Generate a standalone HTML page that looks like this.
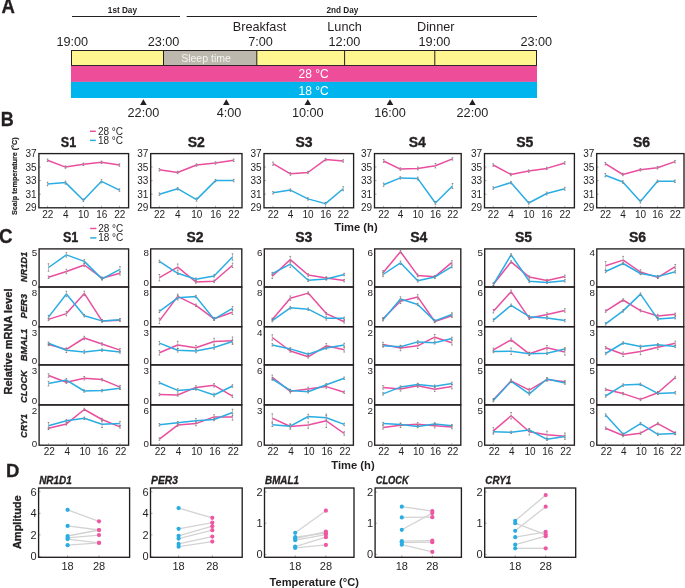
<!DOCTYPE html>
<html><head><meta charset="utf-8"><style>
html,body{margin:0;padding:0;background:#fff;}
svg{display:block;will-change:transform;}
text{font-family:"Liberation Sans", sans-serif;}
</style></head><body>
<svg width="685" height="588" viewBox="0 0 685 588" fill="#231f20" font-family='"Liberation Sans", sans-serif'>
<rect width="685" height="588" fill="#fff"/>
<text x="1.4" y="12.9" font-size="19.5" text-anchor="start" textLength="13.4" lengthAdjust="spacingAndGlyphs" font-weight="bold" stroke="#231f20" stroke-width="0.3">A</text>
<text x="122.4" y="13.1" font-size="8.2" text-anchor="middle" font-weight="bold">1st Day</text>
<text x="342.4" y="13.1" font-size="8.2" text-anchor="middle" font-weight="bold">2nd Day</text>
<line x1="72" y1="16.5" x2="180" y2="16.5" stroke="#231f20" stroke-width="1.1"/>
<line x1="186.7" y1="16.5" x2="537" y2="16.5" stroke="#231f20" stroke-width="1.1"/>
<text x="259.5" y="31" font-size="12.7" text-anchor="middle">Breakfast</text>
<text x="344.6" y="31" font-size="12.7" text-anchor="middle">Lunch</text>
<text x="435.8" y="31" font-size="12.7" text-anchor="middle">Dinner</text>
<text x="72.3" y="46" font-size="12.7" text-anchor="middle">19:00</text>
<text x="163.5" y="46" font-size="12.7" text-anchor="middle">23:00</text>
<text x="260.5" y="46" font-size="12.7" text-anchor="middle">7:00</text>
<text x="344.4" y="46" font-size="12.7" text-anchor="middle">12:00</text>
<text x="434.4" y="46" font-size="12.7" text-anchor="middle">19:00</text>
<text x="536.3" y="46" font-size="12.7" text-anchor="middle">23:00</text>
<rect x="71.5" y="50.5" width="465" height="15" fill="#fff68f" stroke="#231f20" stroke-width="1"/>
<rect x="163.5" y="50.5" width="93.3" height="15" fill="#bcb8ad" stroke="#231f20" stroke-width="1"/>
<line x1="344.6" y1="50.5" x2="344.6" y2="65.5" stroke="#231f20" stroke-width="1"/>
<line x1="434.8" y1="50.5" x2="434.8" y2="65.5" stroke="#231f20" stroke-width="1"/>
<text x="206" y="61.8" font-size="10.5" text-anchor="middle" fill="#f4f3ef">Sleep time</text>
<rect x="71" y="65.9" width="466" height="16.0" fill="#ed4d99" stroke="none" stroke-width="1"/>
<rect x="71" y="81.9" width="466" height="16.1" fill="#00b4ed" stroke="none" stroke-width="1"/>
<text x="298.5" y="78.3" font-size="12" text-anchor="start" fill="#ffffff">28 °C</text>
<text x="298.5" y="94.7" font-size="12" text-anchor="start" fill="#ffffff">18 °C</text>
<polygon points="140.1,105 146.70000000000002,105 143.4,99.3" fill="#231f20"/>
<text x="143.4" y="116.6" font-size="12.7" text-anchor="middle">22:00</text>
<polygon points="223.0,105 229.60000000000002,105 226.3,99.3" fill="#231f20"/>
<text x="229.10000000000002" y="116.6" font-size="12.7" text-anchor="middle">4:00</text>
<polygon points="304.5,105 311.1,105 307.8,99.3" fill="#231f20"/>
<text x="307.8" y="116.6" font-size="12.7" text-anchor="middle">10:00</text>
<polygon points="386.7,105 393.3,105 390,99.3" fill="#231f20"/>
<text x="390" y="116.6" font-size="12.7" text-anchor="middle">16:00</text>
<polygon points="469.09999999999997,105 475.7,105 472.4,99.3" fill="#231f20"/>
<text x="472.4" y="116.6" font-size="12.7" text-anchor="middle">22:00</text>
<text x="0.7" y="125.7" font-size="19.8" text-anchor="start" textLength="13.0" lengthAdjust="spacingAndGlyphs" font-weight="bold" stroke="#231f20" stroke-width="0.3">B</text>
<line x1="90" y1="131.3" x2="95.8" y2="131.3" stroke="#ea4e9f" stroke-width="1.5"/>
<text x="97.9" y="134.5" font-size="10" text-anchor="start">28 °C</text>
<line x1="90" y1="140.4" x2="95.8" y2="140.4" stroke="#29ade3" stroke-width="1.5"/>
<text x="97.9" y="143.8" font-size="10" text-anchor="start">18 °C</text>
<text x="17.4" y="176.2" font-size="7.2" text-anchor="middle" font-weight="bold" transform="rotate(-90 17.4 176.2)" stroke="#231f20" stroke-width="0.2">Scalp temperature (°C)</text>
<text x="68.5" y="146.5" font-size="14" text-anchor="middle" textLength="15.4" lengthAdjust="spacingAndGlyphs" font-weight="bold" stroke="#231f20" stroke-width="0.35">S1</text>
<line x1="47.5" y1="207.8" x2="47.5" y2="205.8" stroke="#777" stroke-width="0.6"/>
<line x1="65.5" y1="207.8" x2="65.5" y2="205.8" stroke="#777" stroke-width="0.6"/>
<line x1="83.4" y1="207.8" x2="83.4" y2="205.8" stroke="#777" stroke-width="0.6"/>
<line x1="101.5" y1="207.8" x2="101.5" y2="205.8" stroke="#777" stroke-width="0.6"/>
<line x1="119.5" y1="207.8" x2="119.5" y2="205.8" stroke="#777" stroke-width="0.6"/>
<line x1="38.9" y1="167.05" x2="40.9" y2="167.05" stroke="#777" stroke-width="0.6"/>
<line x1="38.9" y1="180.6" x2="40.9" y2="180.6" stroke="#777" stroke-width="0.6"/>
<line x1="38.9" y1="194.15" x2="40.9" y2="194.15" stroke="#777" stroke-width="0.6"/>
<polyline points="47.5,160.3 65.5,167.1 83.4,164.3 101.5,162.3 119.5,165.0" fill="none" stroke="#ea4e9f" stroke-width="1.5" stroke-linejoin="round"/>
<polyline points="47.5,184.0 65.5,182.6 83.4,200.2 101.5,181.3 119.5,190.1" fill="none" stroke="#29ade3" stroke-width="1.5" stroke-linejoin="round"/>
<line x1="47.5" y1="159.07500000000002" x2="47.5" y2="161.475" stroke="#a0a0a0" stroke-width="0.7"/>
<line x1="46.7" y1="159.07500000000002" x2="48.3" y2="159.07500000000002" stroke="#707070" stroke-width="0.8"/>
<line x1="46.7" y1="161.475" x2="48.3" y2="161.475" stroke="#707070" stroke-width="0.8"/>
<line x1="47.5" y1="182.1875" x2="47.5" y2="185.78750000000002" stroke="#a0a0a0" stroke-width="0.7"/>
<line x1="46.7" y1="182.1875" x2="48.3" y2="182.1875" stroke="#707070" stroke-width="0.8"/>
<line x1="46.7" y1="185.78750000000002" x2="48.3" y2="185.78750000000002" stroke="#707070" stroke-width="0.8"/>
<line x1="65.5" y1="165.85000000000002" x2="65.5" y2="168.25" stroke="#a0a0a0" stroke-width="0.7"/>
<line x1="64.7" y1="165.85000000000002" x2="66.3" y2="165.85000000000002" stroke="#707070" stroke-width="0.8"/>
<line x1="64.7" y1="168.25" x2="66.3" y2="168.25" stroke="#707070" stroke-width="0.8"/>
<line x1="65.5" y1="181.1325" x2="65.5" y2="184.1325" stroke="#a0a0a0" stroke-width="0.7"/>
<line x1="64.7" y1="181.1325" x2="66.3" y2="181.1325" stroke="#707070" stroke-width="0.8"/>
<line x1="64.7" y1="184.1325" x2="66.3" y2="184.1325" stroke="#707070" stroke-width="0.8"/>
<line x1="83.4" y1="163.14000000000001" x2="83.4" y2="165.54" stroke="#a0a0a0" stroke-width="0.7"/>
<line x1="82.60000000000001" y1="163.14000000000001" x2="84.2" y2="163.14000000000001" stroke="#707070" stroke-width="0.8"/>
<line x1="82.60000000000001" y1="165.54" x2="84.2" y2="165.54" stroke="#707070" stroke-width="0.8"/>
<line x1="83.4" y1="199.0475" x2="83.4" y2="201.4475" stroke="#a0a0a0" stroke-width="0.7"/>
<line x1="82.60000000000001" y1="199.0475" x2="84.2" y2="199.0475" stroke="#707070" stroke-width="0.8"/>
<line x1="82.60000000000001" y1="201.4475" x2="84.2" y2="201.4475" stroke="#707070" stroke-width="0.8"/>
<line x1="101.5" y1="161.1075" x2="101.5" y2="163.50749999999996" stroke="#a0a0a0" stroke-width="0.7"/>
<line x1="100.7" y1="161.1075" x2="102.3" y2="161.1075" stroke="#707070" stroke-width="0.8"/>
<line x1="100.7" y1="163.50749999999996" x2="102.3" y2="163.50749999999996" stroke="#707070" stroke-width="0.8"/>
<line x1="101.5" y1="179.6775" x2="101.5" y2="182.8775" stroke="#a0a0a0" stroke-width="0.7"/>
<line x1="100.7" y1="179.6775" x2="102.3" y2="179.6775" stroke="#707070" stroke-width="0.8"/>
<line x1="100.7" y1="182.8775" x2="102.3" y2="182.8775" stroke="#707070" stroke-width="0.8"/>
<line x1="119.5" y1="163.81750000000002" x2="119.5" y2="166.2175" stroke="#a0a0a0" stroke-width="0.7"/>
<line x1="118.7" y1="163.81750000000002" x2="120.3" y2="163.81750000000002" stroke="#707070" stroke-width="0.8"/>
<line x1="118.7" y1="166.2175" x2="120.3" y2="166.2175" stroke="#707070" stroke-width="0.8"/>
<line x1="119.5" y1="188.885" x2="119.5" y2="191.28499999999997" stroke="#a0a0a0" stroke-width="0.7"/>
<line x1="118.7" y1="188.885" x2="120.3" y2="188.885" stroke="#707070" stroke-width="0.8"/>
<line x1="118.7" y1="191.28499999999997" x2="120.3" y2="191.28499999999997" stroke="#707070" stroke-width="0.8"/>
<rect x="38.9" y="153.6" width="89.69999999999999" height="54.20000000000002" fill="none" stroke="#231f20" stroke-width="1.35"/>
<text x="36.6" y="157.1" font-size="10" text-anchor="end">37</text>
<text x="36.6" y="170.65" font-size="10" text-anchor="end">35</text>
<text x="36.6" y="184.2" font-size="10" text-anchor="end">33</text>
<text x="36.6" y="197.75" font-size="10" text-anchor="end">31</text>
<text x="36.6" y="211.29999999999998" font-size="10" text-anchor="end">29</text>
<text x="47.7" y="218" font-size="10" text-anchor="middle">22</text>
<text x="65.7" y="218" font-size="10" text-anchor="middle">4</text>
<text x="83.60000000000001" y="218" font-size="10" text-anchor="middle">10</text>
<text x="101.7" y="218" font-size="10" text-anchor="middle">16</text>
<text x="119.7" y="218" font-size="10" text-anchor="middle">22</text>
<text x="196.2" y="146.5" font-size="14" text-anchor="middle" font-weight="bold" stroke="#231f20" stroke-width="0.35">S2</text>
<line x1="159.4" y1="207.8" x2="159.4" y2="205.8" stroke="#777" stroke-width="0.6"/>
<line x1="177.6" y1="207.8" x2="177.6" y2="205.8" stroke="#777" stroke-width="0.6"/>
<line x1="196.5" y1="207.8" x2="196.5" y2="205.8" stroke="#777" stroke-width="0.6"/>
<line x1="215.5" y1="207.8" x2="215.5" y2="205.8" stroke="#777" stroke-width="0.6"/>
<line x1="233.7" y1="207.8" x2="233.7" y2="205.8" stroke="#777" stroke-width="0.6"/>
<line x1="150.7" y1="167.05" x2="152.7" y2="167.05" stroke="#777" stroke-width="0.6"/>
<line x1="150.7" y1="180.6" x2="152.7" y2="180.6" stroke="#777" stroke-width="0.6"/>
<line x1="150.7" y1="194.15" x2="152.7" y2="194.15" stroke="#777" stroke-width="0.6"/>
<polyline points="159.4,169.8 177.6,172.5 196.5,165.0 215.5,163.0 233.7,160.3" fill="none" stroke="#ea4e9f" stroke-width="1.5" stroke-linejoin="round"/>
<polyline points="159.4,194.2 177.6,188.7 196.5,199.6 215.5,180.6 233.7,180.6" fill="none" stroke="#29ade3" stroke-width="1.5" stroke-linejoin="round"/>
<line x1="159.4" y1="168.56" x2="159.4" y2="170.95999999999998" stroke="#a0a0a0" stroke-width="0.7"/>
<line x1="158.6" y1="168.56" x2="160.20000000000002" y2="168.56" stroke="#707070" stroke-width="0.8"/>
<line x1="158.6" y1="170.95999999999998" x2="160.20000000000002" y2="170.95999999999998" stroke="#707070" stroke-width="0.8"/>
<line x1="159.4" y1="192.95000000000002" x2="159.4" y2="195.35" stroke="#a0a0a0" stroke-width="0.7"/>
<line x1="158.6" y1="192.95000000000002" x2="160.20000000000002" y2="192.95000000000002" stroke="#707070" stroke-width="0.8"/>
<line x1="158.6" y1="195.35" x2="160.20000000000002" y2="195.35" stroke="#707070" stroke-width="0.8"/>
<line x1="177.6" y1="171.26999999999998" x2="177.6" y2="173.66999999999996" stroke="#a0a0a0" stroke-width="0.7"/>
<line x1="176.79999999999998" y1="171.26999999999998" x2="178.4" y2="171.26999999999998" stroke="#707070" stroke-width="0.8"/>
<line x1="176.79999999999998" y1="173.66999999999996" x2="178.4" y2="173.66999999999996" stroke="#707070" stroke-width="0.8"/>
<line x1="177.6" y1="187.53" x2="177.6" y2="189.92999999999998" stroke="#a0a0a0" stroke-width="0.7"/>
<line x1="176.79999999999998" y1="187.53" x2="178.4" y2="187.53" stroke="#707070" stroke-width="0.8"/>
<line x1="176.79999999999998" y1="189.92999999999998" x2="178.4" y2="189.92999999999998" stroke="#707070" stroke-width="0.8"/>
<line x1="196.5" y1="163.81750000000002" x2="196.5" y2="166.2175" stroke="#a0a0a0" stroke-width="0.7"/>
<line x1="195.7" y1="163.81750000000002" x2="197.3" y2="163.81750000000002" stroke="#707070" stroke-width="0.8"/>
<line x1="195.7" y1="166.2175" x2="197.3" y2="166.2175" stroke="#707070" stroke-width="0.8"/>
<line x1="196.5" y1="197.97" x2="196.5" y2="201.17" stroke="#a0a0a0" stroke-width="0.7"/>
<line x1="195.7" y1="197.97" x2="197.3" y2="197.97" stroke="#707070" stroke-width="0.8"/>
<line x1="195.7" y1="201.17" x2="197.3" y2="201.17" stroke="#707070" stroke-width="0.8"/>
<line x1="215.5" y1="161.785" x2="215.5" y2="164.18499999999997" stroke="#a0a0a0" stroke-width="0.7"/>
<line x1="214.7" y1="161.785" x2="216.3" y2="161.785" stroke="#707070" stroke-width="0.8"/>
<line x1="214.7" y1="164.18499999999997" x2="216.3" y2="164.18499999999997" stroke="#707070" stroke-width="0.8"/>
<line x1="215.5" y1="179.4" x2="215.5" y2="181.79999999999998" stroke="#a0a0a0" stroke-width="0.7"/>
<line x1="214.7" y1="179.4" x2="216.3" y2="179.4" stroke="#707070" stroke-width="0.8"/>
<line x1="214.7" y1="181.79999999999998" x2="216.3" y2="181.79999999999998" stroke="#707070" stroke-width="0.8"/>
<line x1="233.7" y1="159.07500000000002" x2="233.7" y2="161.475" stroke="#a0a0a0" stroke-width="0.7"/>
<line x1="232.89999999999998" y1="159.07500000000002" x2="234.5" y2="159.07500000000002" stroke="#707070" stroke-width="0.8"/>
<line x1="232.89999999999998" y1="161.475" x2="234.5" y2="161.475" stroke="#707070" stroke-width="0.8"/>
<line x1="233.7" y1="179.4" x2="233.7" y2="181.79999999999998" stroke="#a0a0a0" stroke-width="0.7"/>
<line x1="232.89999999999998" y1="179.4" x2="234.5" y2="179.4" stroke="#707070" stroke-width="0.8"/>
<line x1="232.89999999999998" y1="181.79999999999998" x2="234.5" y2="181.79999999999998" stroke="#707070" stroke-width="0.8"/>
<rect x="150.7" y="153.6" width="91.30000000000001" height="54.20000000000002" fill="none" stroke="#231f20" stroke-width="1.35"/>
<text x="148.39999999999998" y="157.1" font-size="10" text-anchor="end">37</text>
<text x="148.39999999999998" y="170.65" font-size="10" text-anchor="end">35</text>
<text x="148.39999999999998" y="184.2" font-size="10" text-anchor="end">33</text>
<text x="148.39999999999998" y="197.75" font-size="10" text-anchor="end">31</text>
<text x="148.39999999999998" y="211.29999999999998" font-size="10" text-anchor="end">29</text>
<text x="159.6" y="218" font-size="10" text-anchor="middle">22</text>
<text x="177.79999999999998" y="218" font-size="10" text-anchor="middle">4</text>
<text x="196.7" y="218" font-size="10" text-anchor="middle">10</text>
<text x="215.7" y="218" font-size="10" text-anchor="middle">16</text>
<text x="233.89999999999998" y="218" font-size="10" text-anchor="middle">22</text>
<text x="304.0" y="146.5" font-size="14" text-anchor="middle" font-weight="bold" stroke="#231f20" stroke-width="0.35">S3</text>
<line x1="273.0" y1="207.8" x2="273.0" y2="205.8" stroke="#777" stroke-width="0.6"/>
<line x1="290.4" y1="207.8" x2="290.4" y2="205.8" stroke="#777" stroke-width="0.6"/>
<line x1="307.9" y1="207.8" x2="307.9" y2="205.8" stroke="#777" stroke-width="0.6"/>
<line x1="325.5" y1="207.8" x2="325.5" y2="205.8" stroke="#777" stroke-width="0.6"/>
<line x1="343.2" y1="207.8" x2="343.2" y2="205.8" stroke="#777" stroke-width="0.6"/>
<line x1="264.0" y1="167.05" x2="266.0" y2="167.05" stroke="#777" stroke-width="0.6"/>
<line x1="264.0" y1="180.6" x2="266.0" y2="180.6" stroke="#777" stroke-width="0.6"/>
<line x1="264.0" y1="194.15" x2="266.0" y2="194.15" stroke="#777" stroke-width="0.6"/>
<polyline points="273.0,163.7 290.4,173.8 307.9,172.5 325.5,159.6 343.2,161.0" fill="none" stroke="#ea4e9f" stroke-width="1.5" stroke-linejoin="round"/>
<polyline points="273.0,192.8 290.4,190.1 307.9,198.9 325.5,203.6 343.2,188.7" fill="none" stroke="#29ade3" stroke-width="1.5" stroke-linejoin="round"/>
<line x1="273.0" y1="162.0625" x2="273.0" y2="165.2625" stroke="#a0a0a0" stroke-width="0.7"/>
<line x1="272.2" y1="162.0625" x2="273.8" y2="162.0625" stroke="#707070" stroke-width="0.8"/>
<line x1="272.2" y1="165.2625" x2="273.8" y2="165.2625" stroke="#707070" stroke-width="0.8"/>
<line x1="273.0" y1="191.59500000000003" x2="273.0" y2="193.995" stroke="#a0a0a0" stroke-width="0.7"/>
<line x1="272.2" y1="191.59500000000003" x2="273.8" y2="191.59500000000003" stroke="#707070" stroke-width="0.8"/>
<line x1="272.2" y1="193.995" x2="273.8" y2="193.995" stroke="#707070" stroke-width="0.8"/>
<line x1="290.4" y1="172.42499999999998" x2="290.4" y2="175.225" stroke="#a0a0a0" stroke-width="0.7"/>
<line x1="289.59999999999997" y1="172.42499999999998" x2="291.2" y2="172.42499999999998" stroke="#707070" stroke-width="0.8"/>
<line x1="289.59999999999997" y1="175.225" x2="291.2" y2="175.225" stroke="#707070" stroke-width="0.8"/>
<line x1="290.4" y1="188.885" x2="290.4" y2="191.28499999999997" stroke="#a0a0a0" stroke-width="0.7"/>
<line x1="289.59999999999997" y1="188.885" x2="291.2" y2="188.885" stroke="#707070" stroke-width="0.8"/>
<line x1="289.59999999999997" y1="191.28499999999997" x2="291.2" y2="191.28499999999997" stroke="#707070" stroke-width="0.8"/>
<line x1="307.9" y1="171.26999999999998" x2="307.9" y2="173.66999999999996" stroke="#a0a0a0" stroke-width="0.7"/>
<line x1="307.09999999999997" y1="171.26999999999998" x2="308.7" y2="171.26999999999998" stroke="#707070" stroke-width="0.8"/>
<line x1="307.09999999999997" y1="173.66999999999996" x2="308.7" y2="173.66999999999996" stroke="#707070" stroke-width="0.8"/>
<line x1="307.9" y1="197.6925" x2="307.9" y2="200.09249999999997" stroke="#a0a0a0" stroke-width="0.7"/>
<line x1="307.09999999999997" y1="197.6925" x2="308.7" y2="197.6925" stroke="#707070" stroke-width="0.8"/>
<line x1="307.09999999999997" y1="200.09249999999997" x2="308.7" y2="200.09249999999997" stroke="#707070" stroke-width="0.8"/>
<line x1="325.5" y1="158.3975" x2="325.5" y2="160.79749999999999" stroke="#a0a0a0" stroke-width="0.7"/>
<line x1="324.7" y1="158.3975" x2="326.3" y2="158.3975" stroke="#707070" stroke-width="0.8"/>
<line x1="324.7" y1="160.79749999999999" x2="326.3" y2="160.79749999999999" stroke="#707070" stroke-width="0.8"/>
<line x1="325.5" y1="202.435" x2="325.5" y2="204.83499999999998" stroke="#a0a0a0" stroke-width="0.7"/>
<line x1="324.7" y1="202.435" x2="326.3" y2="202.435" stroke="#707070" stroke-width="0.8"/>
<line x1="324.7" y1="204.83499999999998" x2="326.3" y2="204.83499999999998" stroke="#707070" stroke-width="0.8"/>
<line x1="343.2" y1="159.75250000000003" x2="343.2" y2="162.1525" stroke="#a0a0a0" stroke-width="0.7"/>
<line x1="342.4" y1="159.75250000000003" x2="344.0" y2="159.75250000000003" stroke="#707070" stroke-width="0.8"/>
<line x1="342.4" y1="162.1525" x2="344.0" y2="162.1525" stroke="#707070" stroke-width="0.8"/>
<line x1="343.2" y1="186.73" x2="343.2" y2="190.73" stroke="#a0a0a0" stroke-width="0.7"/>
<line x1="342.4" y1="186.73" x2="344.0" y2="186.73" stroke="#707070" stroke-width="0.8"/>
<line x1="342.4" y1="190.73" x2="344.0" y2="190.73" stroke="#707070" stroke-width="0.8"/>
<rect x="264.0" y="153.6" width="89.60000000000002" height="54.20000000000002" fill="none" stroke="#231f20" stroke-width="1.35"/>
<text x="261.7" y="157.1" font-size="10" text-anchor="end">37</text>
<text x="261.7" y="170.65" font-size="10" text-anchor="end">35</text>
<text x="261.7" y="184.2" font-size="10" text-anchor="end">33</text>
<text x="261.7" y="197.75" font-size="10" text-anchor="end">31</text>
<text x="261.7" y="211.29999999999998" font-size="10" text-anchor="end">29</text>
<text x="273.2" y="218" font-size="10" text-anchor="middle">22</text>
<text x="290.59999999999997" y="218" font-size="10" text-anchor="middle">4</text>
<text x="308.09999999999997" y="218" font-size="10" text-anchor="middle">10</text>
<text x="325.7" y="218" font-size="10" text-anchor="middle">16</text>
<text x="343.4" y="218" font-size="10" text-anchor="middle">22</text>
<text x="417.3" y="146.5" font-size="14" text-anchor="middle" font-weight="bold" stroke="#231f20" stroke-width="0.35">S4</text>
<line x1="383.6" y1="207.8" x2="383.6" y2="205.8" stroke="#777" stroke-width="0.6"/>
<line x1="400.3" y1="207.8" x2="400.3" y2="205.8" stroke="#777" stroke-width="0.6"/>
<line x1="417.8" y1="207.8" x2="417.8" y2="205.8" stroke="#777" stroke-width="0.6"/>
<line x1="435.4" y1="207.8" x2="435.4" y2="205.8" stroke="#777" stroke-width="0.6"/>
<line x1="452.5" y1="207.8" x2="452.5" y2="205.8" stroke="#777" stroke-width="0.6"/>
<line x1="374.5" y1="167.05" x2="376.5" y2="167.05" stroke="#777" stroke-width="0.6"/>
<line x1="374.5" y1="180.6" x2="376.5" y2="180.6" stroke="#777" stroke-width="0.6"/>
<line x1="374.5" y1="194.15" x2="376.5" y2="194.15" stroke="#777" stroke-width="0.6"/>
<polyline points="383.6,161.0 400.3,169.1 417.8,168.4 435.4,165.7 452.5,158.9" fill="none" stroke="#ea4e9f" stroke-width="1.5" stroke-linejoin="round"/>
<polyline points="383.6,184.7 400.3,177.9 417.8,178.6 435.4,203.0 452.5,186.0" fill="none" stroke="#29ade3" stroke-width="1.5" stroke-linejoin="round"/>
<line x1="383.6" y1="159.5525" x2="383.6" y2="162.35250000000002" stroke="#a0a0a0" stroke-width="0.7"/>
<line x1="382.8" y1="159.5525" x2="384.40000000000003" y2="159.5525" stroke="#707070" stroke-width="0.8"/>
<line x1="382.8" y1="162.35250000000002" x2="384.40000000000003" y2="162.35250000000002" stroke="#707070" stroke-width="0.8"/>
<line x1="383.6" y1="183.06500000000003" x2="383.6" y2="186.26500000000001" stroke="#a0a0a0" stroke-width="0.7"/>
<line x1="382.8" y1="183.06500000000003" x2="384.40000000000003" y2="183.06500000000003" stroke="#707070" stroke-width="0.8"/>
<line x1="382.8" y1="186.26500000000001" x2="384.40000000000003" y2="186.26500000000001" stroke="#707070" stroke-width="0.8"/>
<line x1="400.3" y1="167.8825" x2="400.3" y2="170.28249999999997" stroke="#a0a0a0" stroke-width="0.7"/>
<line x1="399.5" y1="167.8825" x2="401.1" y2="167.8825" stroke="#707070" stroke-width="0.8"/>
<line x1="399.5" y1="170.28249999999997" x2="401.1" y2="170.28249999999997" stroke="#707070" stroke-width="0.8"/>
<line x1="400.3" y1="176.69000000000003" x2="400.3" y2="179.09" stroke="#a0a0a0" stroke-width="0.7"/>
<line x1="399.5" y1="176.69000000000003" x2="401.1" y2="176.69000000000003" stroke="#707070" stroke-width="0.8"/>
<line x1="399.5" y1="179.09" x2="401.1" y2="179.09" stroke="#707070" stroke-width="0.8"/>
<line x1="417.8" y1="167.00500000000002" x2="417.8" y2="169.80500000000004" stroke="#a0a0a0" stroke-width="0.7"/>
<line x1="417.0" y1="167.00500000000002" x2="418.6" y2="167.00500000000002" stroke="#707070" stroke-width="0.8"/>
<line x1="417.0" y1="169.80500000000004" x2="418.6" y2="169.80500000000004" stroke="#707070" stroke-width="0.8"/>
<line x1="417.8" y1="177.16750000000002" x2="417.8" y2="179.96750000000003" stroke="#a0a0a0" stroke-width="0.7"/>
<line x1="417.0" y1="177.16750000000002" x2="418.6" y2="177.16750000000002" stroke="#707070" stroke-width="0.8"/>
<line x1="417.0" y1="179.96750000000003" x2="418.6" y2="179.96750000000003" stroke="#707070" stroke-width="0.8"/>
<line x1="435.4" y1="163.495" x2="435.4" y2="167.89499999999998" stroke="#a0a0a0" stroke-width="0.7"/>
<line x1="434.59999999999997" y1="163.495" x2="436.2" y2="163.495" stroke="#707070" stroke-width="0.8"/>
<line x1="434.59999999999997" y1="167.89499999999998" x2="436.2" y2="167.89499999999998" stroke="#707070" stroke-width="0.8"/>
<line x1="435.4" y1="201.5575" x2="435.4" y2="204.35750000000002" stroke="#a0a0a0" stroke-width="0.7"/>
<line x1="434.59999999999997" y1="201.5575" x2="436.2" y2="201.5575" stroke="#707070" stroke-width="0.8"/>
<line x1="434.59999999999997" y1="204.35750000000002" x2="436.2" y2="204.35750000000002" stroke="#707070" stroke-width="0.8"/>
<line x1="452.5" y1="157.72" x2="452.5" y2="160.11999999999998" stroke="#a0a0a0" stroke-width="0.7"/>
<line x1="451.7" y1="157.72" x2="453.3" y2="157.72" stroke="#707070" stroke-width="0.8"/>
<line x1="451.7" y1="160.11999999999998" x2="453.3" y2="160.11999999999998" stroke="#707070" stroke-width="0.8"/>
<line x1="452.5" y1="183.51999999999998" x2="452.5" y2="188.51999999999998" stroke="#a0a0a0" stroke-width="0.7"/>
<line x1="451.7" y1="183.51999999999998" x2="453.3" y2="183.51999999999998" stroke="#707070" stroke-width="0.8"/>
<line x1="451.7" y1="188.51999999999998" x2="453.3" y2="188.51999999999998" stroke="#707070" stroke-width="0.8"/>
<rect x="374.5" y="153.6" width="86.69999999999999" height="54.20000000000002" fill="none" stroke="#231f20" stroke-width="1.35"/>
<text x="372.2" y="157.1" font-size="10" text-anchor="end">37</text>
<text x="372.2" y="170.65" font-size="10" text-anchor="end">35</text>
<text x="372.2" y="184.2" font-size="10" text-anchor="end">33</text>
<text x="372.2" y="197.75" font-size="10" text-anchor="end">31</text>
<text x="372.2" y="211.29999999999998" font-size="10" text-anchor="end">29</text>
<text x="383.8" y="218" font-size="10" text-anchor="middle">22</text>
<text x="400.5" y="218" font-size="10" text-anchor="middle">4</text>
<text x="418.0" y="218" font-size="10" text-anchor="middle">10</text>
<text x="435.59999999999997" y="218" font-size="10" text-anchor="middle">16</text>
<text x="452.7" y="218" font-size="10" text-anchor="middle">22</text>
<text x="524.7" y="146.5" font-size="14" text-anchor="middle" font-weight="bold" stroke="#231f20" stroke-width="0.35">S5</text>
<line x1="493.2" y1="207.8" x2="493.2" y2="205.8" stroke="#777" stroke-width="0.6"/>
<line x1="510.9" y1="207.8" x2="510.9" y2="205.8" stroke="#777" stroke-width="0.6"/>
<line x1="528.7" y1="207.8" x2="528.7" y2="205.8" stroke="#777" stroke-width="0.6"/>
<line x1="546.7" y1="207.8" x2="546.7" y2="205.8" stroke="#777" stroke-width="0.6"/>
<line x1="564.8" y1="207.8" x2="564.8" y2="205.8" stroke="#777" stroke-width="0.6"/>
<line x1="484.5" y1="167.05" x2="486.5" y2="167.05" stroke="#777" stroke-width="0.6"/>
<line x1="484.5" y1="180.6" x2="486.5" y2="180.6" stroke="#777" stroke-width="0.6"/>
<line x1="484.5" y1="194.15" x2="486.5" y2="194.15" stroke="#777" stroke-width="0.6"/>
<polyline points="493.2,165.0 510.9,174.5 528.7,171.1 546.7,168.4 564.8,163.0" fill="none" stroke="#ea4e9f" stroke-width="1.5" stroke-linejoin="round"/>
<polyline points="493.2,188.1 510.9,182.6 528.7,203.0 546.7,193.5 564.8,188.7" fill="none" stroke="#29ade3" stroke-width="1.5" stroke-linejoin="round"/>
<line x1="493.2" y1="163.81750000000002" x2="493.2" y2="166.2175" stroke="#a0a0a0" stroke-width="0.7"/>
<line x1="492.4" y1="163.81750000000002" x2="494.0" y2="163.81750000000002" stroke="#707070" stroke-width="0.8"/>
<line x1="492.4" y1="166.2175" x2="494.0" y2="166.2175" stroke="#707070" stroke-width="0.8"/>
<line x1="493.2" y1="186.85250000000002" x2="493.2" y2="189.2525" stroke="#a0a0a0" stroke-width="0.7"/>
<line x1="492.4" y1="186.85250000000002" x2="494.0" y2="186.85250000000002" stroke="#707070" stroke-width="0.8"/>
<line x1="492.4" y1="189.2525" x2="494.0" y2="189.2525" stroke="#707070" stroke-width="0.8"/>
<line x1="510.9" y1="173.3025" x2="510.9" y2="175.7025" stroke="#a0a0a0" stroke-width="0.7"/>
<line x1="510.09999999999997" y1="173.3025" x2="511.7" y2="173.3025" stroke="#707070" stroke-width="0.8"/>
<line x1="510.09999999999997" y1="175.7025" x2="511.7" y2="175.7025" stroke="#707070" stroke-width="0.8"/>
<line x1="510.9" y1="181.4325" x2="510.9" y2="183.83249999999998" stroke="#a0a0a0" stroke-width="0.7"/>
<line x1="510.09999999999997" y1="181.4325" x2="511.7" y2="181.4325" stroke="#707070" stroke-width="0.8"/>
<line x1="510.09999999999997" y1="183.83249999999998" x2="511.7" y2="183.83249999999998" stroke="#707070" stroke-width="0.8"/>
<line x1="528.7" y1="169.91500000000002" x2="528.7" y2="172.315" stroke="#a0a0a0" stroke-width="0.7"/>
<line x1="527.9000000000001" y1="169.91500000000002" x2="529.5" y2="169.91500000000002" stroke="#707070" stroke-width="0.8"/>
<line x1="527.9000000000001" y1="172.315" x2="529.5" y2="172.315" stroke="#707070" stroke-width="0.8"/>
<line x1="528.7" y1="201.75750000000002" x2="528.7" y2="204.1575" stroke="#a0a0a0" stroke-width="0.7"/>
<line x1="527.9000000000001" y1="201.75750000000002" x2="529.5" y2="201.75750000000002" stroke="#707070" stroke-width="0.8"/>
<line x1="527.9000000000001" y1="204.1575" x2="529.5" y2="204.1575" stroke="#707070" stroke-width="0.8"/>
<line x1="546.7" y1="167.20500000000004" x2="546.7" y2="169.60500000000002" stroke="#a0a0a0" stroke-width="0.7"/>
<line x1="545.9000000000001" y1="167.20500000000004" x2="547.5" y2="167.20500000000004" stroke="#707070" stroke-width="0.8"/>
<line x1="545.9000000000001" y1="169.60500000000002" x2="547.5" y2="169.60500000000002" stroke="#707070" stroke-width="0.8"/>
<line x1="546.7" y1="192.0725" x2="546.7" y2="194.8725" stroke="#a0a0a0" stroke-width="0.7"/>
<line x1="545.9000000000001" y1="192.0725" x2="547.5" y2="192.0725" stroke="#707070" stroke-width="0.8"/>
<line x1="545.9000000000001" y1="194.8725" x2="547.5" y2="194.8725" stroke="#707070" stroke-width="0.8"/>
<line x1="564.8" y1="161.785" x2="564.8" y2="164.18499999999997" stroke="#a0a0a0" stroke-width="0.7"/>
<line x1="564.0" y1="161.785" x2="565.5999999999999" y2="161.785" stroke="#707070" stroke-width="0.8"/>
<line x1="564.0" y1="164.18499999999997" x2="565.5999999999999" y2="164.18499999999997" stroke="#707070" stroke-width="0.8"/>
<line x1="564.8" y1="187.32999999999998" x2="564.8" y2="190.13" stroke="#a0a0a0" stroke-width="0.7"/>
<line x1="564.0" y1="187.32999999999998" x2="565.5999999999999" y2="187.32999999999998" stroke="#707070" stroke-width="0.8"/>
<line x1="564.0" y1="190.13" x2="565.5999999999999" y2="190.13" stroke="#707070" stroke-width="0.8"/>
<rect x="484.5" y="153.6" width="89.89999999999998" height="54.20000000000002" fill="none" stroke="#231f20" stroke-width="1.35"/>
<text x="482.2" y="157.1" font-size="10" text-anchor="end">37</text>
<text x="482.2" y="170.65" font-size="10" text-anchor="end">35</text>
<text x="482.2" y="184.2" font-size="10" text-anchor="end">33</text>
<text x="482.2" y="197.75" font-size="10" text-anchor="end">31</text>
<text x="482.2" y="211.29999999999998" font-size="10" text-anchor="end">29</text>
<text x="493.4" y="218" font-size="10" text-anchor="middle">22</text>
<text x="511.09999999999997" y="218" font-size="10" text-anchor="middle">4</text>
<text x="528.9000000000001" y="218" font-size="10" text-anchor="middle">10</text>
<text x="546.9000000000001" y="218" font-size="10" text-anchor="middle">16</text>
<text x="565.0" y="218" font-size="10" text-anchor="middle">22</text>
<text x="641.5" y="146.5" font-size="14" text-anchor="middle" font-weight="bold" stroke="#231f20" stroke-width="0.35">S6</text>
<line x1="605.3" y1="207.8" x2="605.3" y2="205.8" stroke="#777" stroke-width="0.6"/>
<line x1="622.8" y1="207.8" x2="622.8" y2="205.8" stroke="#777" stroke-width="0.6"/>
<line x1="640.4" y1="207.8" x2="640.4" y2="205.8" stroke="#777" stroke-width="0.6"/>
<line x1="657.5" y1="207.8" x2="657.5" y2="205.8" stroke="#777" stroke-width="0.6"/>
<line x1="675.0" y1="207.8" x2="675.0" y2="205.8" stroke="#777" stroke-width="0.6"/>
<line x1="596.7" y1="167.05" x2="598.7" y2="167.05" stroke="#777" stroke-width="0.6"/>
<line x1="596.7" y1="180.6" x2="598.7" y2="180.6" stroke="#777" stroke-width="0.6"/>
<line x1="596.7" y1="194.15" x2="598.7" y2="194.15" stroke="#777" stroke-width="0.6"/>
<polyline points="605.3,163.7 622.8,174.5 640.4,169.8 657.5,167.7 675.0,161.6" fill="none" stroke="#ea4e9f" stroke-width="1.5" stroke-linejoin="round"/>
<polyline points="605.3,175.2 622.8,182.0 640.4,201.6 657.5,181.3 675.0,181.3" fill="none" stroke="#29ade3" stroke-width="1.5" stroke-linejoin="round"/>
<line x1="605.3" y1="162.4625" x2="605.3" y2="164.86249999999998" stroke="#a0a0a0" stroke-width="0.7"/>
<line x1="604.5" y1="162.4625" x2="606.0999999999999" y2="162.4625" stroke="#707070" stroke-width="0.8"/>
<line x1="604.5" y1="164.86249999999998" x2="606.0999999999999" y2="164.86249999999998" stroke="#707070" stroke-width="0.8"/>
<line x1="605.3" y1="173.58" x2="605.3" y2="176.78" stroke="#a0a0a0" stroke-width="0.7"/>
<line x1="604.5" y1="173.58" x2="606.0999999999999" y2="173.58" stroke="#707070" stroke-width="0.8"/>
<line x1="604.5" y1="176.78" x2="606.0999999999999" y2="176.78" stroke="#707070" stroke-width="0.8"/>
<line x1="622.8" y1="173.3025" x2="622.8" y2="175.7025" stroke="#a0a0a0" stroke-width="0.7"/>
<line x1="622.0" y1="173.3025" x2="623.5999999999999" y2="173.3025" stroke="#707070" stroke-width="0.8"/>
<line x1="622.0" y1="175.7025" x2="623.5999999999999" y2="175.7025" stroke="#707070" stroke-width="0.8"/>
<line x1="622.8" y1="180.75500000000002" x2="622.8" y2="183.155" stroke="#a0a0a0" stroke-width="0.7"/>
<line x1="622.0" y1="180.75500000000002" x2="623.5999999999999" y2="180.75500000000002" stroke="#707070" stroke-width="0.8"/>
<line x1="622.0" y1="183.155" x2="623.5999999999999" y2="183.155" stroke="#707070" stroke-width="0.8"/>
<line x1="640.4" y1="168.56" x2="640.4" y2="170.95999999999998" stroke="#a0a0a0" stroke-width="0.7"/>
<line x1="639.6" y1="168.56" x2="641.1999999999999" y2="168.56" stroke="#707070" stroke-width="0.8"/>
<line x1="639.6" y1="170.95999999999998" x2="641.1999999999999" y2="170.95999999999998" stroke="#707070" stroke-width="0.8"/>
<line x1="640.4" y1="200.10250000000002" x2="640.4" y2="203.10250000000002" stroke="#a0a0a0" stroke-width="0.7"/>
<line x1="639.6" y1="200.10250000000002" x2="641.1999999999999" y2="200.10250000000002" stroke="#707070" stroke-width="0.8"/>
<line x1="639.6" y1="203.10250000000002" x2="641.1999999999999" y2="203.10250000000002" stroke="#707070" stroke-width="0.8"/>
<line x1="657.5" y1="166.52750000000003" x2="657.5" y2="168.9275" stroke="#a0a0a0" stroke-width="0.7"/>
<line x1="656.7" y1="166.52750000000003" x2="658.3" y2="166.52750000000003" stroke="#707070" stroke-width="0.8"/>
<line x1="656.7" y1="168.9275" x2="658.3" y2="168.9275" stroke="#707070" stroke-width="0.8"/>
<line x1="657.5" y1="180.07750000000001" x2="657.5" y2="182.4775" stroke="#a0a0a0" stroke-width="0.7"/>
<line x1="656.7" y1="180.07750000000001" x2="658.3" y2="180.07750000000001" stroke="#707070" stroke-width="0.8"/>
<line x1="656.7" y1="182.4775" x2="658.3" y2="182.4775" stroke="#707070" stroke-width="0.8"/>
<line x1="675.0" y1="160.43000000000004" x2="675.0" y2="162.83" stroke="#a0a0a0" stroke-width="0.7"/>
<line x1="674.2" y1="160.43000000000004" x2="675.8" y2="160.43000000000004" stroke="#707070" stroke-width="0.8"/>
<line x1="674.2" y1="162.83" x2="675.8" y2="162.83" stroke="#707070" stroke-width="0.8"/>
<line x1="675.0" y1="180.07750000000001" x2="675.0" y2="182.4775" stroke="#a0a0a0" stroke-width="0.7"/>
<line x1="674.2" y1="180.07750000000001" x2="675.8" y2="180.07750000000001" stroke="#707070" stroke-width="0.8"/>
<line x1="674.2" y1="182.4775" x2="675.8" y2="182.4775" stroke="#707070" stroke-width="0.8"/>
<rect x="596.7" y="153.6" width="87.29999999999995" height="54.20000000000002" fill="none" stroke="#231f20" stroke-width="1.35"/>
<text x="594.4000000000001" y="157.1" font-size="10" text-anchor="end">37</text>
<text x="594.4000000000001" y="170.65" font-size="10" text-anchor="end">35</text>
<text x="594.4000000000001" y="184.2" font-size="10" text-anchor="end">33</text>
<text x="594.4000000000001" y="197.75" font-size="10" text-anchor="end">31</text>
<text x="594.4000000000001" y="211.29999999999998" font-size="10" text-anchor="end">29</text>
<text x="605.5" y="218" font-size="10" text-anchor="middle">22</text>
<text x="623.0" y="218" font-size="10" text-anchor="middle">4</text>
<text x="640.6" y="218" font-size="10" text-anchor="middle">10</text>
<text x="657.7" y="218" font-size="10" text-anchor="middle">16</text>
<text x="675.2" y="218" font-size="10" text-anchor="middle">22</text>
<text x="356.0" y="231.2" font-size="11.2" text-anchor="middle" font-weight="bold">Time (h)</text>
<text x="-1.0" y="243.0" font-size="19.8" text-anchor="start" textLength="13.6" lengthAdjust="spacingAndGlyphs" font-weight="bold" stroke="#231f20" stroke-width="0.3">C</text>
<line x1="90.2" y1="228.5" x2="96.4" y2="228.5" stroke="#ea4e9f" stroke-width="1.5"/>
<text x="98.2" y="231.7" font-size="10" text-anchor="start">28 °C</text>
<line x1="90.2" y1="237.9" x2="96.4" y2="237.9" stroke="#29ade3" stroke-width="1.5"/>
<text x="98.2" y="241.4" font-size="10" text-anchor="start">18 °C</text>
<text x="27.1" y="267" font-size="9.6" text-anchor="middle" textLength="30.4" lengthAdjust="spacingAndGlyphs" font-weight="bold" font-style="italic" transform="rotate(-90 27.1 267)" stroke="#231f20" stroke-width="0.3">NR1D1</text>
<text x="27.1" y="306.3" font-size="9.6" text-anchor="middle" textLength="24.6" lengthAdjust="spacingAndGlyphs" font-weight="bold" font-style="italic" transform="rotate(-90 27.1 306.3)" stroke="#231f20" stroke-width="0.3">PER3</text>
<text x="27.1" y="345.0" font-size="9.6" text-anchor="middle" textLength="32.4" lengthAdjust="spacingAndGlyphs" font-weight="bold" font-style="italic" transform="rotate(-90 27.1 345.0)" stroke="#231f20" stroke-width="0.3">BMAL1</text>
<text x="27.1" y="386.6" font-size="9.6" text-anchor="middle" textLength="32.6" lengthAdjust="spacingAndGlyphs" font-weight="bold" font-style="italic" transform="rotate(-90 27.1 386.6)" stroke="#231f20" stroke-width="0.3">CLOCK</text>
<text x="27.1" y="425.9" font-size="9.6" text-anchor="middle" textLength="24.0" lengthAdjust="spacingAndGlyphs" font-weight="bold" font-style="italic" transform="rotate(-90 27.1 425.9)" stroke="#231f20" stroke-width="0.3">CRY1</text>
<text x="11.9" y="341.5" font-size="11" text-anchor="middle" font-weight="bold" transform="rotate(-90 11.9 341.5)" stroke="#231f20" stroke-width="0.3">Relative mRNA level</text>
<text x="70.6" y="242.4" font-size="14" text-anchor="middle" textLength="15.4" lengthAdjust="spacingAndGlyphs" font-weight="bold" stroke="#231f20" stroke-width="0.35">S1</text>
<polyline points="48.5,277.3 66.4,271.5 84.3,265.0 102.0,278.2 120.0,273.3" fill="none" stroke="#ea4e9f" stroke-width="1.5" stroke-linejoin="round"/>
<polyline points="48.5,267.5 66.4,254.9 84.3,261.4 102.0,278.9 120.0,269.4" fill="none" stroke="#29ade3" stroke-width="1.5" stroke-linejoin="round"/>
<line x1="48.5" y1="276.1" x2="48.5" y2="278.5" stroke="#a0a0a0" stroke-width="0.7"/>
<line x1="47.7" y1="276.1" x2="49.3" y2="276.1" stroke="#707070" stroke-width="0.8"/>
<line x1="47.7" y1="278.5" x2="49.3" y2="278.5" stroke="#707070" stroke-width="0.8"/>
<line x1="48.5" y1="263.8" x2="48.5" y2="271.2" stroke="#a0a0a0" stroke-width="0.7"/>
<line x1="47.7" y1="263.8" x2="49.3" y2="263.8" stroke="#707070" stroke-width="0.8"/>
<line x1="47.7" y1="271.2" x2="49.3" y2="271.2" stroke="#707070" stroke-width="0.8"/>
<line x1="66.4" y1="269.3" x2="66.4" y2="273.7" stroke="#a0a0a0" stroke-width="0.7"/>
<line x1="65.60000000000001" y1="269.3" x2="67.2" y2="269.3" stroke="#707070" stroke-width="0.8"/>
<line x1="65.60000000000001" y1="273.7" x2="67.2" y2="273.7" stroke="#707070" stroke-width="0.8"/>
<line x1="66.4" y1="252.70000000000002" x2="66.4" y2="257.1" stroke="#a0a0a0" stroke-width="0.7"/>
<line x1="65.60000000000001" y1="252.70000000000002" x2="67.2" y2="252.70000000000002" stroke="#707070" stroke-width="0.8"/>
<line x1="65.60000000000001" y1="257.1" x2="67.2" y2="257.1" stroke="#707070" stroke-width="0.8"/>
<line x1="84.3" y1="263.3" x2="84.3" y2="266.7" stroke="#a0a0a0" stroke-width="0.7"/>
<line x1="83.5" y1="263.3" x2="85.1" y2="263.3" stroke="#707070" stroke-width="0.8"/>
<line x1="83.5" y1="266.7" x2="85.1" y2="266.7" stroke="#707070" stroke-width="0.8"/>
<line x1="84.3" y1="259.7" x2="84.3" y2="263.09999999999997" stroke="#a0a0a0" stroke-width="0.7"/>
<line x1="83.5" y1="259.7" x2="85.1" y2="259.7" stroke="#707070" stroke-width="0.8"/>
<line x1="83.5" y1="263.09999999999997" x2="85.1" y2="263.09999999999997" stroke="#707070" stroke-width="0.8"/>
<line x1="102.0" y1="277.0" x2="102.0" y2="279.4" stroke="#a0a0a0" stroke-width="0.7"/>
<line x1="101.2" y1="277.0" x2="102.8" y2="277.0" stroke="#707070" stroke-width="0.8"/>
<line x1="101.2" y1="279.4" x2="102.8" y2="279.4" stroke="#707070" stroke-width="0.8"/>
<line x1="102.0" y1="277.7" x2="102.0" y2="280.09999999999997" stroke="#a0a0a0" stroke-width="0.7"/>
<line x1="101.2" y1="277.7" x2="102.8" y2="277.7" stroke="#707070" stroke-width="0.8"/>
<line x1="101.2" y1="280.09999999999997" x2="102.8" y2="280.09999999999997" stroke="#707070" stroke-width="0.8"/>
<line x1="120.0" y1="271.6" x2="120.0" y2="275.0" stroke="#a0a0a0" stroke-width="0.7"/>
<line x1="119.2" y1="271.6" x2="120.8" y2="271.6" stroke="#707070" stroke-width="0.8"/>
<line x1="119.2" y1="275.0" x2="120.8" y2="275.0" stroke="#707070" stroke-width="0.8"/>
<line x1="120.0" y1="266.7" x2="120.0" y2="272.09999999999997" stroke="#a0a0a0" stroke-width="0.7"/>
<line x1="119.2" y1="266.7" x2="120.8" y2="266.7" stroke="#707070" stroke-width="0.8"/>
<line x1="119.2" y1="272.09999999999997" x2="120.8" y2="272.09999999999997" stroke="#707070" stroke-width="0.8"/>
<rect x="39.1" y="248.9" width="89.5" height="38.099999999999994" fill="none" stroke="#231f20" stroke-width="1.35"/>
<text x="37.300000000000004" y="255.6" font-size="9.8" text-anchor="end">5</text>
<text x="37.300000000000004" y="286.0" font-size="9.8" text-anchor="end">0</text>
<polyline points="48.5,319.4 66.4,313.6 84.3,293.4 102.0,320.9 120.0,320.2" fill="none" stroke="#ea4e9f" stroke-width="1.5" stroke-linejoin="round"/>
<polyline points="48.5,317.1 66.4,294.0 84.3,315.7 102.0,320.9 120.0,319.7" fill="none" stroke="#29ade3" stroke-width="1.5" stroke-linejoin="round"/>
<line x1="48.5" y1="318.2" x2="48.5" y2="320.59999999999997" stroke="#a0a0a0" stroke-width="0.7"/>
<line x1="47.7" y1="318.2" x2="49.3" y2="318.2" stroke="#707070" stroke-width="0.8"/>
<line x1="47.7" y1="320.59999999999997" x2="49.3" y2="320.59999999999997" stroke="#707070" stroke-width="0.8"/>
<line x1="48.5" y1="315.40000000000003" x2="48.5" y2="318.8" stroke="#a0a0a0" stroke-width="0.7"/>
<line x1="47.7" y1="315.40000000000003" x2="49.3" y2="315.40000000000003" stroke="#707070" stroke-width="0.8"/>
<line x1="47.7" y1="318.8" x2="49.3" y2="318.8" stroke="#707070" stroke-width="0.8"/>
<line x1="66.4" y1="311.40000000000003" x2="66.4" y2="315.8" stroke="#a0a0a0" stroke-width="0.7"/>
<line x1="65.60000000000001" y1="311.40000000000003" x2="67.2" y2="311.40000000000003" stroke="#707070" stroke-width="0.8"/>
<line x1="65.60000000000001" y1="315.8" x2="67.2" y2="315.8" stroke="#707070" stroke-width="0.8"/>
<line x1="66.4" y1="291.3" x2="66.4" y2="296.7" stroke="#a0a0a0" stroke-width="0.7"/>
<line x1="65.60000000000001" y1="291.3" x2="67.2" y2="291.3" stroke="#707070" stroke-width="0.8"/>
<line x1="65.60000000000001" y1="296.7" x2="67.2" y2="296.7" stroke="#707070" stroke-width="0.8"/>
<line x1="84.3" y1="291.2" x2="84.3" y2="295.59999999999997" stroke="#a0a0a0" stroke-width="0.7"/>
<line x1="83.5" y1="291.2" x2="85.1" y2="291.2" stroke="#707070" stroke-width="0.8"/>
<line x1="83.5" y1="295.59999999999997" x2="85.1" y2="295.59999999999997" stroke="#707070" stroke-width="0.8"/>
<line x1="84.3" y1="314.5" x2="84.3" y2="316.9" stroke="#a0a0a0" stroke-width="0.7"/>
<line x1="83.5" y1="314.5" x2="85.1" y2="314.5" stroke="#707070" stroke-width="0.8"/>
<line x1="83.5" y1="316.9" x2="85.1" y2="316.9" stroke="#707070" stroke-width="0.8"/>
<line x1="102.0" y1="319.7" x2="102.0" y2="322.09999999999997" stroke="#a0a0a0" stroke-width="0.7"/>
<line x1="101.2" y1="319.7" x2="102.8" y2="319.7" stroke="#707070" stroke-width="0.8"/>
<line x1="101.2" y1="322.09999999999997" x2="102.8" y2="322.09999999999997" stroke="#707070" stroke-width="0.8"/>
<line x1="102.0" y1="319.7" x2="102.0" y2="322.09999999999997" stroke="#a0a0a0" stroke-width="0.7"/>
<line x1="101.2" y1="319.7" x2="102.8" y2="319.7" stroke="#707070" stroke-width="0.8"/>
<line x1="101.2" y1="322.09999999999997" x2="102.8" y2="322.09999999999997" stroke="#707070" stroke-width="0.8"/>
<line x1="120.0" y1="319.0" x2="120.0" y2="321.4" stroke="#a0a0a0" stroke-width="0.7"/>
<line x1="119.2" y1="319.0" x2="120.8" y2="319.0" stroke="#707070" stroke-width="0.8"/>
<line x1="119.2" y1="321.4" x2="120.8" y2="321.4" stroke="#707070" stroke-width="0.8"/>
<line x1="120.0" y1="318.5" x2="120.0" y2="320.9" stroke="#a0a0a0" stroke-width="0.7"/>
<line x1="119.2" y1="318.5" x2="120.8" y2="318.5" stroke="#707070" stroke-width="0.8"/>
<line x1="119.2" y1="320.9" x2="120.8" y2="320.9" stroke="#707070" stroke-width="0.8"/>
<rect x="39.1" y="287.0" width="89.5" height="39.69999999999999" fill="none" stroke="#231f20" stroke-width="1.35"/>
<text x="37.300000000000004" y="295.8" font-size="9.8" text-anchor="end">8</text>
<text x="37.300000000000004" y="325.7" font-size="9.8" text-anchor="end">0</text>
<polyline points="48.5,344.5 66.4,349.4 84.3,338.0 102.0,344.0 120.0,350.1" fill="none" stroke="#ea4e9f" stroke-width="1.5" stroke-linejoin="round"/>
<polyline points="48.5,343.3 66.4,350.3 84.3,351.9 102.0,350.1 120.0,352.0" fill="none" stroke="#29ade3" stroke-width="1.5" stroke-linejoin="round"/>
<line x1="48.5" y1="343.3" x2="48.5" y2="345.7" stroke="#a0a0a0" stroke-width="0.7"/>
<line x1="47.7" y1="343.3" x2="49.3" y2="343.3" stroke="#707070" stroke-width="0.8"/>
<line x1="47.7" y1="345.7" x2="49.3" y2="345.7" stroke="#707070" stroke-width="0.8"/>
<line x1="48.5" y1="342.1" x2="48.5" y2="344.5" stroke="#a0a0a0" stroke-width="0.7"/>
<line x1="47.7" y1="342.1" x2="49.3" y2="342.1" stroke="#707070" stroke-width="0.8"/>
<line x1="47.7" y1="344.5" x2="49.3" y2="344.5" stroke="#707070" stroke-width="0.8"/>
<line x1="66.4" y1="348.2" x2="66.4" y2="350.59999999999997" stroke="#a0a0a0" stroke-width="0.7"/>
<line x1="65.60000000000001" y1="348.2" x2="67.2" y2="348.2" stroke="#707070" stroke-width="0.8"/>
<line x1="65.60000000000001" y1="350.59999999999997" x2="67.2" y2="350.59999999999997" stroke="#707070" stroke-width="0.8"/>
<line x1="66.4" y1="348.1" x2="66.4" y2="352.5" stroke="#a0a0a0" stroke-width="0.7"/>
<line x1="65.60000000000001" y1="348.1" x2="67.2" y2="348.1" stroke="#707070" stroke-width="0.8"/>
<line x1="65.60000000000001" y1="352.5" x2="67.2" y2="352.5" stroke="#707070" stroke-width="0.8"/>
<line x1="84.3" y1="336.3" x2="84.3" y2="339.7" stroke="#a0a0a0" stroke-width="0.7"/>
<line x1="83.5" y1="336.3" x2="85.1" y2="336.3" stroke="#707070" stroke-width="0.8"/>
<line x1="83.5" y1="339.7" x2="85.1" y2="339.7" stroke="#707070" stroke-width="0.8"/>
<line x1="84.3" y1="350.2" x2="84.3" y2="353.59999999999997" stroke="#a0a0a0" stroke-width="0.7"/>
<line x1="83.5" y1="350.2" x2="85.1" y2="350.2" stroke="#707070" stroke-width="0.8"/>
<line x1="83.5" y1="353.59999999999997" x2="85.1" y2="353.59999999999997" stroke="#707070" stroke-width="0.8"/>
<line x1="102.0" y1="342.8" x2="102.0" y2="345.2" stroke="#a0a0a0" stroke-width="0.7"/>
<line x1="101.2" y1="342.8" x2="102.8" y2="342.8" stroke="#707070" stroke-width="0.8"/>
<line x1="101.2" y1="345.2" x2="102.8" y2="345.2" stroke="#707070" stroke-width="0.8"/>
<line x1="102.0" y1="348.90000000000003" x2="102.0" y2="351.3" stroke="#a0a0a0" stroke-width="0.7"/>
<line x1="101.2" y1="348.90000000000003" x2="102.8" y2="348.90000000000003" stroke="#707070" stroke-width="0.8"/>
<line x1="101.2" y1="351.3" x2="102.8" y2="351.3" stroke="#707070" stroke-width="0.8"/>
<line x1="120.0" y1="348.40000000000003" x2="120.0" y2="351.8" stroke="#a0a0a0" stroke-width="0.7"/>
<line x1="119.2" y1="348.40000000000003" x2="120.8" y2="348.40000000000003" stroke="#707070" stroke-width="0.8"/>
<line x1="119.2" y1="351.8" x2="120.8" y2="351.8" stroke="#707070" stroke-width="0.8"/>
<line x1="120.0" y1="350.8" x2="120.0" y2="353.2" stroke="#a0a0a0" stroke-width="0.7"/>
<line x1="119.2" y1="350.8" x2="120.8" y2="350.8" stroke="#707070" stroke-width="0.8"/>
<line x1="119.2" y1="353.2" x2="120.8" y2="353.2" stroke="#707070" stroke-width="0.8"/>
<rect x="39.1" y="326.7" width="89.5" height="38.19999999999999" fill="none" stroke="#231f20" stroke-width="1.35"/>
<text x="37.300000000000004" y="335.5" font-size="9.8" text-anchor="end">3</text>
<text x="37.300000000000004" y="363.9" font-size="9.8" text-anchor="end">0</text>
<polyline points="48.5,375.5 66.4,382.2 84.3,378.2 102.0,379.6 120.0,387.1" fill="none" stroke="#ea4e9f" stroke-width="1.5" stroke-linejoin="round"/>
<polyline points="48.5,383.6 66.4,380.1 84.3,391.0 102.0,390.6 120.0,388.3" fill="none" stroke="#29ade3" stroke-width="1.5" stroke-linejoin="round"/>
<line x1="48.5" y1="373.8" x2="48.5" y2="377.2" stroke="#a0a0a0" stroke-width="0.7"/>
<line x1="47.7" y1="373.8" x2="49.3" y2="373.8" stroke="#707070" stroke-width="0.8"/>
<line x1="47.7" y1="377.2" x2="49.3" y2="377.2" stroke="#707070" stroke-width="0.8"/>
<line x1="48.5" y1="381.40000000000003" x2="48.5" y2="385.8" stroke="#a0a0a0" stroke-width="0.7"/>
<line x1="47.7" y1="381.40000000000003" x2="49.3" y2="381.40000000000003" stroke="#707070" stroke-width="0.8"/>
<line x1="47.7" y1="385.8" x2="49.3" y2="385.8" stroke="#707070" stroke-width="0.8"/>
<line x1="66.4" y1="381.0" x2="66.4" y2="383.4" stroke="#a0a0a0" stroke-width="0.7"/>
<line x1="65.60000000000001" y1="381.0" x2="67.2" y2="381.0" stroke="#707070" stroke-width="0.8"/>
<line x1="65.60000000000001" y1="383.4" x2="67.2" y2="383.4" stroke="#707070" stroke-width="0.8"/>
<line x1="66.4" y1="378.40000000000003" x2="66.4" y2="381.8" stroke="#a0a0a0" stroke-width="0.7"/>
<line x1="65.60000000000001" y1="378.40000000000003" x2="67.2" y2="378.40000000000003" stroke="#707070" stroke-width="0.8"/>
<line x1="65.60000000000001" y1="381.8" x2="67.2" y2="381.8" stroke="#707070" stroke-width="0.8"/>
<line x1="84.3" y1="376.5" x2="84.3" y2="379.9" stroke="#a0a0a0" stroke-width="0.7"/>
<line x1="83.5" y1="376.5" x2="85.1" y2="376.5" stroke="#707070" stroke-width="0.8"/>
<line x1="83.5" y1="379.9" x2="85.1" y2="379.9" stroke="#707070" stroke-width="0.8"/>
<line x1="84.3" y1="389.8" x2="84.3" y2="392.2" stroke="#a0a0a0" stroke-width="0.7"/>
<line x1="83.5" y1="389.8" x2="85.1" y2="389.8" stroke="#707070" stroke-width="0.8"/>
<line x1="83.5" y1="392.2" x2="85.1" y2="392.2" stroke="#707070" stroke-width="0.8"/>
<line x1="102.0" y1="378.40000000000003" x2="102.0" y2="380.8" stroke="#a0a0a0" stroke-width="0.7"/>
<line x1="101.2" y1="378.40000000000003" x2="102.8" y2="378.40000000000003" stroke="#707070" stroke-width="0.8"/>
<line x1="101.2" y1="380.8" x2="102.8" y2="380.8" stroke="#707070" stroke-width="0.8"/>
<line x1="102.0" y1="389.40000000000003" x2="102.0" y2="391.8" stroke="#a0a0a0" stroke-width="0.7"/>
<line x1="101.2" y1="389.40000000000003" x2="102.8" y2="389.40000000000003" stroke="#707070" stroke-width="0.8"/>
<line x1="101.2" y1="391.8" x2="102.8" y2="391.8" stroke="#707070" stroke-width="0.8"/>
<line x1="120.0" y1="385.40000000000003" x2="120.0" y2="388.8" stroke="#a0a0a0" stroke-width="0.7"/>
<line x1="119.2" y1="385.40000000000003" x2="120.8" y2="385.40000000000003" stroke="#707070" stroke-width="0.8"/>
<line x1="119.2" y1="388.8" x2="120.8" y2="388.8" stroke="#707070" stroke-width="0.8"/>
<line x1="120.0" y1="387.1" x2="120.0" y2="389.5" stroke="#a0a0a0" stroke-width="0.7"/>
<line x1="119.2" y1="387.1" x2="120.8" y2="387.1" stroke="#707070" stroke-width="0.8"/>
<line x1="119.2" y1="389.5" x2="120.8" y2="389.5" stroke="#707070" stroke-width="0.8"/>
<rect x="39.1" y="364.9" width="89.5" height="40.0" fill="none" stroke="#231f20" stroke-width="1.35"/>
<text x="37.300000000000004" y="373.7" font-size="9.8" text-anchor="end">3</text>
<text x="37.300000000000004" y="403.9" font-size="9.8" text-anchor="end">0</text>
<polyline points="48.5,428.3 66.4,423.9 84.3,409.5 102.0,419.5 120.0,426.9" fill="none" stroke="#ea4e9f" stroke-width="1.5" stroke-linejoin="round"/>
<polyline points="48.5,425.7 66.4,420.8 84.3,418.3 102.0,424.3 120.0,423.6" fill="none" stroke="#29ade3" stroke-width="1.5" stroke-linejoin="round"/>
<line x1="48.5" y1="427.1" x2="48.5" y2="429.5" stroke="#a0a0a0" stroke-width="0.7"/>
<line x1="47.7" y1="427.1" x2="49.3" y2="427.1" stroke="#707070" stroke-width="0.8"/>
<line x1="47.7" y1="429.5" x2="49.3" y2="429.5" stroke="#707070" stroke-width="0.8"/>
<line x1="48.5" y1="422.5" x2="48.5" y2="428.9" stroke="#a0a0a0" stroke-width="0.7"/>
<line x1="47.7" y1="422.5" x2="49.3" y2="422.5" stroke="#707070" stroke-width="0.8"/>
<line x1="47.7" y1="428.9" x2="49.3" y2="428.9" stroke="#707070" stroke-width="0.8"/>
<line x1="66.4" y1="422.7" x2="66.4" y2="425.09999999999997" stroke="#a0a0a0" stroke-width="0.7"/>
<line x1="65.60000000000001" y1="422.7" x2="67.2" y2="422.7" stroke="#707070" stroke-width="0.8"/>
<line x1="65.60000000000001" y1="425.09999999999997" x2="67.2" y2="425.09999999999997" stroke="#707070" stroke-width="0.8"/>
<line x1="66.4" y1="419.6" x2="66.4" y2="422.0" stroke="#a0a0a0" stroke-width="0.7"/>
<line x1="65.60000000000001" y1="419.6" x2="67.2" y2="419.6" stroke="#707070" stroke-width="0.8"/>
<line x1="65.60000000000001" y1="422.0" x2="67.2" y2="422.0" stroke="#707070" stroke-width="0.8"/>
<line x1="84.3" y1="408.3" x2="84.3" y2="410.7" stroke="#a0a0a0" stroke-width="0.7"/>
<line x1="83.5" y1="408.3" x2="85.1" y2="408.3" stroke="#707070" stroke-width="0.8"/>
<line x1="83.5" y1="410.7" x2="85.1" y2="410.7" stroke="#707070" stroke-width="0.8"/>
<line x1="84.3" y1="417.1" x2="84.3" y2="419.5" stroke="#a0a0a0" stroke-width="0.7"/>
<line x1="83.5" y1="417.1" x2="85.1" y2="417.1" stroke="#707070" stroke-width="0.8"/>
<line x1="83.5" y1="419.5" x2="85.1" y2="419.5" stroke="#707070" stroke-width="0.8"/>
<line x1="102.0" y1="418.3" x2="102.0" y2="420.7" stroke="#a0a0a0" stroke-width="0.7"/>
<line x1="101.2" y1="418.3" x2="102.8" y2="418.3" stroke="#707070" stroke-width="0.8"/>
<line x1="101.2" y1="420.7" x2="102.8" y2="420.7" stroke="#707070" stroke-width="0.8"/>
<line x1="102.0" y1="421.1" x2="102.0" y2="427.5" stroke="#a0a0a0" stroke-width="0.7"/>
<line x1="101.2" y1="421.1" x2="102.8" y2="421.1" stroke="#707070" stroke-width="0.8"/>
<line x1="101.2" y1="427.5" x2="102.8" y2="427.5" stroke="#707070" stroke-width="0.8"/>
<line x1="120.0" y1="425.7" x2="120.0" y2="428.09999999999997" stroke="#a0a0a0" stroke-width="0.7"/>
<line x1="119.2" y1="425.7" x2="120.8" y2="425.7" stroke="#707070" stroke-width="0.8"/>
<line x1="119.2" y1="428.09999999999997" x2="120.8" y2="428.09999999999997" stroke="#707070" stroke-width="0.8"/>
<line x1="120.0" y1="421.40000000000003" x2="120.0" y2="425.8" stroke="#a0a0a0" stroke-width="0.7"/>
<line x1="119.2" y1="421.40000000000003" x2="120.8" y2="421.40000000000003" stroke="#707070" stroke-width="0.8"/>
<line x1="119.2" y1="425.8" x2="120.8" y2="425.8" stroke="#707070" stroke-width="0.8"/>
<rect x="39.1" y="404.9" width="89.5" height="40.30000000000001" fill="none" stroke="#231f20" stroke-width="1.35"/>
<text x="37.300000000000004" y="413.7" font-size="9.8" text-anchor="end">2</text>
<text x="37.300000000000004" y="446.59999999999997" font-size="9.8" text-anchor="end">0</text>
<line x1="48.5" y1="445.2" x2="48.5" y2="443.2" stroke="#777" stroke-width="0.6"/>
<line x1="66.4" y1="445.2" x2="66.4" y2="443.2" stroke="#777" stroke-width="0.6"/>
<line x1="84.3" y1="445.2" x2="84.3" y2="443.2" stroke="#777" stroke-width="0.6"/>
<line x1="102.0" y1="445.2" x2="102.0" y2="443.2" stroke="#777" stroke-width="0.6"/>
<line x1="120.0" y1="445.2" x2="120.0" y2="443.2" stroke="#777" stroke-width="0.6"/>
<text x="49.3" y="455.1" font-size="10" text-anchor="middle">22</text>
<text x="67.2" y="455.1" font-size="10" text-anchor="middle">4</text>
<text x="85.1" y="455.1" font-size="10" text-anchor="middle">10</text>
<text x="102.8" y="455.1" font-size="10" text-anchor="middle">16</text>
<text x="120.8" y="455.1" font-size="10" text-anchor="middle">22</text>
<text x="195.1" y="242.4" font-size="14" text-anchor="middle" font-weight="bold" stroke="#231f20" stroke-width="0.35">S2</text>
<polyline points="159.4,277.7 177.7,267.2 195.9,282.0 214.1,281.3 232.5,265.3" fill="none" stroke="#ea4e9f" stroke-width="1.5" stroke-linejoin="round"/>
<polyline points="159.4,261.4 177.7,273.3 195.9,279.2 214.1,275.9 232.5,257.0" fill="none" stroke="#29ade3" stroke-width="1.5" stroke-linejoin="round"/>
<line x1="159.4" y1="274.5" x2="159.4" y2="280.9" stroke="#a0a0a0" stroke-width="0.7"/>
<line x1="158.6" y1="274.5" x2="160.20000000000002" y2="274.5" stroke="#707070" stroke-width="0.8"/>
<line x1="158.6" y1="280.9" x2="160.20000000000002" y2="280.9" stroke="#707070" stroke-width="0.8"/>
<line x1="159.4" y1="260.2" x2="159.4" y2="262.59999999999997" stroke="#a0a0a0" stroke-width="0.7"/>
<line x1="158.6" y1="260.2" x2="160.20000000000002" y2="260.2" stroke="#707070" stroke-width="0.8"/>
<line x1="158.6" y1="262.59999999999997" x2="160.20000000000002" y2="262.59999999999997" stroke="#707070" stroke-width="0.8"/>
<line x1="177.7" y1="264.0" x2="177.7" y2="270.4" stroke="#a0a0a0" stroke-width="0.7"/>
<line x1="176.89999999999998" y1="264.0" x2="178.5" y2="264.0" stroke="#707070" stroke-width="0.8"/>
<line x1="176.89999999999998" y1="270.4" x2="178.5" y2="270.4" stroke="#707070" stroke-width="0.8"/>
<line x1="177.7" y1="272.1" x2="177.7" y2="274.5" stroke="#a0a0a0" stroke-width="0.7"/>
<line x1="176.89999999999998" y1="272.1" x2="178.5" y2="272.1" stroke="#707070" stroke-width="0.8"/>
<line x1="176.89999999999998" y1="274.5" x2="178.5" y2="274.5" stroke="#707070" stroke-width="0.8"/>
<line x1="195.9" y1="280.8" x2="195.9" y2="283.2" stroke="#a0a0a0" stroke-width="0.7"/>
<line x1="195.1" y1="280.8" x2="196.70000000000002" y2="280.8" stroke="#707070" stroke-width="0.8"/>
<line x1="195.1" y1="283.2" x2="196.70000000000002" y2="283.2" stroke="#707070" stroke-width="0.8"/>
<line x1="195.9" y1="278.0" x2="195.9" y2="280.4" stroke="#a0a0a0" stroke-width="0.7"/>
<line x1="195.1" y1="278.0" x2="196.70000000000002" y2="278.0" stroke="#707070" stroke-width="0.8"/>
<line x1="195.1" y1="280.4" x2="196.70000000000002" y2="280.4" stroke="#707070" stroke-width="0.8"/>
<line x1="214.1" y1="280.1" x2="214.1" y2="282.5" stroke="#a0a0a0" stroke-width="0.7"/>
<line x1="213.29999999999998" y1="280.1" x2="214.9" y2="280.1" stroke="#707070" stroke-width="0.8"/>
<line x1="213.29999999999998" y1="282.5" x2="214.9" y2="282.5" stroke="#707070" stroke-width="0.8"/>
<line x1="214.1" y1="274.7" x2="214.1" y2="277.09999999999997" stroke="#a0a0a0" stroke-width="0.7"/>
<line x1="213.29999999999998" y1="274.7" x2="214.9" y2="274.7" stroke="#707070" stroke-width="0.8"/>
<line x1="213.29999999999998" y1="277.09999999999997" x2="214.9" y2="277.09999999999997" stroke="#707070" stroke-width="0.8"/>
<line x1="232.5" y1="263.1" x2="232.5" y2="267.5" stroke="#a0a0a0" stroke-width="0.7"/>
<line x1="231.7" y1="263.1" x2="233.3" y2="263.1" stroke="#707070" stroke-width="0.8"/>
<line x1="231.7" y1="267.5" x2="233.3" y2="267.5" stroke="#707070" stroke-width="0.8"/>
<line x1="232.5" y1="253.8" x2="232.5" y2="260.2" stroke="#a0a0a0" stroke-width="0.7"/>
<line x1="231.7" y1="253.8" x2="233.3" y2="253.8" stroke="#707070" stroke-width="0.8"/>
<line x1="231.7" y1="260.2" x2="233.3" y2="260.2" stroke="#707070" stroke-width="0.8"/>
<rect x="150.7" y="248.9" width="91.10000000000002" height="38.099999999999994" fill="none" stroke="#231f20" stroke-width="1.35"/>
<text x="148.89999999999998" y="255.6" font-size="9.8" text-anchor="end">8</text>
<text x="148.89999999999998" y="286.0" font-size="9.8" text-anchor="end">0</text>
<polyline points="159.4,320.9 177.7,296.4 195.9,305.3 214.1,318.8 232.5,312.2" fill="none" stroke="#ea4e9f" stroke-width="1.5" stroke-linejoin="round"/>
<polyline points="159.4,311.3 177.7,297.8 195.9,296.6 214.1,319.2 232.5,308.3" fill="none" stroke="#29ade3" stroke-width="1.5" stroke-linejoin="round"/>
<line x1="159.4" y1="318.2" x2="159.4" y2="323.59999999999997" stroke="#a0a0a0" stroke-width="0.7"/>
<line x1="158.6" y1="318.2" x2="160.20000000000002" y2="318.2" stroke="#707070" stroke-width="0.8"/>
<line x1="158.6" y1="323.59999999999997" x2="160.20000000000002" y2="323.59999999999997" stroke="#707070" stroke-width="0.8"/>
<line x1="159.4" y1="310.1" x2="159.4" y2="312.5" stroke="#a0a0a0" stroke-width="0.7"/>
<line x1="158.6" y1="310.1" x2="160.20000000000002" y2="310.1" stroke="#707070" stroke-width="0.8"/>
<line x1="158.6" y1="312.5" x2="160.20000000000002" y2="312.5" stroke="#707070" stroke-width="0.8"/>
<line x1="177.7" y1="294.2" x2="177.7" y2="298.59999999999997" stroke="#a0a0a0" stroke-width="0.7"/>
<line x1="176.89999999999998" y1="294.2" x2="178.5" y2="294.2" stroke="#707070" stroke-width="0.8"/>
<line x1="176.89999999999998" y1="298.59999999999997" x2="178.5" y2="298.59999999999997" stroke="#707070" stroke-width="0.8"/>
<line x1="177.7" y1="295.6" x2="177.7" y2="300.0" stroke="#a0a0a0" stroke-width="0.7"/>
<line x1="176.89999999999998" y1="295.6" x2="178.5" y2="295.6" stroke="#707070" stroke-width="0.8"/>
<line x1="176.89999999999998" y1="300.0" x2="178.5" y2="300.0" stroke="#707070" stroke-width="0.8"/>
<line x1="195.9" y1="304.1" x2="195.9" y2="306.5" stroke="#a0a0a0" stroke-width="0.7"/>
<line x1="195.1" y1="304.1" x2="196.70000000000002" y2="304.1" stroke="#707070" stroke-width="0.8"/>
<line x1="195.1" y1="306.5" x2="196.70000000000002" y2="306.5" stroke="#707070" stroke-width="0.8"/>
<line x1="195.9" y1="295.40000000000003" x2="195.9" y2="297.8" stroke="#a0a0a0" stroke-width="0.7"/>
<line x1="195.1" y1="295.40000000000003" x2="196.70000000000002" y2="295.40000000000003" stroke="#707070" stroke-width="0.8"/>
<line x1="195.1" y1="297.8" x2="196.70000000000002" y2="297.8" stroke="#707070" stroke-width="0.8"/>
<line x1="214.1" y1="317.6" x2="214.1" y2="320.0" stroke="#a0a0a0" stroke-width="0.7"/>
<line x1="213.29999999999998" y1="317.6" x2="214.9" y2="317.6" stroke="#707070" stroke-width="0.8"/>
<line x1="213.29999999999998" y1="320.0" x2="214.9" y2="320.0" stroke="#707070" stroke-width="0.8"/>
<line x1="214.1" y1="318.0" x2="214.1" y2="320.4" stroke="#a0a0a0" stroke-width="0.7"/>
<line x1="213.29999999999998" y1="318.0" x2="214.9" y2="318.0" stroke="#707070" stroke-width="0.8"/>
<line x1="213.29999999999998" y1="320.4" x2="214.9" y2="320.4" stroke="#707070" stroke-width="0.8"/>
<line x1="232.5" y1="310.0" x2="232.5" y2="314.4" stroke="#a0a0a0" stroke-width="0.7"/>
<line x1="231.7" y1="310.0" x2="233.3" y2="310.0" stroke="#707070" stroke-width="0.8"/>
<line x1="231.7" y1="314.4" x2="233.3" y2="314.4" stroke="#707070" stroke-width="0.8"/>
<line x1="232.5" y1="306.6" x2="232.5" y2="310.0" stroke="#a0a0a0" stroke-width="0.7"/>
<line x1="231.7" y1="306.6" x2="233.3" y2="306.6" stroke="#707070" stroke-width="0.8"/>
<line x1="231.7" y1="310.0" x2="233.3" y2="310.0" stroke="#707070" stroke-width="0.8"/>
<rect x="150.7" y="287.0" width="91.10000000000002" height="39.69999999999999" fill="none" stroke="#231f20" stroke-width="1.35"/>
<text x="148.89999999999998" y="295.8" font-size="9.8" text-anchor="end">8</text>
<text x="148.89999999999998" y="325.7" font-size="9.8" text-anchor="end">0</text>
<polyline points="159.4,352.8 177.7,345.0 195.9,347.7 214.1,341.5 232.5,340.7" fill="none" stroke="#ea4e9f" stroke-width="1.5" stroke-linejoin="round"/>
<polyline points="159.4,343.1 177.7,350.3 195.9,351.0 214.1,347.5 232.5,341.5" fill="none" stroke="#29ade3" stroke-width="1.5" stroke-linejoin="round"/>
<line x1="159.4" y1="350.6" x2="159.4" y2="355.0" stroke="#a0a0a0" stroke-width="0.7"/>
<line x1="158.6" y1="350.6" x2="160.20000000000002" y2="350.6" stroke="#707070" stroke-width="0.8"/>
<line x1="158.6" y1="355.0" x2="160.20000000000002" y2="355.0" stroke="#707070" stroke-width="0.8"/>
<line x1="159.4" y1="341.40000000000003" x2="159.4" y2="344.8" stroke="#a0a0a0" stroke-width="0.7"/>
<line x1="158.6" y1="341.40000000000003" x2="160.20000000000002" y2="341.40000000000003" stroke="#707070" stroke-width="0.8"/>
<line x1="158.6" y1="344.8" x2="160.20000000000002" y2="344.8" stroke="#707070" stroke-width="0.8"/>
<line x1="177.7" y1="341.3" x2="177.7" y2="348.7" stroke="#a0a0a0" stroke-width="0.7"/>
<line x1="176.89999999999998" y1="341.3" x2="178.5" y2="341.3" stroke="#707070" stroke-width="0.8"/>
<line x1="176.89999999999998" y1="348.7" x2="178.5" y2="348.7" stroke="#707070" stroke-width="0.8"/>
<line x1="177.7" y1="348.6" x2="177.7" y2="352.0" stroke="#a0a0a0" stroke-width="0.7"/>
<line x1="176.89999999999998" y1="348.6" x2="178.5" y2="348.6" stroke="#707070" stroke-width="0.8"/>
<line x1="176.89999999999998" y1="352.0" x2="178.5" y2="352.0" stroke="#707070" stroke-width="0.8"/>
<line x1="195.9" y1="345.5" x2="195.9" y2="349.9" stroke="#a0a0a0" stroke-width="0.7"/>
<line x1="195.1" y1="345.5" x2="196.70000000000002" y2="345.5" stroke="#707070" stroke-width="0.8"/>
<line x1="195.1" y1="349.9" x2="196.70000000000002" y2="349.9" stroke="#707070" stroke-width="0.8"/>
<line x1="195.9" y1="349.3" x2="195.9" y2="352.7" stroke="#a0a0a0" stroke-width="0.7"/>
<line x1="195.1" y1="349.3" x2="196.70000000000002" y2="349.3" stroke="#707070" stroke-width="0.8"/>
<line x1="195.1" y1="352.7" x2="196.70000000000002" y2="352.7" stroke="#707070" stroke-width="0.8"/>
<line x1="214.1" y1="338.3" x2="214.1" y2="344.7" stroke="#a0a0a0" stroke-width="0.7"/>
<line x1="213.29999999999998" y1="338.3" x2="214.9" y2="338.3" stroke="#707070" stroke-width="0.8"/>
<line x1="213.29999999999998" y1="344.7" x2="214.9" y2="344.7" stroke="#707070" stroke-width="0.8"/>
<line x1="214.1" y1="345.8" x2="214.1" y2="349.2" stroke="#a0a0a0" stroke-width="0.7"/>
<line x1="213.29999999999998" y1="345.8" x2="214.9" y2="345.8" stroke="#707070" stroke-width="0.8"/>
<line x1="213.29999999999998" y1="349.2" x2="214.9" y2="349.2" stroke="#707070" stroke-width="0.8"/>
<line x1="232.5" y1="337.0" x2="232.5" y2="344.4" stroke="#a0a0a0" stroke-width="0.7"/>
<line x1="231.7" y1="337.0" x2="233.3" y2="337.0" stroke="#707070" stroke-width="0.8"/>
<line x1="231.7" y1="344.4" x2="233.3" y2="344.4" stroke="#707070" stroke-width="0.8"/>
<line x1="232.5" y1="339.8" x2="232.5" y2="343.2" stroke="#a0a0a0" stroke-width="0.7"/>
<line x1="231.7" y1="339.8" x2="233.3" y2="339.8" stroke="#707070" stroke-width="0.8"/>
<line x1="231.7" y1="343.2" x2="233.3" y2="343.2" stroke="#707070" stroke-width="0.8"/>
<rect x="150.7" y="326.7" width="91.10000000000002" height="38.19999999999999" fill="none" stroke="#231f20" stroke-width="1.35"/>
<text x="148.89999999999998" y="335.5" font-size="9.8" text-anchor="end">3</text>
<text x="148.89999999999998" y="363.9" font-size="9.8" text-anchor="end">0</text>
<polyline points="159.4,394.5 177.7,395.0 195.9,387.4 214.1,385.3 232.5,396.2" fill="none" stroke="#ea4e9f" stroke-width="1.5" stroke-linejoin="round"/>
<polyline points="159.4,382.7 177.7,390.4 195.9,388.9 214.1,395.0 232.5,386.0" fill="none" stroke="#29ade3" stroke-width="1.5" stroke-linejoin="round"/>
<line x1="159.4" y1="393.3" x2="159.4" y2="395.7" stroke="#a0a0a0" stroke-width="0.7"/>
<line x1="158.6" y1="393.3" x2="160.20000000000002" y2="393.3" stroke="#707070" stroke-width="0.8"/>
<line x1="158.6" y1="395.7" x2="160.20000000000002" y2="395.7" stroke="#707070" stroke-width="0.8"/>
<line x1="159.4" y1="381.5" x2="159.4" y2="383.9" stroke="#a0a0a0" stroke-width="0.7"/>
<line x1="158.6" y1="381.5" x2="160.20000000000002" y2="381.5" stroke="#707070" stroke-width="0.8"/>
<line x1="158.6" y1="383.9" x2="160.20000000000002" y2="383.9" stroke="#707070" stroke-width="0.8"/>
<line x1="177.7" y1="393.8" x2="177.7" y2="396.2" stroke="#a0a0a0" stroke-width="0.7"/>
<line x1="176.89999999999998" y1="393.8" x2="178.5" y2="393.8" stroke="#707070" stroke-width="0.8"/>
<line x1="176.89999999999998" y1="396.2" x2="178.5" y2="396.2" stroke="#707070" stroke-width="0.8"/>
<line x1="177.7" y1="388.7" x2="177.7" y2="392.09999999999997" stroke="#a0a0a0" stroke-width="0.7"/>
<line x1="176.89999999999998" y1="388.7" x2="178.5" y2="388.7" stroke="#707070" stroke-width="0.8"/>
<line x1="176.89999999999998" y1="392.09999999999997" x2="178.5" y2="392.09999999999997" stroke="#707070" stroke-width="0.8"/>
<line x1="195.9" y1="385.7" x2="195.9" y2="389.09999999999997" stroke="#a0a0a0" stroke-width="0.7"/>
<line x1="195.1" y1="385.7" x2="196.70000000000002" y2="385.7" stroke="#707070" stroke-width="0.8"/>
<line x1="195.1" y1="389.09999999999997" x2="196.70000000000002" y2="389.09999999999997" stroke="#707070" stroke-width="0.8"/>
<line x1="195.9" y1="387.7" x2="195.9" y2="390.09999999999997" stroke="#a0a0a0" stroke-width="0.7"/>
<line x1="195.1" y1="387.7" x2="196.70000000000002" y2="387.7" stroke="#707070" stroke-width="0.8"/>
<line x1="195.1" y1="390.09999999999997" x2="196.70000000000002" y2="390.09999999999997" stroke="#707070" stroke-width="0.8"/>
<line x1="214.1" y1="383.6" x2="214.1" y2="387.0" stroke="#a0a0a0" stroke-width="0.7"/>
<line x1="213.29999999999998" y1="383.6" x2="214.9" y2="383.6" stroke="#707070" stroke-width="0.8"/>
<line x1="213.29999999999998" y1="387.0" x2="214.9" y2="387.0" stroke="#707070" stroke-width="0.8"/>
<line x1="214.1" y1="393.3" x2="214.1" y2="396.7" stroke="#a0a0a0" stroke-width="0.7"/>
<line x1="213.29999999999998" y1="393.3" x2="214.9" y2="393.3" stroke="#707070" stroke-width="0.8"/>
<line x1="213.29999999999998" y1="396.7" x2="214.9" y2="396.7" stroke="#707070" stroke-width="0.8"/>
<line x1="232.5" y1="395.0" x2="232.5" y2="397.4" stroke="#a0a0a0" stroke-width="0.7"/>
<line x1="231.7" y1="395.0" x2="233.3" y2="395.0" stroke="#707070" stroke-width="0.8"/>
<line x1="231.7" y1="397.4" x2="233.3" y2="397.4" stroke="#707070" stroke-width="0.8"/>
<line x1="232.5" y1="384.8" x2="232.5" y2="387.2" stroke="#a0a0a0" stroke-width="0.7"/>
<line x1="231.7" y1="384.8" x2="233.3" y2="384.8" stroke="#707070" stroke-width="0.8"/>
<line x1="231.7" y1="387.2" x2="233.3" y2="387.2" stroke="#707070" stroke-width="0.8"/>
<rect x="150.7" y="364.9" width="91.10000000000002" height="40.0" fill="none" stroke="#231f20" stroke-width="1.35"/>
<text x="148.89999999999998" y="373.7" font-size="9.8" text-anchor="end">3</text>
<text x="148.89999999999998" y="403.9" font-size="9.8" text-anchor="end">0</text>
<polyline points="159.4,439.1 177.7,425.1 195.9,423.6 214.1,416.9 232.5,416.9" fill="none" stroke="#ea4e9f" stroke-width="1.5" stroke-linejoin="round"/>
<polyline points="159.4,424.8 177.7,422.7 195.9,420.8 214.1,419.5 232.5,412.5" fill="none" stroke="#29ade3" stroke-width="1.5" stroke-linejoin="round"/>
<line x1="159.4" y1="437.90000000000003" x2="159.4" y2="440.3" stroke="#a0a0a0" stroke-width="0.7"/>
<line x1="158.6" y1="437.90000000000003" x2="160.20000000000002" y2="437.90000000000003" stroke="#707070" stroke-width="0.8"/>
<line x1="158.6" y1="440.3" x2="160.20000000000002" y2="440.3" stroke="#707070" stroke-width="0.8"/>
<line x1="159.4" y1="423.6" x2="159.4" y2="426.0" stroke="#a0a0a0" stroke-width="0.7"/>
<line x1="158.6" y1="423.6" x2="160.20000000000002" y2="423.6" stroke="#707070" stroke-width="0.8"/>
<line x1="158.6" y1="426.0" x2="160.20000000000002" y2="426.0" stroke="#707070" stroke-width="0.8"/>
<line x1="177.7" y1="423.90000000000003" x2="177.7" y2="426.3" stroke="#a0a0a0" stroke-width="0.7"/>
<line x1="176.89999999999998" y1="423.90000000000003" x2="178.5" y2="423.90000000000003" stroke="#707070" stroke-width="0.8"/>
<line x1="176.89999999999998" y1="426.3" x2="178.5" y2="426.3" stroke="#707070" stroke-width="0.8"/>
<line x1="177.7" y1="421.5" x2="177.7" y2="423.9" stroke="#a0a0a0" stroke-width="0.7"/>
<line x1="176.89999999999998" y1="421.5" x2="178.5" y2="421.5" stroke="#707070" stroke-width="0.8"/>
<line x1="176.89999999999998" y1="423.9" x2="178.5" y2="423.9" stroke="#707070" stroke-width="0.8"/>
<line x1="195.9" y1="421.40000000000003" x2="195.9" y2="425.8" stroke="#a0a0a0" stroke-width="0.7"/>
<line x1="195.1" y1="421.40000000000003" x2="196.70000000000002" y2="421.40000000000003" stroke="#707070" stroke-width="0.8"/>
<line x1="195.1" y1="425.8" x2="196.70000000000002" y2="425.8" stroke="#707070" stroke-width="0.8"/>
<line x1="195.9" y1="418.6" x2="195.9" y2="423.0" stroke="#a0a0a0" stroke-width="0.7"/>
<line x1="195.1" y1="418.6" x2="196.70000000000002" y2="418.6" stroke="#707070" stroke-width="0.8"/>
<line x1="195.1" y1="423.0" x2="196.70000000000002" y2="423.0" stroke="#707070" stroke-width="0.8"/>
<line x1="214.1" y1="414.7" x2="214.1" y2="419.09999999999997" stroke="#a0a0a0" stroke-width="0.7"/>
<line x1="213.29999999999998" y1="414.7" x2="214.9" y2="414.7" stroke="#707070" stroke-width="0.8"/>
<line x1="213.29999999999998" y1="419.09999999999997" x2="214.9" y2="419.09999999999997" stroke="#707070" stroke-width="0.8"/>
<line x1="214.1" y1="418.3" x2="214.1" y2="420.7" stroke="#a0a0a0" stroke-width="0.7"/>
<line x1="213.29999999999998" y1="418.3" x2="214.9" y2="418.3" stroke="#707070" stroke-width="0.8"/>
<line x1="213.29999999999998" y1="420.7" x2="214.9" y2="420.7" stroke="#707070" stroke-width="0.8"/>
<line x1="232.5" y1="413.7" x2="232.5" y2="420.09999999999997" stroke="#a0a0a0" stroke-width="0.7"/>
<line x1="231.7" y1="413.7" x2="233.3" y2="413.7" stroke="#707070" stroke-width="0.8"/>
<line x1="231.7" y1="420.09999999999997" x2="233.3" y2="420.09999999999997" stroke="#707070" stroke-width="0.8"/>
<line x1="232.5" y1="409.3" x2="232.5" y2="415.7" stroke="#a0a0a0" stroke-width="0.7"/>
<line x1="231.7" y1="409.3" x2="233.3" y2="409.3" stroke="#707070" stroke-width="0.8"/>
<line x1="231.7" y1="415.7" x2="233.3" y2="415.7" stroke="#707070" stroke-width="0.8"/>
<rect x="150.7" y="404.9" width="91.10000000000002" height="40.30000000000001" fill="none" stroke="#231f20" stroke-width="1.35"/>
<text x="148.89999999999998" y="413.7" font-size="9.8" text-anchor="end">6</text>
<text x="148.89999999999998" y="446.59999999999997" font-size="9.8" text-anchor="end">0</text>
<line x1="159.4" y1="445.2" x2="159.4" y2="443.2" stroke="#777" stroke-width="0.6"/>
<line x1="177.7" y1="445.2" x2="177.7" y2="443.2" stroke="#777" stroke-width="0.6"/>
<line x1="195.9" y1="445.2" x2="195.9" y2="443.2" stroke="#777" stroke-width="0.6"/>
<line x1="214.1" y1="445.2" x2="214.1" y2="443.2" stroke="#777" stroke-width="0.6"/>
<line x1="232.5" y1="445.2" x2="232.5" y2="443.2" stroke="#777" stroke-width="0.6"/>
<text x="160.20000000000002" y="455.1" font-size="10" text-anchor="middle">22</text>
<text x="178.5" y="455.1" font-size="10" text-anchor="middle">4</text>
<text x="196.70000000000002" y="455.1" font-size="10" text-anchor="middle">10</text>
<text x="214.9" y="455.1" font-size="10" text-anchor="middle">16</text>
<text x="233.3" y="455.1" font-size="10" text-anchor="middle">22</text>
<text x="303.8" y="242.4" font-size="14" text-anchor="middle" font-weight="bold" stroke="#231f20" stroke-width="0.35">S3</text>
<polyline points="272.3,276.3 290.3,259.6 308.2,275.0 326.3,278.0 344.2,280.6" fill="none" stroke="#ea4e9f" stroke-width="1.5" stroke-linejoin="round"/>
<polyline points="272.3,273.6 290.3,264.2 308.2,280.3 326.3,278.9 344.2,274.5" fill="none" stroke="#29ade3" stroke-width="1.5" stroke-linejoin="round"/>
<line x1="272.3" y1="274.1" x2="272.3" y2="278.5" stroke="#a0a0a0" stroke-width="0.7"/>
<line x1="271.5" y1="274.1" x2="273.1" y2="274.1" stroke="#707070" stroke-width="0.8"/>
<line x1="271.5" y1="278.5" x2="273.1" y2="278.5" stroke="#707070" stroke-width="0.8"/>
<line x1="272.3" y1="272.40000000000003" x2="272.3" y2="274.8" stroke="#a0a0a0" stroke-width="0.7"/>
<line x1="271.5" y1="272.40000000000003" x2="273.1" y2="272.40000000000003" stroke="#707070" stroke-width="0.8"/>
<line x1="271.5" y1="274.8" x2="273.1" y2="274.8" stroke="#707070" stroke-width="0.8"/>
<line x1="290.3" y1="256.40000000000003" x2="290.3" y2="262.8" stroke="#a0a0a0" stroke-width="0.7"/>
<line x1="289.5" y1="256.40000000000003" x2="291.1" y2="256.40000000000003" stroke="#707070" stroke-width="0.8"/>
<line x1="289.5" y1="262.8" x2="291.1" y2="262.8" stroke="#707070" stroke-width="0.8"/>
<line x1="290.3" y1="261.0" x2="290.3" y2="267.4" stroke="#a0a0a0" stroke-width="0.7"/>
<line x1="289.5" y1="261.0" x2="291.1" y2="261.0" stroke="#707070" stroke-width="0.8"/>
<line x1="289.5" y1="267.4" x2="291.1" y2="267.4" stroke="#707070" stroke-width="0.8"/>
<line x1="308.2" y1="273.8" x2="308.2" y2="276.2" stroke="#a0a0a0" stroke-width="0.7"/>
<line x1="307.4" y1="273.8" x2="309.0" y2="273.8" stroke="#707070" stroke-width="0.8"/>
<line x1="307.4" y1="276.2" x2="309.0" y2="276.2" stroke="#707070" stroke-width="0.8"/>
<line x1="308.2" y1="279.1" x2="308.2" y2="281.5" stroke="#a0a0a0" stroke-width="0.7"/>
<line x1="307.4" y1="279.1" x2="309.0" y2="279.1" stroke="#707070" stroke-width="0.8"/>
<line x1="307.4" y1="281.5" x2="309.0" y2="281.5" stroke="#707070" stroke-width="0.8"/>
<line x1="326.3" y1="276.8" x2="326.3" y2="279.2" stroke="#a0a0a0" stroke-width="0.7"/>
<line x1="325.5" y1="276.8" x2="327.1" y2="276.8" stroke="#707070" stroke-width="0.8"/>
<line x1="325.5" y1="279.2" x2="327.1" y2="279.2" stroke="#707070" stroke-width="0.8"/>
<line x1="326.3" y1="277.7" x2="326.3" y2="280.09999999999997" stroke="#a0a0a0" stroke-width="0.7"/>
<line x1="325.5" y1="277.7" x2="327.1" y2="277.7" stroke="#707070" stroke-width="0.8"/>
<line x1="325.5" y1="280.09999999999997" x2="327.1" y2="280.09999999999997" stroke="#707070" stroke-width="0.8"/>
<line x1="344.2" y1="279.40000000000003" x2="344.2" y2="281.8" stroke="#a0a0a0" stroke-width="0.7"/>
<line x1="343.4" y1="279.40000000000003" x2="345.0" y2="279.40000000000003" stroke="#707070" stroke-width="0.8"/>
<line x1="343.4" y1="281.8" x2="345.0" y2="281.8" stroke="#707070" stroke-width="0.8"/>
<line x1="344.2" y1="273.3" x2="344.2" y2="275.7" stroke="#a0a0a0" stroke-width="0.7"/>
<line x1="343.4" y1="273.3" x2="345.0" y2="273.3" stroke="#707070" stroke-width="0.8"/>
<line x1="343.4" y1="275.7" x2="345.0" y2="275.7" stroke="#707070" stroke-width="0.8"/>
<rect x="264.3" y="248.9" width="89.09999999999997" height="38.099999999999994" fill="none" stroke="#231f20" stroke-width="1.35"/>
<text x="262.5" y="255.6" font-size="9.8" text-anchor="end">6</text>
<text x="262.5" y="286.0" font-size="9.8" text-anchor="end">0</text>
<polyline points="272.3,319.4 290.3,298.2 308.2,293.1 326.3,313.6 344.2,321.8" fill="none" stroke="#ea4e9f" stroke-width="1.5" stroke-linejoin="round"/>
<polyline points="272.3,320.6 290.3,307.8 308.2,309.2 326.3,318.3 344.2,318.3" fill="none" stroke="#29ade3" stroke-width="1.5" stroke-linejoin="round"/>
<line x1="272.3" y1="318.2" x2="272.3" y2="320.59999999999997" stroke="#a0a0a0" stroke-width="0.7"/>
<line x1="271.5" y1="318.2" x2="273.1" y2="318.2" stroke="#707070" stroke-width="0.8"/>
<line x1="271.5" y1="320.59999999999997" x2="273.1" y2="320.59999999999997" stroke="#707070" stroke-width="0.8"/>
<line x1="272.3" y1="319.40000000000003" x2="272.3" y2="321.8" stroke="#a0a0a0" stroke-width="0.7"/>
<line x1="271.5" y1="319.40000000000003" x2="273.1" y2="319.40000000000003" stroke="#707070" stroke-width="0.8"/>
<line x1="271.5" y1="321.8" x2="273.1" y2="321.8" stroke="#707070" stroke-width="0.8"/>
<line x1="290.3" y1="296.0" x2="290.3" y2="300.4" stroke="#a0a0a0" stroke-width="0.7"/>
<line x1="289.5" y1="296.0" x2="291.1" y2="296.0" stroke="#707070" stroke-width="0.8"/>
<line x1="289.5" y1="300.4" x2="291.1" y2="300.4" stroke="#707070" stroke-width="0.8"/>
<line x1="290.3" y1="306.6" x2="290.3" y2="309.0" stroke="#a0a0a0" stroke-width="0.7"/>
<line x1="289.5" y1="306.6" x2="291.1" y2="306.6" stroke="#707070" stroke-width="0.8"/>
<line x1="289.5" y1="309.0" x2="291.1" y2="309.0" stroke="#707070" stroke-width="0.8"/>
<line x1="308.2" y1="291.90000000000003" x2="308.2" y2="294.3" stroke="#a0a0a0" stroke-width="0.7"/>
<line x1="307.4" y1="291.90000000000003" x2="309.0" y2="291.90000000000003" stroke="#707070" stroke-width="0.8"/>
<line x1="307.4" y1="294.3" x2="309.0" y2="294.3" stroke="#707070" stroke-width="0.8"/>
<line x1="308.2" y1="308.0" x2="308.2" y2="310.4" stroke="#a0a0a0" stroke-width="0.7"/>
<line x1="307.4" y1="308.0" x2="309.0" y2="308.0" stroke="#707070" stroke-width="0.8"/>
<line x1="307.4" y1="310.4" x2="309.0" y2="310.4" stroke="#707070" stroke-width="0.8"/>
<line x1="326.3" y1="312.40000000000003" x2="326.3" y2="314.8" stroke="#a0a0a0" stroke-width="0.7"/>
<line x1="325.5" y1="312.40000000000003" x2="327.1" y2="312.40000000000003" stroke="#707070" stroke-width="0.8"/>
<line x1="325.5" y1="314.8" x2="327.1" y2="314.8" stroke="#707070" stroke-width="0.8"/>
<line x1="326.3" y1="316.6" x2="326.3" y2="320.0" stroke="#a0a0a0" stroke-width="0.7"/>
<line x1="325.5" y1="316.6" x2="327.1" y2="316.6" stroke="#707070" stroke-width="0.8"/>
<line x1="325.5" y1="320.0" x2="327.1" y2="320.0" stroke="#707070" stroke-width="0.8"/>
<line x1="344.2" y1="320.6" x2="344.2" y2="323.0" stroke="#a0a0a0" stroke-width="0.7"/>
<line x1="343.4" y1="320.6" x2="345.0" y2="320.6" stroke="#707070" stroke-width="0.8"/>
<line x1="343.4" y1="323.0" x2="345.0" y2="323.0" stroke="#707070" stroke-width="0.8"/>
<line x1="344.2" y1="317.1" x2="344.2" y2="319.5" stroke="#a0a0a0" stroke-width="0.7"/>
<line x1="343.4" y1="317.1" x2="345.0" y2="317.1" stroke="#707070" stroke-width="0.8"/>
<line x1="343.4" y1="319.5" x2="345.0" y2="319.5" stroke="#707070" stroke-width="0.8"/>
<rect x="264.3" y="287.0" width="89.09999999999997" height="39.69999999999999" fill="none" stroke="#231f20" stroke-width="1.35"/>
<text x="262.5" y="295.8" font-size="9.8" text-anchor="end">8</text>
<text x="262.5" y="325.7" font-size="9.8" text-anchor="end">0</text>
<polyline points="272.3,337.5 290.3,351.0 308.2,356.8 326.3,345.8 344.2,349.8" fill="none" stroke="#ea4e9f" stroke-width="1.5" stroke-linejoin="round"/>
<polyline points="272.3,344.9 290.3,348.9 308.2,354.2 326.3,348.0 344.2,345.0" fill="none" stroke="#29ade3" stroke-width="1.5" stroke-linejoin="round"/>
<line x1="272.3" y1="334.8" x2="272.3" y2="340.2" stroke="#a0a0a0" stroke-width="0.7"/>
<line x1="271.5" y1="334.8" x2="273.1" y2="334.8" stroke="#707070" stroke-width="0.8"/>
<line x1="271.5" y1="340.2" x2="273.1" y2="340.2" stroke="#707070" stroke-width="0.8"/>
<line x1="272.3" y1="343.7" x2="272.3" y2="346.09999999999997" stroke="#a0a0a0" stroke-width="0.7"/>
<line x1="271.5" y1="343.7" x2="273.1" y2="343.7" stroke="#707070" stroke-width="0.8"/>
<line x1="271.5" y1="346.09999999999997" x2="273.1" y2="346.09999999999997" stroke="#707070" stroke-width="0.8"/>
<line x1="290.3" y1="349.8" x2="290.3" y2="352.2" stroke="#a0a0a0" stroke-width="0.7"/>
<line x1="289.5" y1="349.8" x2="291.1" y2="349.8" stroke="#707070" stroke-width="0.8"/>
<line x1="289.5" y1="352.2" x2="291.1" y2="352.2" stroke="#707070" stroke-width="0.8"/>
<line x1="290.3" y1="347.7" x2="290.3" y2="350.09999999999997" stroke="#a0a0a0" stroke-width="0.7"/>
<line x1="289.5" y1="347.7" x2="291.1" y2="347.7" stroke="#707070" stroke-width="0.8"/>
<line x1="289.5" y1="350.09999999999997" x2="291.1" y2="350.09999999999997" stroke="#707070" stroke-width="0.8"/>
<line x1="308.2" y1="355.6" x2="308.2" y2="358.0" stroke="#a0a0a0" stroke-width="0.7"/>
<line x1="307.4" y1="355.6" x2="309.0" y2="355.6" stroke="#707070" stroke-width="0.8"/>
<line x1="307.4" y1="358.0" x2="309.0" y2="358.0" stroke="#707070" stroke-width="0.8"/>
<line x1="308.2" y1="353.0" x2="308.2" y2="355.4" stroke="#a0a0a0" stroke-width="0.7"/>
<line x1="307.4" y1="353.0" x2="309.0" y2="353.0" stroke="#707070" stroke-width="0.8"/>
<line x1="307.4" y1="355.4" x2="309.0" y2="355.4" stroke="#707070" stroke-width="0.8"/>
<line x1="326.3" y1="343.6" x2="326.3" y2="348.0" stroke="#a0a0a0" stroke-width="0.7"/>
<line x1="325.5" y1="343.6" x2="327.1" y2="343.6" stroke="#707070" stroke-width="0.8"/>
<line x1="325.5" y1="348.0" x2="327.1" y2="348.0" stroke="#707070" stroke-width="0.8"/>
<line x1="326.3" y1="346.8" x2="326.3" y2="349.2" stroke="#a0a0a0" stroke-width="0.7"/>
<line x1="325.5" y1="346.8" x2="327.1" y2="346.8" stroke="#707070" stroke-width="0.8"/>
<line x1="325.5" y1="349.2" x2="327.1" y2="349.2" stroke="#707070" stroke-width="0.8"/>
<line x1="344.2" y1="347.6" x2="344.2" y2="352.0" stroke="#a0a0a0" stroke-width="0.7"/>
<line x1="343.4" y1="347.6" x2="345.0" y2="347.6" stroke="#707070" stroke-width="0.8"/>
<line x1="343.4" y1="352.0" x2="345.0" y2="352.0" stroke="#707070" stroke-width="0.8"/>
<line x1="344.2" y1="343.3" x2="344.2" y2="346.7" stroke="#a0a0a0" stroke-width="0.7"/>
<line x1="343.4" y1="343.3" x2="345.0" y2="343.3" stroke="#707070" stroke-width="0.8"/>
<line x1="343.4" y1="346.7" x2="345.0" y2="346.7" stroke="#707070" stroke-width="0.8"/>
<rect x="264.3" y="326.7" width="89.09999999999997" height="38.19999999999999" fill="none" stroke="#231f20" stroke-width="1.35"/>
<text x="262.5" y="335.5" font-size="9.8" text-anchor="end">4</text>
<text x="262.5" y="363.9" font-size="9.8" text-anchor="end">0</text>
<polyline points="272.3,377.3 290.3,391.3 308.2,388.9 326.3,386.6 344.2,392.2" fill="none" stroke="#ea4e9f" stroke-width="1.5" stroke-linejoin="round"/>
<polyline points="272.3,379.0 290.3,390.4 308.2,391.8 326.3,384.8 344.2,378.3" fill="none" stroke="#29ade3" stroke-width="1.5" stroke-linejoin="round"/>
<line x1="272.3" y1="375.1" x2="272.3" y2="379.5" stroke="#a0a0a0" stroke-width="0.7"/>
<line x1="271.5" y1="375.1" x2="273.1" y2="375.1" stroke="#707070" stroke-width="0.8"/>
<line x1="271.5" y1="379.5" x2="273.1" y2="379.5" stroke="#707070" stroke-width="0.8"/>
<line x1="272.3" y1="377.8" x2="272.3" y2="380.2" stroke="#a0a0a0" stroke-width="0.7"/>
<line x1="271.5" y1="377.8" x2="273.1" y2="377.8" stroke="#707070" stroke-width="0.8"/>
<line x1="271.5" y1="380.2" x2="273.1" y2="380.2" stroke="#707070" stroke-width="0.8"/>
<line x1="290.3" y1="389.6" x2="290.3" y2="393.0" stroke="#a0a0a0" stroke-width="0.7"/>
<line x1="289.5" y1="389.6" x2="291.1" y2="389.6" stroke="#707070" stroke-width="0.8"/>
<line x1="289.5" y1="393.0" x2="291.1" y2="393.0" stroke="#707070" stroke-width="0.8"/>
<line x1="290.3" y1="389.2" x2="290.3" y2="391.59999999999997" stroke="#a0a0a0" stroke-width="0.7"/>
<line x1="289.5" y1="389.2" x2="291.1" y2="389.2" stroke="#707070" stroke-width="0.8"/>
<line x1="289.5" y1="391.59999999999997" x2="291.1" y2="391.59999999999997" stroke="#707070" stroke-width="0.8"/>
<line x1="308.2" y1="387.2" x2="308.2" y2="390.59999999999997" stroke="#a0a0a0" stroke-width="0.7"/>
<line x1="307.4" y1="387.2" x2="309.0" y2="387.2" stroke="#707070" stroke-width="0.8"/>
<line x1="307.4" y1="390.59999999999997" x2="309.0" y2="390.59999999999997" stroke="#707070" stroke-width="0.8"/>
<line x1="308.2" y1="390.6" x2="308.2" y2="393.0" stroke="#a0a0a0" stroke-width="0.7"/>
<line x1="307.4" y1="390.6" x2="309.0" y2="390.6" stroke="#707070" stroke-width="0.8"/>
<line x1="307.4" y1="393.0" x2="309.0" y2="393.0" stroke="#707070" stroke-width="0.8"/>
<line x1="326.3" y1="384.90000000000003" x2="326.3" y2="388.3" stroke="#a0a0a0" stroke-width="0.7"/>
<line x1="325.5" y1="384.90000000000003" x2="327.1" y2="384.90000000000003" stroke="#707070" stroke-width="0.8"/>
<line x1="325.5" y1="388.3" x2="327.1" y2="388.3" stroke="#707070" stroke-width="0.8"/>
<line x1="326.3" y1="383.6" x2="326.3" y2="386.0" stroke="#a0a0a0" stroke-width="0.7"/>
<line x1="325.5" y1="383.6" x2="327.1" y2="383.6" stroke="#707070" stroke-width="0.8"/>
<line x1="325.5" y1="386.0" x2="327.1" y2="386.0" stroke="#707070" stroke-width="0.8"/>
<line x1="344.2" y1="391.0" x2="344.2" y2="393.4" stroke="#a0a0a0" stroke-width="0.7"/>
<line x1="343.4" y1="391.0" x2="345.0" y2="391.0" stroke="#707070" stroke-width="0.8"/>
<line x1="343.4" y1="393.4" x2="345.0" y2="393.4" stroke="#707070" stroke-width="0.8"/>
<line x1="344.2" y1="377.1" x2="344.2" y2="379.5" stroke="#a0a0a0" stroke-width="0.7"/>
<line x1="343.4" y1="377.1" x2="345.0" y2="377.1" stroke="#707070" stroke-width="0.8"/>
<line x1="343.4" y1="379.5" x2="345.0" y2="379.5" stroke="#707070" stroke-width="0.8"/>
<rect x="264.3" y="364.9" width="89.09999999999997" height="40.0" fill="none" stroke="#231f20" stroke-width="1.35"/>
<text x="262.5" y="373.7" font-size="9.8" text-anchor="end">6</text>
<text x="262.5" y="403.9" font-size="9.8" text-anchor="end">0</text>
<polyline points="272.3,418.1 290.3,426.5 308.2,425.1 326.3,420.8 344.2,433.5" fill="none" stroke="#ea4e9f" stroke-width="1.5" stroke-linejoin="round"/>
<polyline points="272.3,424.8 290.3,426.2 308.2,416.5 326.3,417.8 344.2,424.4" fill="none" stroke="#29ade3" stroke-width="1.5" stroke-linejoin="round"/>
<line x1="272.3" y1="413.90000000000003" x2="272.3" y2="422.3" stroke="#a0a0a0" stroke-width="0.7"/>
<line x1="271.5" y1="413.90000000000003" x2="273.1" y2="413.90000000000003" stroke="#707070" stroke-width="0.8"/>
<line x1="271.5" y1="422.3" x2="273.1" y2="422.3" stroke="#707070" stroke-width="0.8"/>
<line x1="272.3" y1="423.1" x2="272.3" y2="426.5" stroke="#a0a0a0" stroke-width="0.7"/>
<line x1="271.5" y1="423.1" x2="273.1" y2="423.1" stroke="#707070" stroke-width="0.8"/>
<line x1="271.5" y1="426.5" x2="273.1" y2="426.5" stroke="#707070" stroke-width="0.8"/>
<line x1="290.3" y1="423.8" x2="290.3" y2="429.2" stroke="#a0a0a0" stroke-width="0.7"/>
<line x1="289.5" y1="423.8" x2="291.1" y2="423.8" stroke="#707070" stroke-width="0.8"/>
<line x1="289.5" y1="429.2" x2="291.1" y2="429.2" stroke="#707070" stroke-width="0.8"/>
<line x1="290.3" y1="424.5" x2="290.3" y2="427.9" stroke="#a0a0a0" stroke-width="0.7"/>
<line x1="289.5" y1="424.5" x2="291.1" y2="424.5" stroke="#707070" stroke-width="0.8"/>
<line x1="289.5" y1="427.9" x2="291.1" y2="427.9" stroke="#707070" stroke-width="0.8"/>
<line x1="308.2" y1="421.90000000000003" x2="308.2" y2="428.3" stroke="#a0a0a0" stroke-width="0.7"/>
<line x1="307.4" y1="421.90000000000003" x2="309.0" y2="421.90000000000003" stroke="#707070" stroke-width="0.8"/>
<line x1="307.4" y1="428.3" x2="309.0" y2="428.3" stroke="#707070" stroke-width="0.8"/>
<line x1="308.2" y1="414.3" x2="308.2" y2="418.7" stroke="#a0a0a0" stroke-width="0.7"/>
<line x1="307.4" y1="414.3" x2="309.0" y2="414.3" stroke="#707070" stroke-width="0.8"/>
<line x1="307.4" y1="418.7" x2="309.0" y2="418.7" stroke="#707070" stroke-width="0.8"/>
<line x1="326.3" y1="414.1" x2="326.3" y2="427.5" stroke="#a0a0a0" stroke-width="0.7"/>
<line x1="325.5" y1="414.1" x2="327.1" y2="414.1" stroke="#707070" stroke-width="0.8"/>
<line x1="325.5" y1="427.5" x2="327.1" y2="427.5" stroke="#707070" stroke-width="0.8"/>
<line x1="326.3" y1="415.6" x2="326.3" y2="420.0" stroke="#a0a0a0" stroke-width="0.7"/>
<line x1="325.5" y1="415.6" x2="327.1" y2="415.6" stroke="#707070" stroke-width="0.8"/>
<line x1="325.5" y1="420.0" x2="327.1" y2="420.0" stroke="#707070" stroke-width="0.8"/>
<line x1="344.2" y1="431.8" x2="344.2" y2="435.2" stroke="#a0a0a0" stroke-width="0.7"/>
<line x1="343.4" y1="431.8" x2="345.0" y2="431.8" stroke="#707070" stroke-width="0.8"/>
<line x1="343.4" y1="435.2" x2="345.0" y2="435.2" stroke="#707070" stroke-width="0.8"/>
<line x1="344.2" y1="423.2" x2="344.2" y2="425.59999999999997" stroke="#a0a0a0" stroke-width="0.7"/>
<line x1="343.4" y1="423.2" x2="345.0" y2="423.2" stroke="#707070" stroke-width="0.8"/>
<line x1="343.4" y1="425.59999999999997" x2="345.0" y2="425.59999999999997" stroke="#707070" stroke-width="0.8"/>
<rect x="264.3" y="404.9" width="89.09999999999997" height="40.30000000000001" fill="none" stroke="#231f20" stroke-width="1.35"/>
<text x="262.5" y="413.7" font-size="9.8" text-anchor="end">3</text>
<text x="262.5" y="446.59999999999997" font-size="9.8" text-anchor="end">0</text>
<line x1="272.3" y1="445.2" x2="272.3" y2="443.2" stroke="#777" stroke-width="0.6"/>
<line x1="290.3" y1="445.2" x2="290.3" y2="443.2" stroke="#777" stroke-width="0.6"/>
<line x1="308.2" y1="445.2" x2="308.2" y2="443.2" stroke="#777" stroke-width="0.6"/>
<line x1="326.3" y1="445.2" x2="326.3" y2="443.2" stroke="#777" stroke-width="0.6"/>
<line x1="344.2" y1="445.2" x2="344.2" y2="443.2" stroke="#777" stroke-width="0.6"/>
<text x="273.1" y="455.1" font-size="10" text-anchor="middle">22</text>
<text x="291.1" y="455.1" font-size="10" text-anchor="middle">4</text>
<text x="309.0" y="455.1" font-size="10" text-anchor="middle">10</text>
<text x="327.1" y="455.1" font-size="10" text-anchor="middle">16</text>
<text x="345.0" y="455.1" font-size="10" text-anchor="middle">22</text>
<text x="418.7" y="242.4" font-size="14" text-anchor="middle" font-weight="bold" stroke="#231f20" stroke-width="0.35">S4</text>
<polyline points="383.0,272.8 400.5,251.7 417.7,275.4 434.7,276.8 451.9,262.4" fill="none" stroke="#ea4e9f" stroke-width="1.5" stroke-linejoin="round"/>
<polyline points="383.0,274.5 400.5,262.8 417.7,280.8 434.7,277.1 451.9,266.6" fill="none" stroke="#29ade3" stroke-width="1.5" stroke-linejoin="round"/>
<line x1="383.0" y1="270.6" x2="383.0" y2="275.0" stroke="#a0a0a0" stroke-width="0.7"/>
<line x1="382.2" y1="270.6" x2="383.8" y2="270.6" stroke="#707070" stroke-width="0.8"/>
<line x1="382.2" y1="275.0" x2="383.8" y2="275.0" stroke="#707070" stroke-width="0.8"/>
<line x1="383.0" y1="272.3" x2="383.0" y2="276.7" stroke="#a0a0a0" stroke-width="0.7"/>
<line x1="382.2" y1="272.3" x2="383.8" y2="272.3" stroke="#707070" stroke-width="0.8"/>
<line x1="382.2" y1="276.7" x2="383.8" y2="276.7" stroke="#707070" stroke-width="0.8"/>
<line x1="400.5" y1="250.5" x2="400.5" y2="252.89999999999998" stroke="#a0a0a0" stroke-width="0.7"/>
<line x1="399.7" y1="250.5" x2="401.3" y2="250.5" stroke="#707070" stroke-width="0.8"/>
<line x1="399.7" y1="252.89999999999998" x2="401.3" y2="252.89999999999998" stroke="#707070" stroke-width="0.8"/>
<line x1="400.5" y1="261.1" x2="400.5" y2="264.5" stroke="#a0a0a0" stroke-width="0.7"/>
<line x1="399.7" y1="261.1" x2="401.3" y2="261.1" stroke="#707070" stroke-width="0.8"/>
<line x1="399.7" y1="264.5" x2="401.3" y2="264.5" stroke="#707070" stroke-width="0.8"/>
<line x1="417.7" y1="274.2" x2="417.7" y2="276.59999999999997" stroke="#a0a0a0" stroke-width="0.7"/>
<line x1="416.9" y1="274.2" x2="418.5" y2="274.2" stroke="#707070" stroke-width="0.8"/>
<line x1="416.9" y1="276.59999999999997" x2="418.5" y2="276.59999999999997" stroke="#707070" stroke-width="0.8"/>
<line x1="417.7" y1="279.6" x2="417.7" y2="282.0" stroke="#a0a0a0" stroke-width="0.7"/>
<line x1="416.9" y1="279.6" x2="418.5" y2="279.6" stroke="#707070" stroke-width="0.8"/>
<line x1="416.9" y1="282.0" x2="418.5" y2="282.0" stroke="#707070" stroke-width="0.8"/>
<line x1="434.7" y1="275.6" x2="434.7" y2="278.0" stroke="#a0a0a0" stroke-width="0.7"/>
<line x1="433.9" y1="275.6" x2="435.5" y2="275.6" stroke="#707070" stroke-width="0.8"/>
<line x1="433.9" y1="278.0" x2="435.5" y2="278.0" stroke="#707070" stroke-width="0.8"/>
<line x1="434.7" y1="275.90000000000003" x2="434.7" y2="278.3" stroke="#a0a0a0" stroke-width="0.7"/>
<line x1="433.9" y1="275.90000000000003" x2="435.5" y2="275.90000000000003" stroke="#707070" stroke-width="0.8"/>
<line x1="433.9" y1="278.3" x2="435.5" y2="278.3" stroke="#707070" stroke-width="0.8"/>
<line x1="451.9" y1="260.7" x2="451.9" y2="264.09999999999997" stroke="#a0a0a0" stroke-width="0.7"/>
<line x1="451.09999999999997" y1="260.7" x2="452.7" y2="260.7" stroke="#707070" stroke-width="0.8"/>
<line x1="451.09999999999997" y1="264.09999999999997" x2="452.7" y2="264.09999999999997" stroke="#707070" stroke-width="0.8"/>
<line x1="451.9" y1="265.40000000000003" x2="451.9" y2="267.8" stroke="#a0a0a0" stroke-width="0.7"/>
<line x1="451.09999999999997" y1="265.40000000000003" x2="452.7" y2="265.40000000000003" stroke="#707070" stroke-width="0.8"/>
<line x1="451.09999999999997" y1="267.8" x2="452.7" y2="267.8" stroke="#707070" stroke-width="0.8"/>
<rect x="374.7" y="248.9" width="86.10000000000002" height="38.099999999999994" fill="none" stroke="#231f20" stroke-width="1.35"/>
<text x="372.9" y="255.6" font-size="9.8" text-anchor="end">6</text>
<text x="372.9" y="286.0" font-size="9.8" text-anchor="end">0</text>
<polyline points="383.0,318.8 400.5,301.3 417.7,296.9 434.7,321.5 451.9,315.7" fill="none" stroke="#ea4e9f" stroke-width="1.5" stroke-linejoin="round"/>
<polyline points="383.0,319.7 400.5,299.0 417.7,304.5 434.7,320.9 451.9,314.5" fill="none" stroke="#29ade3" stroke-width="1.5" stroke-linejoin="round"/>
<line x1="383.0" y1="317.6" x2="383.0" y2="320.0" stroke="#a0a0a0" stroke-width="0.7"/>
<line x1="382.2" y1="317.6" x2="383.8" y2="317.6" stroke="#707070" stroke-width="0.8"/>
<line x1="382.2" y1="320.0" x2="383.8" y2="320.0" stroke="#707070" stroke-width="0.8"/>
<line x1="383.0" y1="318.5" x2="383.0" y2="320.9" stroke="#a0a0a0" stroke-width="0.7"/>
<line x1="382.2" y1="318.5" x2="383.8" y2="318.5" stroke="#707070" stroke-width="0.8"/>
<line x1="382.2" y1="320.9" x2="383.8" y2="320.9" stroke="#707070" stroke-width="0.8"/>
<line x1="400.5" y1="299.1" x2="400.5" y2="303.5" stroke="#a0a0a0" stroke-width="0.7"/>
<line x1="399.7" y1="299.1" x2="401.3" y2="299.1" stroke="#707070" stroke-width="0.8"/>
<line x1="399.7" y1="303.5" x2="401.3" y2="303.5" stroke="#707070" stroke-width="0.8"/>
<line x1="400.5" y1="296.8" x2="400.5" y2="301.2" stroke="#a0a0a0" stroke-width="0.7"/>
<line x1="399.7" y1="296.8" x2="401.3" y2="296.8" stroke="#707070" stroke-width="0.8"/>
<line x1="399.7" y1="301.2" x2="401.3" y2="301.2" stroke="#707070" stroke-width="0.8"/>
<line x1="417.7" y1="294.7" x2="417.7" y2="299.09999999999997" stroke="#a0a0a0" stroke-width="0.7"/>
<line x1="416.9" y1="294.7" x2="418.5" y2="294.7" stroke="#707070" stroke-width="0.8"/>
<line x1="416.9" y1="299.09999999999997" x2="418.5" y2="299.09999999999997" stroke="#707070" stroke-width="0.8"/>
<line x1="417.7" y1="303.3" x2="417.7" y2="305.7" stroke="#a0a0a0" stroke-width="0.7"/>
<line x1="416.9" y1="303.3" x2="418.5" y2="303.3" stroke="#707070" stroke-width="0.8"/>
<line x1="416.9" y1="305.7" x2="418.5" y2="305.7" stroke="#707070" stroke-width="0.8"/>
<line x1="434.7" y1="320.3" x2="434.7" y2="322.7" stroke="#a0a0a0" stroke-width="0.7"/>
<line x1="433.9" y1="320.3" x2="435.5" y2="320.3" stroke="#707070" stroke-width="0.8"/>
<line x1="433.9" y1="322.7" x2="435.5" y2="322.7" stroke="#707070" stroke-width="0.8"/>
<line x1="434.7" y1="319.7" x2="434.7" y2="322.09999999999997" stroke="#a0a0a0" stroke-width="0.7"/>
<line x1="433.9" y1="319.7" x2="435.5" y2="319.7" stroke="#707070" stroke-width="0.8"/>
<line x1="433.9" y1="322.09999999999997" x2="435.5" y2="322.09999999999997" stroke="#707070" stroke-width="0.8"/>
<line x1="451.9" y1="314.0" x2="451.9" y2="317.4" stroke="#a0a0a0" stroke-width="0.7"/>
<line x1="451.09999999999997" y1="314.0" x2="452.7" y2="314.0" stroke="#707070" stroke-width="0.8"/>
<line x1="451.09999999999997" y1="317.4" x2="452.7" y2="317.4" stroke="#707070" stroke-width="0.8"/>
<line x1="451.9" y1="312.8" x2="451.9" y2="316.2" stroke="#a0a0a0" stroke-width="0.7"/>
<line x1="451.09999999999997" y1="312.8" x2="452.7" y2="312.8" stroke="#707070" stroke-width="0.8"/>
<line x1="451.09999999999997" y1="316.2" x2="452.7" y2="316.2" stroke="#707070" stroke-width="0.8"/>
<rect x="374.7" y="287.0" width="86.10000000000002" height="39.69999999999999" fill="none" stroke="#231f20" stroke-width="1.35"/>
<text x="372.9" y="295.8" font-size="9.8" text-anchor="end">8</text>
<text x="372.9" y="325.7" font-size="9.8" text-anchor="end">0</text>
<polyline points="383.0,344.5 400.5,348.0 417.7,345.8 434.7,337.2 451.9,342.8" fill="none" stroke="#ea4e9f" stroke-width="1.5" stroke-linejoin="round"/>
<polyline points="383.0,345.8 400.5,346.8 417.7,341.9 434.7,342.8 451.9,338.4" fill="none" stroke="#29ade3" stroke-width="1.5" stroke-linejoin="round"/>
<line x1="383.0" y1="342.3" x2="383.0" y2="346.7" stroke="#a0a0a0" stroke-width="0.7"/>
<line x1="382.2" y1="342.3" x2="383.8" y2="342.3" stroke="#707070" stroke-width="0.8"/>
<line x1="382.2" y1="346.7" x2="383.8" y2="346.7" stroke="#707070" stroke-width="0.8"/>
<line x1="383.0" y1="344.6" x2="383.0" y2="347.0" stroke="#a0a0a0" stroke-width="0.7"/>
<line x1="382.2" y1="344.6" x2="383.8" y2="344.6" stroke="#707070" stroke-width="0.8"/>
<line x1="382.2" y1="347.0" x2="383.8" y2="347.0" stroke="#707070" stroke-width="0.8"/>
<line x1="400.5" y1="345.3" x2="400.5" y2="350.7" stroke="#a0a0a0" stroke-width="0.7"/>
<line x1="399.7" y1="345.3" x2="401.3" y2="345.3" stroke="#707070" stroke-width="0.8"/>
<line x1="399.7" y1="350.7" x2="401.3" y2="350.7" stroke="#707070" stroke-width="0.8"/>
<line x1="400.5" y1="345.6" x2="400.5" y2="348.0" stroke="#a0a0a0" stroke-width="0.7"/>
<line x1="399.7" y1="345.6" x2="401.3" y2="345.6" stroke="#707070" stroke-width="0.8"/>
<line x1="399.7" y1="348.0" x2="401.3" y2="348.0" stroke="#707070" stroke-width="0.8"/>
<line x1="417.7" y1="343.1" x2="417.7" y2="348.5" stroke="#a0a0a0" stroke-width="0.7"/>
<line x1="416.9" y1="343.1" x2="418.5" y2="343.1" stroke="#707070" stroke-width="0.8"/>
<line x1="416.9" y1="348.5" x2="418.5" y2="348.5" stroke="#707070" stroke-width="0.8"/>
<line x1="417.7" y1="340.7" x2="417.7" y2="343.09999999999997" stroke="#a0a0a0" stroke-width="0.7"/>
<line x1="416.9" y1="340.7" x2="418.5" y2="340.7" stroke="#707070" stroke-width="0.8"/>
<line x1="416.9" y1="343.09999999999997" x2="418.5" y2="343.09999999999997" stroke="#707070" stroke-width="0.8"/>
<line x1="434.7" y1="334.5" x2="434.7" y2="339.9" stroke="#a0a0a0" stroke-width="0.7"/>
<line x1="433.9" y1="334.5" x2="435.5" y2="334.5" stroke="#707070" stroke-width="0.8"/>
<line x1="433.9" y1="339.9" x2="435.5" y2="339.9" stroke="#707070" stroke-width="0.8"/>
<line x1="434.7" y1="341.6" x2="434.7" y2="344.0" stroke="#a0a0a0" stroke-width="0.7"/>
<line x1="433.9" y1="341.6" x2="435.5" y2="341.6" stroke="#707070" stroke-width="0.8"/>
<line x1="433.9" y1="344.0" x2="435.5" y2="344.0" stroke="#707070" stroke-width="0.8"/>
<line x1="451.9" y1="340.6" x2="451.9" y2="345.0" stroke="#a0a0a0" stroke-width="0.7"/>
<line x1="451.09999999999997" y1="340.6" x2="452.7" y2="340.6" stroke="#707070" stroke-width="0.8"/>
<line x1="451.09999999999997" y1="345.0" x2="452.7" y2="345.0" stroke="#707070" stroke-width="0.8"/>
<line x1="451.9" y1="337.2" x2="451.9" y2="339.59999999999997" stroke="#a0a0a0" stroke-width="0.7"/>
<line x1="451.09999999999997" y1="337.2" x2="452.7" y2="337.2" stroke="#707070" stroke-width="0.8"/>
<line x1="451.09999999999997" y1="339.59999999999997" x2="452.7" y2="339.59999999999997" stroke="#707070" stroke-width="0.8"/>
<rect x="374.7" y="326.7" width="86.10000000000002" height="38.19999999999999" fill="none" stroke="#231f20" stroke-width="1.35"/>
<text x="372.9" y="335.5" font-size="9.8" text-anchor="end">2</text>
<text x="372.9" y="363.9" font-size="9.8" text-anchor="end">0</text>
<polyline points="383.0,387.4 400.5,388.9 417.7,385.7 434.7,389.2 451.9,386.6" fill="none" stroke="#ea4e9f" stroke-width="1.5" stroke-linejoin="round"/>
<polyline points="383.0,393.9 400.5,387.1 417.7,384.5 434.7,386.2 451.9,383.4" fill="none" stroke="#29ade3" stroke-width="1.5" stroke-linejoin="round"/>
<line x1="383.0" y1="385.7" x2="383.0" y2="389.09999999999997" stroke="#a0a0a0" stroke-width="0.7"/>
<line x1="382.2" y1="385.7" x2="383.8" y2="385.7" stroke="#707070" stroke-width="0.8"/>
<line x1="382.2" y1="389.09999999999997" x2="383.8" y2="389.09999999999997" stroke="#707070" stroke-width="0.8"/>
<line x1="383.0" y1="392.7" x2="383.0" y2="395.09999999999997" stroke="#a0a0a0" stroke-width="0.7"/>
<line x1="382.2" y1="392.7" x2="383.8" y2="392.7" stroke="#707070" stroke-width="0.8"/>
<line x1="382.2" y1="395.09999999999997" x2="383.8" y2="395.09999999999997" stroke="#707070" stroke-width="0.8"/>
<line x1="400.5" y1="386.7" x2="400.5" y2="391.09999999999997" stroke="#a0a0a0" stroke-width="0.7"/>
<line x1="399.7" y1="386.7" x2="401.3" y2="386.7" stroke="#707070" stroke-width="0.8"/>
<line x1="399.7" y1="391.09999999999997" x2="401.3" y2="391.09999999999997" stroke="#707070" stroke-width="0.8"/>
<line x1="400.5" y1="385.90000000000003" x2="400.5" y2="388.3" stroke="#a0a0a0" stroke-width="0.7"/>
<line x1="399.7" y1="385.90000000000003" x2="401.3" y2="385.90000000000003" stroke="#707070" stroke-width="0.8"/>
<line x1="399.7" y1="388.3" x2="401.3" y2="388.3" stroke="#707070" stroke-width="0.8"/>
<line x1="417.7" y1="384.0" x2="417.7" y2="387.4" stroke="#a0a0a0" stroke-width="0.7"/>
<line x1="416.9" y1="384.0" x2="418.5" y2="384.0" stroke="#707070" stroke-width="0.8"/>
<line x1="416.9" y1="387.4" x2="418.5" y2="387.4" stroke="#707070" stroke-width="0.8"/>
<line x1="417.7" y1="383.3" x2="417.7" y2="385.7" stroke="#a0a0a0" stroke-width="0.7"/>
<line x1="416.9" y1="383.3" x2="418.5" y2="383.3" stroke="#707070" stroke-width="0.8"/>
<line x1="416.9" y1="385.7" x2="418.5" y2="385.7" stroke="#707070" stroke-width="0.8"/>
<line x1="434.7" y1="387.0" x2="434.7" y2="391.4" stroke="#a0a0a0" stroke-width="0.7"/>
<line x1="433.9" y1="387.0" x2="435.5" y2="387.0" stroke="#707070" stroke-width="0.8"/>
<line x1="433.9" y1="391.4" x2="435.5" y2="391.4" stroke="#707070" stroke-width="0.8"/>
<line x1="434.7" y1="385.0" x2="434.7" y2="387.4" stroke="#a0a0a0" stroke-width="0.7"/>
<line x1="433.9" y1="385.0" x2="435.5" y2="385.0" stroke="#707070" stroke-width="0.8"/>
<line x1="433.9" y1="387.4" x2="435.5" y2="387.4" stroke="#707070" stroke-width="0.8"/>
<line x1="451.9" y1="384.40000000000003" x2="451.9" y2="388.8" stroke="#a0a0a0" stroke-width="0.7"/>
<line x1="451.09999999999997" y1="384.40000000000003" x2="452.7" y2="384.40000000000003" stroke="#707070" stroke-width="0.8"/>
<line x1="451.09999999999997" y1="388.8" x2="452.7" y2="388.8" stroke="#707070" stroke-width="0.8"/>
<line x1="451.9" y1="382.2" x2="451.9" y2="384.59999999999997" stroke="#a0a0a0" stroke-width="0.7"/>
<line x1="451.09999999999997" y1="382.2" x2="452.7" y2="382.2" stroke="#707070" stroke-width="0.8"/>
<line x1="451.09999999999997" y1="384.59999999999997" x2="452.7" y2="384.59999999999997" stroke="#707070" stroke-width="0.8"/>
<rect x="374.7" y="364.9" width="86.10000000000002" height="40.0" fill="none" stroke="#231f20" stroke-width="1.35"/>
<text x="372.9" y="373.7" font-size="9.8" text-anchor="end">3</text>
<text x="372.9" y="403.9" font-size="9.8" text-anchor="end">0</text>
<polyline points="383.0,427.4 400.5,425.3 417.7,424.3 434.7,425.7 451.9,427.1" fill="none" stroke="#ea4e9f" stroke-width="1.5" stroke-linejoin="round"/>
<polyline points="383.0,423.6 400.5,424.4 417.7,426.5 434.7,423.9 451.9,425.7" fill="none" stroke="#29ade3" stroke-width="1.5" stroke-linejoin="round"/>
<line x1="383.0" y1="425.7" x2="383.0" y2="429.09999999999997" stroke="#a0a0a0" stroke-width="0.7"/>
<line x1="382.2" y1="425.7" x2="383.8" y2="425.7" stroke="#707070" stroke-width="0.8"/>
<line x1="382.2" y1="429.09999999999997" x2="383.8" y2="429.09999999999997" stroke="#707070" stroke-width="0.8"/>
<line x1="383.0" y1="422.40000000000003" x2="383.0" y2="424.8" stroke="#a0a0a0" stroke-width="0.7"/>
<line x1="382.2" y1="422.40000000000003" x2="383.8" y2="422.40000000000003" stroke="#707070" stroke-width="0.8"/>
<line x1="382.2" y1="424.8" x2="383.8" y2="424.8" stroke="#707070" stroke-width="0.8"/>
<line x1="400.5" y1="423.1" x2="400.5" y2="427.5" stroke="#a0a0a0" stroke-width="0.7"/>
<line x1="399.7" y1="423.1" x2="401.3" y2="423.1" stroke="#707070" stroke-width="0.8"/>
<line x1="399.7" y1="427.5" x2="401.3" y2="427.5" stroke="#707070" stroke-width="0.8"/>
<line x1="400.5" y1="423.2" x2="400.5" y2="425.59999999999997" stroke="#a0a0a0" stroke-width="0.7"/>
<line x1="399.7" y1="423.2" x2="401.3" y2="423.2" stroke="#707070" stroke-width="0.8"/>
<line x1="399.7" y1="425.59999999999997" x2="401.3" y2="425.59999999999997" stroke="#707070" stroke-width="0.8"/>
<line x1="417.7" y1="422.6" x2="417.7" y2="426.0" stroke="#a0a0a0" stroke-width="0.7"/>
<line x1="416.9" y1="422.6" x2="418.5" y2="422.6" stroke="#707070" stroke-width="0.8"/>
<line x1="416.9" y1="426.0" x2="418.5" y2="426.0" stroke="#707070" stroke-width="0.8"/>
<line x1="417.7" y1="425.3" x2="417.7" y2="427.7" stroke="#a0a0a0" stroke-width="0.7"/>
<line x1="416.9" y1="425.3" x2="418.5" y2="425.3" stroke="#707070" stroke-width="0.8"/>
<line x1="416.9" y1="427.7" x2="418.5" y2="427.7" stroke="#707070" stroke-width="0.8"/>
<line x1="434.7" y1="423.5" x2="434.7" y2="427.9" stroke="#a0a0a0" stroke-width="0.7"/>
<line x1="433.9" y1="423.5" x2="435.5" y2="423.5" stroke="#707070" stroke-width="0.8"/>
<line x1="433.9" y1="427.9" x2="435.5" y2="427.9" stroke="#707070" stroke-width="0.8"/>
<line x1="434.7" y1="422.7" x2="434.7" y2="425.09999999999997" stroke="#a0a0a0" stroke-width="0.7"/>
<line x1="433.9" y1="422.7" x2="435.5" y2="422.7" stroke="#707070" stroke-width="0.8"/>
<line x1="433.9" y1="425.09999999999997" x2="435.5" y2="425.09999999999997" stroke="#707070" stroke-width="0.8"/>
<line x1="451.9" y1="425.40000000000003" x2="451.9" y2="428.8" stroke="#a0a0a0" stroke-width="0.7"/>
<line x1="451.09999999999997" y1="425.40000000000003" x2="452.7" y2="425.40000000000003" stroke="#707070" stroke-width="0.8"/>
<line x1="451.09999999999997" y1="428.8" x2="452.7" y2="428.8" stroke="#707070" stroke-width="0.8"/>
<line x1="451.9" y1="424.5" x2="451.9" y2="426.9" stroke="#a0a0a0" stroke-width="0.7"/>
<line x1="451.09999999999997" y1="424.5" x2="452.7" y2="424.5" stroke="#707070" stroke-width="0.8"/>
<line x1="451.09999999999997" y1="426.9" x2="452.7" y2="426.9" stroke="#707070" stroke-width="0.8"/>
<rect x="374.7" y="404.9" width="86.10000000000002" height="40.30000000000001" fill="none" stroke="#231f20" stroke-width="1.35"/>
<text x="372.9" y="413.7" font-size="9.8" text-anchor="end">2</text>
<text x="372.9" y="446.59999999999997" font-size="9.8" text-anchor="end">0</text>
<line x1="383.0" y1="445.2" x2="383.0" y2="443.2" stroke="#777" stroke-width="0.6"/>
<line x1="400.5" y1="445.2" x2="400.5" y2="443.2" stroke="#777" stroke-width="0.6"/>
<line x1="417.7" y1="445.2" x2="417.7" y2="443.2" stroke="#777" stroke-width="0.6"/>
<line x1="434.7" y1="445.2" x2="434.7" y2="443.2" stroke="#777" stroke-width="0.6"/>
<line x1="451.9" y1="445.2" x2="451.9" y2="443.2" stroke="#777" stroke-width="0.6"/>
<text x="383.8" y="455.1" font-size="10" text-anchor="middle">22</text>
<text x="401.3" y="455.1" font-size="10" text-anchor="middle">4</text>
<text x="418.5" y="455.1" font-size="10" text-anchor="middle">10</text>
<text x="435.5" y="455.1" font-size="10" text-anchor="middle">16</text>
<text x="452.7" y="455.1" font-size="10" text-anchor="middle">22</text>
<text x="523.6" y="242.4" font-size="14" text-anchor="middle" font-weight="bold" stroke="#231f20" stroke-width="0.35">S5</text>
<polyline points="493.4,284.3 511.1,261.9 529.3,277.1 547.0,280.6 564.9,276.4" fill="none" stroke="#ea4e9f" stroke-width="1.5" stroke-linejoin="round"/>
<polyline points="493.4,284.3 511.1,254.9 529.3,281.2 547.0,282.4 564.9,280.8" fill="none" stroke="#29ade3" stroke-width="1.5" stroke-linejoin="round"/>
<line x1="493.4" y1="283.1" x2="493.4" y2="285.5" stroke="#a0a0a0" stroke-width="0.7"/>
<line x1="492.59999999999997" y1="283.1" x2="494.2" y2="283.1" stroke="#707070" stroke-width="0.8"/>
<line x1="492.59999999999997" y1="285.5" x2="494.2" y2="285.5" stroke="#707070" stroke-width="0.8"/>
<line x1="493.4" y1="283.1" x2="493.4" y2="285.5" stroke="#a0a0a0" stroke-width="0.7"/>
<line x1="492.59999999999997" y1="283.1" x2="494.2" y2="283.1" stroke="#707070" stroke-width="0.8"/>
<line x1="492.59999999999997" y1="285.5" x2="494.2" y2="285.5" stroke="#707070" stroke-width="0.8"/>
<line x1="511.1" y1="260.7" x2="511.1" y2="263.09999999999997" stroke="#a0a0a0" stroke-width="0.7"/>
<line x1="510.3" y1="260.7" x2="511.90000000000003" y2="260.7" stroke="#707070" stroke-width="0.8"/>
<line x1="510.3" y1="263.09999999999997" x2="511.90000000000003" y2="263.09999999999997" stroke="#707070" stroke-width="0.8"/>
<line x1="511.1" y1="253.70000000000002" x2="511.1" y2="256.1" stroke="#a0a0a0" stroke-width="0.7"/>
<line x1="510.3" y1="253.70000000000002" x2="511.90000000000003" y2="253.70000000000002" stroke="#707070" stroke-width="0.8"/>
<line x1="510.3" y1="256.1" x2="511.90000000000003" y2="256.1" stroke="#707070" stroke-width="0.8"/>
<line x1="529.3" y1="275.90000000000003" x2="529.3" y2="278.3" stroke="#a0a0a0" stroke-width="0.7"/>
<line x1="528.5" y1="275.90000000000003" x2="530.0999999999999" y2="275.90000000000003" stroke="#707070" stroke-width="0.8"/>
<line x1="528.5" y1="278.3" x2="530.0999999999999" y2="278.3" stroke="#707070" stroke-width="0.8"/>
<line x1="529.3" y1="280.0" x2="529.3" y2="282.4" stroke="#a0a0a0" stroke-width="0.7"/>
<line x1="528.5" y1="280.0" x2="530.0999999999999" y2="280.0" stroke="#707070" stroke-width="0.8"/>
<line x1="528.5" y1="282.4" x2="530.0999999999999" y2="282.4" stroke="#707070" stroke-width="0.8"/>
<line x1="547.0" y1="279.40000000000003" x2="547.0" y2="281.8" stroke="#a0a0a0" stroke-width="0.7"/>
<line x1="546.2" y1="279.40000000000003" x2="547.8" y2="279.40000000000003" stroke="#707070" stroke-width="0.8"/>
<line x1="546.2" y1="281.8" x2="547.8" y2="281.8" stroke="#707070" stroke-width="0.8"/>
<line x1="547.0" y1="281.2" x2="547.0" y2="283.59999999999997" stroke="#a0a0a0" stroke-width="0.7"/>
<line x1="546.2" y1="281.2" x2="547.8" y2="281.2" stroke="#707070" stroke-width="0.8"/>
<line x1="546.2" y1="283.59999999999997" x2="547.8" y2="283.59999999999997" stroke="#707070" stroke-width="0.8"/>
<line x1="564.9" y1="275.2" x2="564.9" y2="277.59999999999997" stroke="#a0a0a0" stroke-width="0.7"/>
<line x1="564.1" y1="275.2" x2="565.6999999999999" y2="275.2" stroke="#707070" stroke-width="0.8"/>
<line x1="564.1" y1="277.59999999999997" x2="565.6999999999999" y2="277.59999999999997" stroke="#707070" stroke-width="0.8"/>
<line x1="564.9" y1="279.6" x2="564.9" y2="282.0" stroke="#a0a0a0" stroke-width="0.7"/>
<line x1="564.1" y1="279.6" x2="565.6999999999999" y2="279.6" stroke="#707070" stroke-width="0.8"/>
<line x1="564.1" y1="282.0" x2="565.6999999999999" y2="282.0" stroke="#707070" stroke-width="0.8"/>
<rect x="484.7" y="248.9" width="89.69999999999999" height="38.099999999999994" fill="none" stroke="#231f20" stroke-width="1.35"/>
<text x="482.9" y="255.6" font-size="9.8" text-anchor="end">5</text>
<text x="482.9" y="286.0" font-size="9.8" text-anchor="end">0</text>
<polyline points="493.4,311.3 511.1,291.7 529.3,318.3 547.0,314.5 564.9,310.4" fill="none" stroke="#ea4e9f" stroke-width="1.5" stroke-linejoin="round"/>
<polyline points="493.4,320.1 511.1,305.3 529.3,316.7 547.0,318.0 564.9,320.6" fill="none" stroke="#29ade3" stroke-width="1.5" stroke-linejoin="round"/>
<line x1="493.4" y1="309.6" x2="493.4" y2="313.0" stroke="#a0a0a0" stroke-width="0.7"/>
<line x1="492.59999999999997" y1="309.6" x2="494.2" y2="309.6" stroke="#707070" stroke-width="0.8"/>
<line x1="492.59999999999997" y1="313.0" x2="494.2" y2="313.0" stroke="#707070" stroke-width="0.8"/>
<line x1="493.4" y1="318.90000000000003" x2="493.4" y2="321.3" stroke="#a0a0a0" stroke-width="0.7"/>
<line x1="492.59999999999997" y1="318.90000000000003" x2="494.2" y2="318.90000000000003" stroke="#707070" stroke-width="0.8"/>
<line x1="492.59999999999997" y1="321.3" x2="494.2" y2="321.3" stroke="#707070" stroke-width="0.8"/>
<line x1="511.1" y1="290.0" x2="511.1" y2="293.4" stroke="#a0a0a0" stroke-width="0.7"/>
<line x1="510.3" y1="290.0" x2="511.90000000000003" y2="290.0" stroke="#707070" stroke-width="0.8"/>
<line x1="510.3" y1="293.4" x2="511.90000000000003" y2="293.4" stroke="#707070" stroke-width="0.8"/>
<line x1="511.1" y1="304.1" x2="511.1" y2="306.5" stroke="#a0a0a0" stroke-width="0.7"/>
<line x1="510.3" y1="304.1" x2="511.90000000000003" y2="304.1" stroke="#707070" stroke-width="0.8"/>
<line x1="510.3" y1="306.5" x2="511.90000000000003" y2="306.5" stroke="#707070" stroke-width="0.8"/>
<line x1="529.3" y1="317.1" x2="529.3" y2="319.5" stroke="#a0a0a0" stroke-width="0.7"/>
<line x1="528.5" y1="317.1" x2="530.0999999999999" y2="317.1" stroke="#707070" stroke-width="0.8"/>
<line x1="528.5" y1="319.5" x2="530.0999999999999" y2="319.5" stroke="#707070" stroke-width="0.8"/>
<line x1="529.3" y1="315.5" x2="529.3" y2="317.9" stroke="#a0a0a0" stroke-width="0.7"/>
<line x1="528.5" y1="315.5" x2="530.0999999999999" y2="315.5" stroke="#707070" stroke-width="0.8"/>
<line x1="528.5" y1="317.9" x2="530.0999999999999" y2="317.9" stroke="#707070" stroke-width="0.8"/>
<line x1="547.0" y1="312.8" x2="547.0" y2="316.2" stroke="#a0a0a0" stroke-width="0.7"/>
<line x1="546.2" y1="312.8" x2="547.8" y2="312.8" stroke="#707070" stroke-width="0.8"/>
<line x1="546.2" y1="316.2" x2="547.8" y2="316.2" stroke="#707070" stroke-width="0.8"/>
<line x1="547.0" y1="316.8" x2="547.0" y2="319.2" stroke="#a0a0a0" stroke-width="0.7"/>
<line x1="546.2" y1="316.8" x2="547.8" y2="316.8" stroke="#707070" stroke-width="0.8"/>
<line x1="546.2" y1="319.2" x2="547.8" y2="319.2" stroke="#707070" stroke-width="0.8"/>
<line x1="564.9" y1="308.7" x2="564.9" y2="312.09999999999997" stroke="#a0a0a0" stroke-width="0.7"/>
<line x1="564.1" y1="308.7" x2="565.6999999999999" y2="308.7" stroke="#707070" stroke-width="0.8"/>
<line x1="564.1" y1="312.09999999999997" x2="565.6999999999999" y2="312.09999999999997" stroke="#707070" stroke-width="0.8"/>
<line x1="564.9" y1="319.40000000000003" x2="564.9" y2="321.8" stroke="#a0a0a0" stroke-width="0.7"/>
<line x1="564.1" y1="319.40000000000003" x2="565.6999999999999" y2="319.40000000000003" stroke="#707070" stroke-width="0.8"/>
<line x1="564.1" y1="321.8" x2="565.6999999999999" y2="321.8" stroke="#707070" stroke-width="0.8"/>
<rect x="484.7" y="287.0" width="89.69999999999999" height="39.69999999999999" fill="none" stroke="#231f20" stroke-width="1.35"/>
<text x="482.9" y="295.8" font-size="9.8" text-anchor="end">6</text>
<text x="482.9" y="325.7" font-size="9.8" text-anchor="end">0</text>
<polyline points="493.4,349.8 511.1,339.8 529.3,353.8 547.0,347.7 564.9,351.9" fill="none" stroke="#ea4e9f" stroke-width="1.5" stroke-linejoin="round"/>
<polyline points="493.4,351.5 511.1,351.2 529.3,353.8 547.0,353.3 564.9,348.9" fill="none" stroke="#29ade3" stroke-width="1.5" stroke-linejoin="round"/>
<line x1="493.4" y1="348.1" x2="493.4" y2="351.5" stroke="#a0a0a0" stroke-width="0.7"/>
<line x1="492.59999999999997" y1="348.1" x2="494.2" y2="348.1" stroke="#707070" stroke-width="0.8"/>
<line x1="492.59999999999997" y1="351.5" x2="494.2" y2="351.5" stroke="#707070" stroke-width="0.8"/>
<line x1="493.4" y1="350.3" x2="493.4" y2="352.7" stroke="#a0a0a0" stroke-width="0.7"/>
<line x1="492.59999999999997" y1="350.3" x2="494.2" y2="350.3" stroke="#707070" stroke-width="0.8"/>
<line x1="492.59999999999997" y1="352.7" x2="494.2" y2="352.7" stroke="#707070" stroke-width="0.8"/>
<line x1="511.1" y1="338.1" x2="511.1" y2="341.5" stroke="#a0a0a0" stroke-width="0.7"/>
<line x1="510.3" y1="338.1" x2="511.90000000000003" y2="338.1" stroke="#707070" stroke-width="0.8"/>
<line x1="510.3" y1="341.5" x2="511.90000000000003" y2="341.5" stroke="#707070" stroke-width="0.8"/>
<line x1="511.1" y1="348.0" x2="511.1" y2="354.4" stroke="#a0a0a0" stroke-width="0.7"/>
<line x1="510.3" y1="348.0" x2="511.90000000000003" y2="348.0" stroke="#707070" stroke-width="0.8"/>
<line x1="510.3" y1="354.4" x2="511.90000000000003" y2="354.4" stroke="#707070" stroke-width="0.8"/>
<line x1="529.3" y1="352.1" x2="529.3" y2="355.5" stroke="#a0a0a0" stroke-width="0.7"/>
<line x1="528.5" y1="352.1" x2="530.0999999999999" y2="352.1" stroke="#707070" stroke-width="0.8"/>
<line x1="528.5" y1="355.5" x2="530.0999999999999" y2="355.5" stroke="#707070" stroke-width="0.8"/>
<line x1="529.3" y1="352.6" x2="529.3" y2="355.0" stroke="#a0a0a0" stroke-width="0.7"/>
<line x1="528.5" y1="352.6" x2="530.0999999999999" y2="352.6" stroke="#707070" stroke-width="0.8"/>
<line x1="528.5" y1="355.0" x2="530.0999999999999" y2="355.0" stroke="#707070" stroke-width="0.8"/>
<line x1="547.0" y1="345.5" x2="547.0" y2="349.9" stroke="#a0a0a0" stroke-width="0.7"/>
<line x1="546.2" y1="345.5" x2="547.8" y2="345.5" stroke="#707070" stroke-width="0.8"/>
<line x1="546.2" y1="349.9" x2="547.8" y2="349.9" stroke="#707070" stroke-width="0.8"/>
<line x1="547.0" y1="352.1" x2="547.0" y2="354.5" stroke="#a0a0a0" stroke-width="0.7"/>
<line x1="546.2" y1="352.1" x2="547.8" y2="352.1" stroke="#707070" stroke-width="0.8"/>
<line x1="546.2" y1="354.5" x2="547.8" y2="354.5" stroke="#707070" stroke-width="0.8"/>
<line x1="564.9" y1="348.7" x2="564.9" y2="355.09999999999997" stroke="#a0a0a0" stroke-width="0.7"/>
<line x1="564.1" y1="348.7" x2="565.6999999999999" y2="348.7" stroke="#707070" stroke-width="0.8"/>
<line x1="564.1" y1="355.09999999999997" x2="565.6999999999999" y2="355.09999999999997" stroke="#707070" stroke-width="0.8"/>
<line x1="564.9" y1="347.7" x2="564.9" y2="350.09999999999997" stroke="#a0a0a0" stroke-width="0.7"/>
<line x1="564.1" y1="347.7" x2="565.6999999999999" y2="347.7" stroke="#707070" stroke-width="0.8"/>
<line x1="564.1" y1="350.09999999999997" x2="565.6999999999999" y2="350.09999999999997" stroke="#707070" stroke-width="0.8"/>
<rect x="484.7" y="326.7" width="89.69999999999999" height="38.19999999999999" fill="none" stroke="#231f20" stroke-width="1.35"/>
<text x="482.9" y="335.5" font-size="9.8" text-anchor="end">3</text>
<text x="482.9" y="363.9" font-size="9.8" text-anchor="end">0</text>
<polyline points="493.4,399.7 511.1,380.8 529.3,390.1 547.0,379.6 564.9,381.8" fill="none" stroke="#ea4e9f" stroke-width="1.5" stroke-linejoin="round"/>
<polyline points="493.4,400.6 511.1,381.3 529.3,393.9 547.0,379.0 564.9,383.1" fill="none" stroke="#29ade3" stroke-width="1.5" stroke-linejoin="round"/>
<line x1="493.4" y1="398.5" x2="493.4" y2="400.9" stroke="#a0a0a0" stroke-width="0.7"/>
<line x1="492.59999999999997" y1="398.5" x2="494.2" y2="398.5" stroke="#707070" stroke-width="0.8"/>
<line x1="492.59999999999997" y1="400.9" x2="494.2" y2="400.9" stroke="#707070" stroke-width="0.8"/>
<line x1="493.4" y1="399.40000000000003" x2="493.4" y2="401.8" stroke="#a0a0a0" stroke-width="0.7"/>
<line x1="492.59999999999997" y1="399.40000000000003" x2="494.2" y2="399.40000000000003" stroke="#707070" stroke-width="0.8"/>
<line x1="492.59999999999997" y1="401.8" x2="494.2" y2="401.8" stroke="#707070" stroke-width="0.8"/>
<line x1="511.1" y1="379.1" x2="511.1" y2="382.5" stroke="#a0a0a0" stroke-width="0.7"/>
<line x1="510.3" y1="379.1" x2="511.90000000000003" y2="379.1" stroke="#707070" stroke-width="0.8"/>
<line x1="510.3" y1="382.5" x2="511.90000000000003" y2="382.5" stroke="#707070" stroke-width="0.8"/>
<line x1="511.1" y1="380.1" x2="511.1" y2="382.5" stroke="#a0a0a0" stroke-width="0.7"/>
<line x1="510.3" y1="380.1" x2="511.90000000000003" y2="380.1" stroke="#707070" stroke-width="0.8"/>
<line x1="510.3" y1="382.5" x2="511.90000000000003" y2="382.5" stroke="#707070" stroke-width="0.8"/>
<line x1="529.3" y1="388.40000000000003" x2="529.3" y2="391.8" stroke="#a0a0a0" stroke-width="0.7"/>
<line x1="528.5" y1="388.40000000000003" x2="530.0999999999999" y2="388.40000000000003" stroke="#707070" stroke-width="0.8"/>
<line x1="528.5" y1="391.8" x2="530.0999999999999" y2="391.8" stroke="#707070" stroke-width="0.8"/>
<line x1="529.3" y1="392.7" x2="529.3" y2="395.09999999999997" stroke="#a0a0a0" stroke-width="0.7"/>
<line x1="528.5" y1="392.7" x2="530.0999999999999" y2="392.7" stroke="#707070" stroke-width="0.8"/>
<line x1="528.5" y1="395.09999999999997" x2="530.0999999999999" y2="395.09999999999997" stroke="#707070" stroke-width="0.8"/>
<line x1="547.0" y1="377.90000000000003" x2="547.0" y2="381.3" stroke="#a0a0a0" stroke-width="0.7"/>
<line x1="546.2" y1="377.90000000000003" x2="547.8" y2="377.90000000000003" stroke="#707070" stroke-width="0.8"/>
<line x1="546.2" y1="381.3" x2="547.8" y2="381.3" stroke="#707070" stroke-width="0.8"/>
<line x1="547.0" y1="377.8" x2="547.0" y2="380.2" stroke="#a0a0a0" stroke-width="0.7"/>
<line x1="546.2" y1="377.8" x2="547.8" y2="377.8" stroke="#707070" stroke-width="0.8"/>
<line x1="546.2" y1="380.2" x2="547.8" y2="380.2" stroke="#707070" stroke-width="0.8"/>
<line x1="564.9" y1="380.6" x2="564.9" y2="383.0" stroke="#a0a0a0" stroke-width="0.7"/>
<line x1="564.1" y1="380.6" x2="565.6999999999999" y2="380.6" stroke="#707070" stroke-width="0.8"/>
<line x1="564.1" y1="383.0" x2="565.6999999999999" y2="383.0" stroke="#707070" stroke-width="0.8"/>
<line x1="564.9" y1="381.90000000000003" x2="564.9" y2="384.3" stroke="#a0a0a0" stroke-width="0.7"/>
<line x1="564.1" y1="381.90000000000003" x2="565.6999999999999" y2="381.90000000000003" stroke="#707070" stroke-width="0.8"/>
<line x1="564.1" y1="384.3" x2="565.6999999999999" y2="384.3" stroke="#707070" stroke-width="0.8"/>
<rect x="484.7" y="364.9" width="89.69999999999999" height="40.0" fill="none" stroke="#231f20" stroke-width="1.35"/>
<text x="482.9" y="373.7" font-size="9.8" text-anchor="end">5</text>
<text x="482.9" y="403.9" font-size="9.8" text-anchor="end">0</text>
<polyline points="493.4,430.9 511.1,415.7 529.3,431.8 547.0,434.8 564.9,436.2" fill="none" stroke="#ea4e9f" stroke-width="1.5" stroke-linejoin="round"/>
<polyline points="493.4,431.8 511.1,432.3 529.3,430.0 547.0,439.3 564.9,436.5" fill="none" stroke="#29ade3" stroke-width="1.5" stroke-linejoin="round"/>
<line x1="493.4" y1="427.7" x2="493.4" y2="434.09999999999997" stroke="#a0a0a0" stroke-width="0.7"/>
<line x1="492.59999999999997" y1="427.7" x2="494.2" y2="427.7" stroke="#707070" stroke-width="0.8"/>
<line x1="492.59999999999997" y1="434.09999999999997" x2="494.2" y2="434.09999999999997" stroke="#707070" stroke-width="0.8"/>
<line x1="493.4" y1="430.6" x2="493.4" y2="433.0" stroke="#a0a0a0" stroke-width="0.7"/>
<line x1="492.59999999999997" y1="430.6" x2="494.2" y2="430.6" stroke="#707070" stroke-width="0.8"/>
<line x1="492.59999999999997" y1="433.0" x2="494.2" y2="433.0" stroke="#707070" stroke-width="0.8"/>
<line x1="511.1" y1="412.5" x2="511.1" y2="418.9" stroke="#a0a0a0" stroke-width="0.7"/>
<line x1="510.3" y1="412.5" x2="511.90000000000003" y2="412.5" stroke="#707070" stroke-width="0.8"/>
<line x1="510.3" y1="418.9" x2="511.90000000000003" y2="418.9" stroke="#707070" stroke-width="0.8"/>
<line x1="511.1" y1="431.1" x2="511.1" y2="433.5" stroke="#a0a0a0" stroke-width="0.7"/>
<line x1="510.3" y1="431.1" x2="511.90000000000003" y2="431.1" stroke="#707070" stroke-width="0.8"/>
<line x1="510.3" y1="433.5" x2="511.90000000000003" y2="433.5" stroke="#707070" stroke-width="0.8"/>
<line x1="529.3" y1="428.6" x2="529.3" y2="435.0" stroke="#a0a0a0" stroke-width="0.7"/>
<line x1="528.5" y1="428.6" x2="530.0999999999999" y2="428.6" stroke="#707070" stroke-width="0.8"/>
<line x1="528.5" y1="435.0" x2="530.0999999999999" y2="435.0" stroke="#707070" stroke-width="0.8"/>
<line x1="529.3" y1="428.8" x2="529.3" y2="431.2" stroke="#a0a0a0" stroke-width="0.7"/>
<line x1="528.5" y1="428.8" x2="530.0999999999999" y2="428.8" stroke="#707070" stroke-width="0.8"/>
<line x1="528.5" y1="431.2" x2="530.0999999999999" y2="431.2" stroke="#707070" stroke-width="0.8"/>
<line x1="547.0" y1="431.1" x2="547.0" y2="438.5" stroke="#a0a0a0" stroke-width="0.7"/>
<line x1="546.2" y1="431.1" x2="547.8" y2="431.1" stroke="#707070" stroke-width="0.8"/>
<line x1="546.2" y1="438.5" x2="547.8" y2="438.5" stroke="#707070" stroke-width="0.8"/>
<line x1="547.0" y1="438.1" x2="547.0" y2="440.5" stroke="#a0a0a0" stroke-width="0.7"/>
<line x1="546.2" y1="438.1" x2="547.8" y2="438.1" stroke="#707070" stroke-width="0.8"/>
<line x1="546.2" y1="440.5" x2="547.8" y2="440.5" stroke="#707070" stroke-width="0.8"/>
<line x1="564.9" y1="433.0" x2="564.9" y2="439.4" stroke="#a0a0a0" stroke-width="0.7"/>
<line x1="564.1" y1="433.0" x2="565.6999999999999" y2="433.0" stroke="#707070" stroke-width="0.8"/>
<line x1="564.1" y1="439.4" x2="565.6999999999999" y2="439.4" stroke="#707070" stroke-width="0.8"/>
<line x1="564.9" y1="435.3" x2="564.9" y2="437.7" stroke="#a0a0a0" stroke-width="0.7"/>
<line x1="564.1" y1="435.3" x2="565.6999999999999" y2="435.3" stroke="#707070" stroke-width="0.8"/>
<line x1="564.1" y1="437.7" x2="565.6999999999999" y2="437.7" stroke="#707070" stroke-width="0.8"/>
<rect x="484.7" y="404.9" width="89.69999999999999" height="40.30000000000001" fill="none" stroke="#231f20" stroke-width="1.35"/>
<text x="482.9" y="413.7" font-size="9.8" text-anchor="end">5</text>
<text x="482.9" y="446.59999999999997" font-size="9.8" text-anchor="end">0</text>
<line x1="493.4" y1="445.2" x2="493.4" y2="443.2" stroke="#777" stroke-width="0.6"/>
<line x1="511.1" y1="445.2" x2="511.1" y2="443.2" stroke="#777" stroke-width="0.6"/>
<line x1="529.3" y1="445.2" x2="529.3" y2="443.2" stroke="#777" stroke-width="0.6"/>
<line x1="547.0" y1="445.2" x2="547.0" y2="443.2" stroke="#777" stroke-width="0.6"/>
<line x1="564.9" y1="445.2" x2="564.9" y2="443.2" stroke="#777" stroke-width="0.6"/>
<text x="494.2" y="455.1" font-size="10" text-anchor="middle">22</text>
<text x="511.90000000000003" y="455.1" font-size="10" text-anchor="middle">4</text>
<text x="530.0999999999999" y="455.1" font-size="10" text-anchor="middle">10</text>
<text x="547.8" y="455.1" font-size="10" text-anchor="middle">16</text>
<text x="565.6999999999999" y="455.1" font-size="10" text-anchor="middle">22</text>
<text x="637.5" y="242.4" font-size="14" text-anchor="middle" font-weight="bold" stroke="#231f20" stroke-width="0.35">S6</text>
<polyline points="605.6,265.8 623.1,260.1 640.5,272.0 657.8,277.4 675.3,266.7" fill="none" stroke="#ea4e9f" stroke-width="1.5" stroke-linejoin="round"/>
<polyline points="605.6,271.5 623.1,263.5 640.5,273.5 657.8,276.6 675.3,271.8" fill="none" stroke="#29ade3" stroke-width="1.5" stroke-linejoin="round"/>
<line x1="605.6" y1="261.6" x2="605.6" y2="270.0" stroke="#a0a0a0" stroke-width="0.7"/>
<line x1="604.8000000000001" y1="261.6" x2="606.4" y2="261.6" stroke="#707070" stroke-width="0.8"/>
<line x1="604.8000000000001" y1="270.0" x2="606.4" y2="270.0" stroke="#707070" stroke-width="0.8"/>
<line x1="605.6" y1="270.3" x2="605.6" y2="272.7" stroke="#a0a0a0" stroke-width="0.7"/>
<line x1="604.8000000000001" y1="270.3" x2="606.4" y2="270.3" stroke="#707070" stroke-width="0.8"/>
<line x1="604.8000000000001" y1="272.7" x2="606.4" y2="272.7" stroke="#707070" stroke-width="0.8"/>
<line x1="623.1" y1="256.40000000000003" x2="623.1" y2="263.8" stroke="#a0a0a0" stroke-width="0.7"/>
<line x1="622.3000000000001" y1="256.40000000000003" x2="623.9" y2="256.40000000000003" stroke="#707070" stroke-width="0.8"/>
<line x1="622.3000000000001" y1="263.8" x2="623.9" y2="263.8" stroke="#707070" stroke-width="0.8"/>
<line x1="623.1" y1="262.3" x2="623.1" y2="264.7" stroke="#a0a0a0" stroke-width="0.7"/>
<line x1="622.3000000000001" y1="262.3" x2="623.9" y2="262.3" stroke="#707070" stroke-width="0.8"/>
<line x1="622.3000000000001" y1="264.7" x2="623.9" y2="264.7" stroke="#707070" stroke-width="0.8"/>
<line x1="640.5" y1="269.8" x2="640.5" y2="274.2" stroke="#a0a0a0" stroke-width="0.7"/>
<line x1="639.7" y1="269.8" x2="641.3" y2="269.8" stroke="#707070" stroke-width="0.8"/>
<line x1="639.7" y1="274.2" x2="641.3" y2="274.2" stroke="#707070" stroke-width="0.8"/>
<line x1="640.5" y1="272.3" x2="640.5" y2="274.7" stroke="#a0a0a0" stroke-width="0.7"/>
<line x1="639.7" y1="272.3" x2="641.3" y2="272.3" stroke="#707070" stroke-width="0.8"/>
<line x1="639.7" y1="274.7" x2="641.3" y2="274.7" stroke="#707070" stroke-width="0.8"/>
<line x1="657.8" y1="276.2" x2="657.8" y2="278.59999999999997" stroke="#a0a0a0" stroke-width="0.7"/>
<line x1="657.0" y1="276.2" x2="658.5999999999999" y2="276.2" stroke="#707070" stroke-width="0.8"/>
<line x1="657.0" y1="278.59999999999997" x2="658.5999999999999" y2="278.59999999999997" stroke="#707070" stroke-width="0.8"/>
<line x1="657.8" y1="275.40000000000003" x2="657.8" y2="277.8" stroke="#a0a0a0" stroke-width="0.7"/>
<line x1="657.0" y1="275.40000000000003" x2="658.5999999999999" y2="275.40000000000003" stroke="#707070" stroke-width="0.8"/>
<line x1="657.0" y1="277.8" x2="658.5999999999999" y2="277.8" stroke="#707070" stroke-width="0.8"/>
<line x1="675.3" y1="264.5" x2="675.3" y2="268.9" stroke="#a0a0a0" stroke-width="0.7"/>
<line x1="674.5" y1="264.5" x2="676.0999999999999" y2="264.5" stroke="#707070" stroke-width="0.8"/>
<line x1="674.5" y1="268.9" x2="676.0999999999999" y2="268.9" stroke="#707070" stroke-width="0.8"/>
<line x1="675.3" y1="270.6" x2="675.3" y2="273.0" stroke="#a0a0a0" stroke-width="0.7"/>
<line x1="674.5" y1="270.6" x2="676.0999999999999" y2="270.6" stroke="#707070" stroke-width="0.8"/>
<line x1="674.5" y1="273.0" x2="676.0999999999999" y2="273.0" stroke="#707070" stroke-width="0.8"/>
<rect x="596.8" y="248.9" width="87.0" height="38.099999999999994" fill="none" stroke="#231f20" stroke-width="1.35"/>
<text x="595.0" y="255.6" font-size="9.8" text-anchor="end">4</text>
<text x="595.0" y="286.0" font-size="9.8" text-anchor="end">0</text>
<polyline points="605.6,311.1 623.1,300.0 640.5,310.6 657.8,316.0 675.3,314.3" fill="none" stroke="#ea4e9f" stroke-width="1.5" stroke-linejoin="round"/>
<polyline points="605.6,323.8 623.1,310.9 640.5,294.1 657.8,319.1 675.3,317.7" fill="none" stroke="#29ade3" stroke-width="1.5" stroke-linejoin="round"/>
<line x1="605.6" y1="309.90000000000003" x2="605.6" y2="312.3" stroke="#a0a0a0" stroke-width="0.7"/>
<line x1="604.8000000000001" y1="309.90000000000003" x2="606.4" y2="309.90000000000003" stroke="#707070" stroke-width="0.8"/>
<line x1="604.8000000000001" y1="312.3" x2="606.4" y2="312.3" stroke="#707070" stroke-width="0.8"/>
<line x1="605.6" y1="322.6" x2="605.6" y2="325.0" stroke="#a0a0a0" stroke-width="0.7"/>
<line x1="604.8000000000001" y1="322.6" x2="606.4" y2="322.6" stroke="#707070" stroke-width="0.8"/>
<line x1="604.8000000000001" y1="325.0" x2="606.4" y2="325.0" stroke="#707070" stroke-width="0.8"/>
<line x1="623.1" y1="298.8" x2="623.1" y2="301.2" stroke="#a0a0a0" stroke-width="0.7"/>
<line x1="622.3000000000001" y1="298.8" x2="623.9" y2="298.8" stroke="#707070" stroke-width="0.8"/>
<line x1="622.3000000000001" y1="301.2" x2="623.9" y2="301.2" stroke="#707070" stroke-width="0.8"/>
<line x1="623.1" y1="309.7" x2="623.1" y2="312.09999999999997" stroke="#a0a0a0" stroke-width="0.7"/>
<line x1="622.3000000000001" y1="309.7" x2="623.9" y2="309.7" stroke="#707070" stroke-width="0.8"/>
<line x1="622.3000000000001" y1="312.09999999999997" x2="623.9" y2="312.09999999999997" stroke="#707070" stroke-width="0.8"/>
<line x1="640.5" y1="309.40000000000003" x2="640.5" y2="311.8" stroke="#a0a0a0" stroke-width="0.7"/>
<line x1="639.7" y1="309.40000000000003" x2="641.3" y2="309.40000000000003" stroke="#707070" stroke-width="0.8"/>
<line x1="639.7" y1="311.8" x2="641.3" y2="311.8" stroke="#707070" stroke-width="0.8"/>
<line x1="640.5" y1="292.90000000000003" x2="640.5" y2="295.3" stroke="#a0a0a0" stroke-width="0.7"/>
<line x1="639.7" y1="292.90000000000003" x2="641.3" y2="292.90000000000003" stroke="#707070" stroke-width="0.8"/>
<line x1="639.7" y1="295.3" x2="641.3" y2="295.3" stroke="#707070" stroke-width="0.8"/>
<line x1="657.8" y1="314.3" x2="657.8" y2="317.7" stroke="#a0a0a0" stroke-width="0.7"/>
<line x1="657.0" y1="314.3" x2="658.5999999999999" y2="314.3" stroke="#707070" stroke-width="0.8"/>
<line x1="657.0" y1="317.7" x2="658.5999999999999" y2="317.7" stroke="#707070" stroke-width="0.8"/>
<line x1="657.8" y1="317.90000000000003" x2="657.8" y2="320.3" stroke="#a0a0a0" stroke-width="0.7"/>
<line x1="657.0" y1="317.90000000000003" x2="658.5999999999999" y2="317.90000000000003" stroke="#707070" stroke-width="0.8"/>
<line x1="657.0" y1="320.3" x2="658.5999999999999" y2="320.3" stroke="#707070" stroke-width="0.8"/>
<line x1="675.3" y1="313.1" x2="675.3" y2="315.5" stroke="#a0a0a0" stroke-width="0.7"/>
<line x1="674.5" y1="313.1" x2="676.0999999999999" y2="313.1" stroke="#707070" stroke-width="0.8"/>
<line x1="674.5" y1="315.5" x2="676.0999999999999" y2="315.5" stroke="#707070" stroke-width="0.8"/>
<line x1="675.3" y1="316.5" x2="675.3" y2="318.9" stroke="#a0a0a0" stroke-width="0.7"/>
<line x1="674.5" y1="316.5" x2="676.0999999999999" y2="316.5" stroke="#707070" stroke-width="0.8"/>
<line x1="674.5" y1="318.9" x2="676.0999999999999" y2="318.9" stroke="#707070" stroke-width="0.8"/>
<rect x="596.8" y="287.0" width="87.0" height="39.69999999999999" fill="none" stroke="#231f20" stroke-width="1.35"/>
<text x="595.0" y="295.8" font-size="9.8" text-anchor="end">8</text>
<text x="595.0" y="325.7" font-size="9.8" text-anchor="end">0</text>
<polyline points="605.6,347.7 623.1,354.3 640.5,351.5 657.8,347.2 675.3,343.3" fill="none" stroke="#ea4e9f" stroke-width="1.5" stroke-linejoin="round"/>
<polyline points="605.6,353.5 623.1,343.0 640.5,346.4 657.8,344.7 675.3,346.4" fill="none" stroke="#29ade3" stroke-width="1.5" stroke-linejoin="round"/>
<line x1="605.6" y1="346.5" x2="605.6" y2="348.9" stroke="#a0a0a0" stroke-width="0.7"/>
<line x1="604.8000000000001" y1="346.5" x2="606.4" y2="346.5" stroke="#707070" stroke-width="0.8"/>
<line x1="604.8000000000001" y1="348.9" x2="606.4" y2="348.9" stroke="#707070" stroke-width="0.8"/>
<line x1="605.6" y1="352.3" x2="605.6" y2="354.7" stroke="#a0a0a0" stroke-width="0.7"/>
<line x1="604.8000000000001" y1="352.3" x2="606.4" y2="352.3" stroke="#707070" stroke-width="0.8"/>
<line x1="604.8000000000001" y1="354.7" x2="606.4" y2="354.7" stroke="#707070" stroke-width="0.8"/>
<line x1="623.1" y1="352.1" x2="623.1" y2="356.5" stroke="#a0a0a0" stroke-width="0.7"/>
<line x1="622.3000000000001" y1="352.1" x2="623.9" y2="352.1" stroke="#707070" stroke-width="0.8"/>
<line x1="622.3000000000001" y1="356.5" x2="623.9" y2="356.5" stroke="#707070" stroke-width="0.8"/>
<line x1="623.1" y1="341.8" x2="623.1" y2="344.2" stroke="#a0a0a0" stroke-width="0.7"/>
<line x1="622.3000000000001" y1="341.8" x2="623.9" y2="341.8" stroke="#707070" stroke-width="0.8"/>
<line x1="622.3000000000001" y1="344.2" x2="623.9" y2="344.2" stroke="#707070" stroke-width="0.8"/>
<line x1="640.5" y1="348.3" x2="640.5" y2="354.7" stroke="#a0a0a0" stroke-width="0.7"/>
<line x1="639.7" y1="348.3" x2="641.3" y2="348.3" stroke="#707070" stroke-width="0.8"/>
<line x1="639.7" y1="354.7" x2="641.3" y2="354.7" stroke="#707070" stroke-width="0.8"/>
<line x1="640.5" y1="345.2" x2="640.5" y2="347.59999999999997" stroke="#a0a0a0" stroke-width="0.7"/>
<line x1="639.7" y1="345.2" x2="641.3" y2="345.2" stroke="#707070" stroke-width="0.8"/>
<line x1="639.7" y1="347.59999999999997" x2="641.3" y2="347.59999999999997" stroke="#707070" stroke-width="0.8"/>
<line x1="657.8" y1="345.0" x2="657.8" y2="349.4" stroke="#a0a0a0" stroke-width="0.7"/>
<line x1="657.0" y1="345.0" x2="658.5999999999999" y2="345.0" stroke="#707070" stroke-width="0.8"/>
<line x1="657.0" y1="349.4" x2="658.5999999999999" y2="349.4" stroke="#707070" stroke-width="0.8"/>
<line x1="657.8" y1="343.5" x2="657.8" y2="345.9" stroke="#a0a0a0" stroke-width="0.7"/>
<line x1="657.0" y1="343.5" x2="658.5999999999999" y2="343.5" stroke="#707070" stroke-width="0.8"/>
<line x1="657.0" y1="345.9" x2="658.5999999999999" y2="345.9" stroke="#707070" stroke-width="0.8"/>
<line x1="675.3" y1="341.1" x2="675.3" y2="345.5" stroke="#a0a0a0" stroke-width="0.7"/>
<line x1="674.5" y1="341.1" x2="676.0999999999999" y2="341.1" stroke="#707070" stroke-width="0.8"/>
<line x1="674.5" y1="345.5" x2="676.0999999999999" y2="345.5" stroke="#707070" stroke-width="0.8"/>
<line x1="675.3" y1="345.2" x2="675.3" y2="347.59999999999997" stroke="#a0a0a0" stroke-width="0.7"/>
<line x1="674.5" y1="345.2" x2="676.0999999999999" y2="345.2" stroke="#707070" stroke-width="0.8"/>
<line x1="674.5" y1="347.59999999999997" x2="676.0999999999999" y2="347.59999999999997" stroke="#707070" stroke-width="0.8"/>
<rect x="596.8" y="326.7" width="87.0" height="38.19999999999999" fill="none" stroke="#231f20" stroke-width="1.35"/>
<text x="595.0" y="335.5" font-size="9.8" text-anchor="end">3</text>
<text x="595.0" y="363.9" font-size="9.8" text-anchor="end">0</text>
<polyline points="605.6,389.4 623.1,393.6 640.5,399.4 657.8,392.8 675.3,377.5" fill="none" stroke="#ea4e9f" stroke-width="1.5" stroke-linejoin="round"/>
<polyline points="605.6,396.0 623.1,385.1 640.5,384.3 657.8,393.4 675.3,392.8" fill="none" stroke="#29ade3" stroke-width="1.5" stroke-linejoin="round"/>
<line x1="605.6" y1="388.2" x2="605.6" y2="390.59999999999997" stroke="#a0a0a0" stroke-width="0.7"/>
<line x1="604.8000000000001" y1="388.2" x2="606.4" y2="388.2" stroke="#707070" stroke-width="0.8"/>
<line x1="604.8000000000001" y1="390.59999999999997" x2="606.4" y2="390.59999999999997" stroke="#707070" stroke-width="0.8"/>
<line x1="605.6" y1="394.8" x2="605.6" y2="397.2" stroke="#a0a0a0" stroke-width="0.7"/>
<line x1="604.8000000000001" y1="394.8" x2="606.4" y2="394.8" stroke="#707070" stroke-width="0.8"/>
<line x1="604.8000000000001" y1="397.2" x2="606.4" y2="397.2" stroke="#707070" stroke-width="0.8"/>
<line x1="623.1" y1="392.40000000000003" x2="623.1" y2="394.8" stroke="#a0a0a0" stroke-width="0.7"/>
<line x1="622.3000000000001" y1="392.40000000000003" x2="623.9" y2="392.40000000000003" stroke="#707070" stroke-width="0.8"/>
<line x1="622.3000000000001" y1="394.8" x2="623.9" y2="394.8" stroke="#707070" stroke-width="0.8"/>
<line x1="623.1" y1="383.90000000000003" x2="623.1" y2="386.3" stroke="#a0a0a0" stroke-width="0.7"/>
<line x1="622.3000000000001" y1="383.90000000000003" x2="623.9" y2="383.90000000000003" stroke="#707070" stroke-width="0.8"/>
<line x1="622.3000000000001" y1="386.3" x2="623.9" y2="386.3" stroke="#707070" stroke-width="0.8"/>
<line x1="640.5" y1="398.2" x2="640.5" y2="400.59999999999997" stroke="#a0a0a0" stroke-width="0.7"/>
<line x1="639.7" y1="398.2" x2="641.3" y2="398.2" stroke="#707070" stroke-width="0.8"/>
<line x1="639.7" y1="400.59999999999997" x2="641.3" y2="400.59999999999997" stroke="#707070" stroke-width="0.8"/>
<line x1="640.5" y1="383.1" x2="640.5" y2="385.5" stroke="#a0a0a0" stroke-width="0.7"/>
<line x1="639.7" y1="383.1" x2="641.3" y2="383.1" stroke="#707070" stroke-width="0.8"/>
<line x1="639.7" y1="385.5" x2="641.3" y2="385.5" stroke="#707070" stroke-width="0.8"/>
<line x1="657.8" y1="391.6" x2="657.8" y2="394.0" stroke="#a0a0a0" stroke-width="0.7"/>
<line x1="657.0" y1="391.6" x2="658.5999999999999" y2="391.6" stroke="#707070" stroke-width="0.8"/>
<line x1="657.0" y1="394.0" x2="658.5999999999999" y2="394.0" stroke="#707070" stroke-width="0.8"/>
<line x1="657.8" y1="392.2" x2="657.8" y2="394.59999999999997" stroke="#a0a0a0" stroke-width="0.7"/>
<line x1="657.0" y1="392.2" x2="658.5999999999999" y2="392.2" stroke="#707070" stroke-width="0.8"/>
<line x1="657.0" y1="394.59999999999997" x2="658.5999999999999" y2="394.59999999999997" stroke="#707070" stroke-width="0.8"/>
<line x1="675.3" y1="376.3" x2="675.3" y2="378.7" stroke="#a0a0a0" stroke-width="0.7"/>
<line x1="674.5" y1="376.3" x2="676.0999999999999" y2="376.3" stroke="#707070" stroke-width="0.8"/>
<line x1="674.5" y1="378.7" x2="676.0999999999999" y2="378.7" stroke="#707070" stroke-width="0.8"/>
<line x1="675.3" y1="391.6" x2="675.3" y2="394.0" stroke="#a0a0a0" stroke-width="0.7"/>
<line x1="674.5" y1="391.6" x2="676.0999999999999" y2="391.6" stroke="#707070" stroke-width="0.8"/>
<line x1="674.5" y1="394.0" x2="676.0999999999999" y2="394.0" stroke="#707070" stroke-width="0.8"/>
<rect x="596.8" y="364.9" width="87.0" height="40.0" fill="none" stroke="#231f20" stroke-width="1.35"/>
<text x="595.0" y="373.7" font-size="9.8" text-anchor="end">5</text>
<text x="595.0" y="403.9" font-size="9.8" text-anchor="end">0</text>
<polyline points="605.6,428.2 623.1,435.5 640.5,433.2 657.8,423.6 675.3,433.2" fill="none" stroke="#ea4e9f" stroke-width="1.5" stroke-linejoin="round"/>
<polyline points="605.6,415.1 623.1,434.3 640.5,423.6 657.8,434.3 675.3,433.5" fill="none" stroke="#29ade3" stroke-width="1.5" stroke-linejoin="round"/>
<line x1="605.6" y1="427.0" x2="605.6" y2="429.4" stroke="#a0a0a0" stroke-width="0.7"/>
<line x1="604.8000000000001" y1="427.0" x2="606.4" y2="427.0" stroke="#707070" stroke-width="0.8"/>
<line x1="604.8000000000001" y1="429.4" x2="606.4" y2="429.4" stroke="#707070" stroke-width="0.8"/>
<line x1="605.6" y1="413.90000000000003" x2="605.6" y2="416.3" stroke="#a0a0a0" stroke-width="0.7"/>
<line x1="604.8000000000001" y1="413.90000000000003" x2="606.4" y2="413.90000000000003" stroke="#707070" stroke-width="0.8"/>
<line x1="604.8000000000001" y1="416.3" x2="606.4" y2="416.3" stroke="#707070" stroke-width="0.8"/>
<line x1="623.1" y1="434.3" x2="623.1" y2="436.7" stroke="#a0a0a0" stroke-width="0.7"/>
<line x1="622.3000000000001" y1="434.3" x2="623.9" y2="434.3" stroke="#707070" stroke-width="0.8"/>
<line x1="622.3000000000001" y1="436.7" x2="623.9" y2="436.7" stroke="#707070" stroke-width="0.8"/>
<line x1="623.1" y1="433.1" x2="623.1" y2="435.5" stroke="#a0a0a0" stroke-width="0.7"/>
<line x1="622.3000000000001" y1="433.1" x2="623.9" y2="433.1" stroke="#707070" stroke-width="0.8"/>
<line x1="622.3000000000001" y1="435.5" x2="623.9" y2="435.5" stroke="#707070" stroke-width="0.8"/>
<line x1="640.5" y1="432.0" x2="640.5" y2="434.4" stroke="#a0a0a0" stroke-width="0.7"/>
<line x1="639.7" y1="432.0" x2="641.3" y2="432.0" stroke="#707070" stroke-width="0.8"/>
<line x1="639.7" y1="434.4" x2="641.3" y2="434.4" stroke="#707070" stroke-width="0.8"/>
<line x1="640.5" y1="422.40000000000003" x2="640.5" y2="424.8" stroke="#a0a0a0" stroke-width="0.7"/>
<line x1="639.7" y1="422.40000000000003" x2="641.3" y2="422.40000000000003" stroke="#707070" stroke-width="0.8"/>
<line x1="639.7" y1="424.8" x2="641.3" y2="424.8" stroke="#707070" stroke-width="0.8"/>
<line x1="657.8" y1="422.40000000000003" x2="657.8" y2="424.8" stroke="#a0a0a0" stroke-width="0.7"/>
<line x1="657.0" y1="422.40000000000003" x2="658.5999999999999" y2="422.40000000000003" stroke="#707070" stroke-width="0.8"/>
<line x1="657.0" y1="424.8" x2="658.5999999999999" y2="424.8" stroke="#707070" stroke-width="0.8"/>
<line x1="657.8" y1="433.1" x2="657.8" y2="435.5" stroke="#a0a0a0" stroke-width="0.7"/>
<line x1="657.0" y1="433.1" x2="658.5999999999999" y2="433.1" stroke="#707070" stroke-width="0.8"/>
<line x1="657.0" y1="435.5" x2="658.5999999999999" y2="435.5" stroke="#707070" stroke-width="0.8"/>
<line x1="675.3" y1="432.0" x2="675.3" y2="434.4" stroke="#a0a0a0" stroke-width="0.7"/>
<line x1="674.5" y1="432.0" x2="676.0999999999999" y2="432.0" stroke="#707070" stroke-width="0.8"/>
<line x1="674.5" y1="434.4" x2="676.0999999999999" y2="434.4" stroke="#707070" stroke-width="0.8"/>
<line x1="675.3" y1="432.3" x2="675.3" y2="434.7" stroke="#a0a0a0" stroke-width="0.7"/>
<line x1="674.5" y1="432.3" x2="676.0999999999999" y2="432.3" stroke="#707070" stroke-width="0.8"/>
<line x1="674.5" y1="434.7" x2="676.0999999999999" y2="434.7" stroke="#707070" stroke-width="0.8"/>
<rect x="596.8" y="404.9" width="87.0" height="40.30000000000001" fill="none" stroke="#231f20" stroke-width="1.35"/>
<text x="595.0" y="413.7" font-size="9.8" text-anchor="end">3</text>
<text x="595.0" y="446.59999999999997" font-size="9.8" text-anchor="end">0</text>
<line x1="605.6" y1="445.2" x2="605.6" y2="443.2" stroke="#777" stroke-width="0.6"/>
<line x1="623.1" y1="445.2" x2="623.1" y2="443.2" stroke="#777" stroke-width="0.6"/>
<line x1="640.5" y1="445.2" x2="640.5" y2="443.2" stroke="#777" stroke-width="0.6"/>
<line x1="657.8" y1="445.2" x2="657.8" y2="443.2" stroke="#777" stroke-width="0.6"/>
<line x1="675.3" y1="445.2" x2="675.3" y2="443.2" stroke="#777" stroke-width="0.6"/>
<text x="606.4" y="455.1" font-size="10" text-anchor="middle">22</text>
<text x="623.9" y="455.1" font-size="10" text-anchor="middle">4</text>
<text x="641.3" y="455.1" font-size="10" text-anchor="middle">10</text>
<text x="658.5999999999999" y="455.1" font-size="10" text-anchor="middle">16</text>
<text x="676.0999999999999" y="455.1" font-size="10" text-anchor="middle">22</text>
<text x="353.0" y="469.2" font-size="11.2" text-anchor="middle" font-weight="bold">Time (h)</text>
<text x="6.0" y="476.6" font-size="19.0" text-anchor="start" textLength="13.4" lengthAdjust="spacingAndGlyphs" font-weight="bold" stroke="#231f20" stroke-width="0.3">D</text>
<text x="39.2" y="483.6" font-size="10.2" text-anchor="start" textLength="32.6" lengthAdjust="spacingAndGlyphs" font-weight="bold" font-style="italic" stroke="#231f20" stroke-width="0.3">NR1D1</text>
<line x1="67.6" y1="557.3" x2="67.6" y2="555.3" stroke="#777" stroke-width="0.6"/>
<line x1="99.0" y1="557.3" x2="99.0" y2="555.3" stroke="#777" stroke-width="0.6"/>
<line x1="38.6" y1="556.5" x2="40.6" y2="556.5" stroke="#777" stroke-width="0.6"/>
<text x="36.6" y="560.4" font-size="11" text-anchor="end">0</text>
<line x1="38.6" y1="534.9" x2="40.6" y2="534.9" stroke="#777" stroke-width="0.6"/>
<text x="36.6" y="538.8" font-size="11" text-anchor="end">2</text>
<line x1="38.6" y1="513.3" x2="40.6" y2="513.3" stroke="#777" stroke-width="0.6"/>
<text x="36.6" y="517.1999999999999" font-size="11" text-anchor="end">4</text>
<line x1="38.6" y1="491.7" x2="40.6" y2="491.7" stroke="#777" stroke-width="0.6"/>
<text x="36.6" y="495.59999999999997" font-size="11" text-anchor="end">6</text>
<line x1="67.6" y1="509.8" x2="99.0" y2="521.3" stroke="#d3d3d3" stroke-width="1.3"/>
<line x1="67.6" y1="525.9" x2="99.0" y2="530.0" stroke="#d3d3d3" stroke-width="1.3"/>
<line x1="67.6" y1="536.0" x2="99.0" y2="530.0" stroke="#d3d3d3" stroke-width="1.3"/>
<line x1="67.6" y1="537.9" x2="99.0" y2="535.1" stroke="#d3d3d3" stroke-width="1.3"/>
<line x1="67.6" y1="539.1" x2="99.0" y2="542.8" stroke="#d3d3d3" stroke-width="1.3"/>
<line x1="67.6" y1="545.2" x2="99.0" y2="542.8" stroke="#d3d3d3" stroke-width="1.3"/>
<circle cx="67.6" cy="509.8" r="2.1" fill="#29ade3"/>
<circle cx="99.0" cy="521.3" r="2.1" fill="#ee58a3"/>
<circle cx="67.6" cy="525.9" r="2.1" fill="#29ade3"/>
<circle cx="99.0" cy="530.0" r="2.1" fill="#ee58a3"/>
<circle cx="67.6" cy="536.0" r="2.1" fill="#29ade3"/>
<circle cx="99.0" cy="530.0" r="2.1" fill="#ee58a3"/>
<circle cx="67.6" cy="537.9" r="2.1" fill="#29ade3"/>
<circle cx="99.0" cy="535.1" r="2.1" fill="#ee58a3"/>
<circle cx="67.6" cy="539.1" r="2.1" fill="#29ade3"/>
<circle cx="99.0" cy="542.8" r="2.1" fill="#ee58a3"/>
<circle cx="67.6" cy="545.2" r="2.1" fill="#29ade3"/>
<circle cx="99.0" cy="542.8" r="2.1" fill="#ee58a3"/>
<rect x="38.6" y="488.0" width="91.0" height="69.29999999999995" fill="none" stroke="#231f20" stroke-width="1.35"/>
<text x="67.6" y="569.5" font-size="11" text-anchor="middle">18</text>
<text x="99.0" y="569.5" font-size="11" text-anchor="middle">28</text>
<text x="151.1" y="483.6" font-size="10.2" text-anchor="start" textLength="26.8" lengthAdjust="spacingAndGlyphs" font-weight="bold" font-style="italic" stroke="#231f20" stroke-width="0.3">PER3</text>
<line x1="178.6" y1="557.3" x2="178.6" y2="555.3" stroke="#777" stroke-width="0.6"/>
<line x1="212.3" y1="557.3" x2="212.3" y2="555.3" stroke="#777" stroke-width="0.6"/>
<line x1="150.5" y1="556.5" x2="152.5" y2="556.5" stroke="#777" stroke-width="0.6"/>
<text x="148.5" y="560.4" font-size="11" text-anchor="end">0</text>
<line x1="150.5" y1="534.9" x2="152.5" y2="534.9" stroke="#777" stroke-width="0.6"/>
<text x="148.5" y="538.8" font-size="11" text-anchor="end">2</text>
<line x1="150.5" y1="513.3" x2="152.5" y2="513.3" stroke="#777" stroke-width="0.6"/>
<text x="148.5" y="517.1999999999999" font-size="11" text-anchor="end">4</text>
<line x1="150.5" y1="491.7" x2="152.5" y2="491.7" stroke="#777" stroke-width="0.6"/>
<text x="148.5" y="495.59999999999997" font-size="11" text-anchor="end">6</text>
<line x1="178.6" y1="508.1" x2="212.3" y2="517.8" stroke="#d3d3d3" stroke-width="1.3"/>
<line x1="178.6" y1="528.8" x2="212.3" y2="522.6" stroke="#d3d3d3" stroke-width="1.3"/>
<line x1="178.6" y1="535.8" x2="212.3" y2="526.2" stroke="#d3d3d3" stroke-width="1.3"/>
<line x1="178.6" y1="538.6" x2="212.3" y2="530.2" stroke="#d3d3d3" stroke-width="1.3"/>
<line x1="178.6" y1="543.9" x2="212.3" y2="536.6" stroke="#d3d3d3" stroke-width="1.3"/>
<line x1="178.6" y1="546.7" x2="212.3" y2="541.6" stroke="#d3d3d3" stroke-width="1.3"/>
<circle cx="178.6" cy="508.1" r="2.1" fill="#29ade3"/>
<circle cx="212.3" cy="517.8" r="2.1" fill="#ee58a3"/>
<circle cx="178.6" cy="528.8" r="2.1" fill="#29ade3"/>
<circle cx="212.3" cy="522.6" r="2.1" fill="#ee58a3"/>
<circle cx="178.6" cy="535.8" r="2.1" fill="#29ade3"/>
<circle cx="212.3" cy="526.2" r="2.1" fill="#ee58a3"/>
<circle cx="178.6" cy="538.6" r="2.1" fill="#29ade3"/>
<circle cx="212.3" cy="530.2" r="2.1" fill="#ee58a3"/>
<circle cx="178.6" cy="543.9" r="2.1" fill="#29ade3"/>
<circle cx="212.3" cy="536.6" r="2.1" fill="#ee58a3"/>
<circle cx="178.6" cy="546.7" r="2.1" fill="#29ade3"/>
<circle cx="212.3" cy="541.6" r="2.1" fill="#ee58a3"/>
<rect x="150.5" y="488.0" width="91.69999999999999" height="69.29999999999995" fill="none" stroke="#231f20" stroke-width="1.35"/>
<text x="178.6" y="569.5" font-size="11" text-anchor="middle">18</text>
<text x="212.3" y="569.5" font-size="11" text-anchor="middle">28</text>
<text x="265.1" y="483.6" font-size="10.2" text-anchor="start" textLength="33.8" lengthAdjust="spacingAndGlyphs" font-weight="bold" font-style="italic" stroke="#231f20" stroke-width="0.3">BMAL1</text>
<line x1="295.2" y1="557.3" x2="295.2" y2="555.3" stroke="#777" stroke-width="0.6"/>
<line x1="325.9" y1="557.3" x2="325.9" y2="555.3" stroke="#777" stroke-width="0.6"/>
<line x1="264.5" y1="554.4" x2="266.5" y2="554.4" stroke="#777" stroke-width="0.6"/>
<text x="262.5" y="558.3" font-size="11" text-anchor="end">0</text>
<line x1="264.5" y1="523.2" x2="266.5" y2="523.2" stroke="#777" stroke-width="0.6"/>
<text x="262.5" y="527.1" font-size="11" text-anchor="end">1</text>
<line x1="264.5" y1="492.0" x2="266.5" y2="492.0" stroke="#777" stroke-width="0.6"/>
<text x="262.5" y="495.9" font-size="11" text-anchor="end">2</text>
<line x1="295.2" y1="532.8" x2="325.9" y2="510.7" stroke="#d3d3d3" stroke-width="1.3"/>
<line x1="295.2" y1="537.2" x2="325.9" y2="533.2" stroke="#d3d3d3" stroke-width="1.3"/>
<line x1="295.2" y1="538.6" x2="325.9" y2="531.6" stroke="#d3d3d3" stroke-width="1.3"/>
<line x1="295.2" y1="540.2" x2="325.9" y2="534.6" stroke="#d3d3d3" stroke-width="1.3"/>
<line x1="295.2" y1="546.7" x2="325.9" y2="537.2" stroke="#d3d3d3" stroke-width="1.3"/>
<line x1="295.2" y1="547.9" x2="325.9" y2="544.9" stroke="#d3d3d3" stroke-width="1.3"/>
<circle cx="295.2" cy="532.8" r="2.1" fill="#29ade3"/>
<circle cx="325.9" cy="510.7" r="2.1" fill="#ee58a3"/>
<circle cx="295.2" cy="537.2" r="2.1" fill="#29ade3"/>
<circle cx="325.9" cy="533.2" r="2.1" fill="#ee58a3"/>
<circle cx="295.2" cy="538.6" r="2.1" fill="#29ade3"/>
<circle cx="325.9" cy="531.6" r="2.1" fill="#ee58a3"/>
<circle cx="295.2" cy="540.2" r="2.1" fill="#29ade3"/>
<circle cx="325.9" cy="534.6" r="2.1" fill="#ee58a3"/>
<circle cx="295.2" cy="546.7" r="2.1" fill="#29ade3"/>
<circle cx="325.9" cy="537.2" r="2.1" fill="#ee58a3"/>
<circle cx="295.2" cy="547.9" r="2.1" fill="#29ade3"/>
<circle cx="325.9" cy="544.9" r="2.1" fill="#ee58a3"/>
<rect x="264.5" y="488.0" width="89.5" height="69.29999999999995" fill="none" stroke="#231f20" stroke-width="1.35"/>
<text x="295.2" y="569.5" font-size="11" text-anchor="middle">18</text>
<text x="325.9" y="569.5" font-size="11" text-anchor="middle">28</text>
<text x="375.70000000000005" y="483.6" font-size="10.2" text-anchor="start" textLength="33.0" lengthAdjust="spacingAndGlyphs" font-weight="bold" font-style="italic" stroke="#231f20" stroke-width="0.3">CLOCK</text>
<line x1="401.8" y1="557.3" x2="401.8" y2="555.3" stroke="#777" stroke-width="0.6"/>
<line x1="432.3" y1="557.3" x2="432.3" y2="555.3" stroke="#777" stroke-width="0.6"/>
<line x1="375.1" y1="554.4" x2="377.1" y2="554.4" stroke="#777" stroke-width="0.6"/>
<text x="373.1" y="558.3" font-size="11" text-anchor="end">0</text>
<line x1="375.1" y1="523.2" x2="377.1" y2="523.2" stroke="#777" stroke-width="0.6"/>
<text x="373.1" y="527.1" font-size="11" text-anchor="end">1</text>
<line x1="375.1" y1="492.0" x2="377.1" y2="492.0" stroke="#777" stroke-width="0.6"/>
<text x="373.1" y="495.9" font-size="11" text-anchor="end">2</text>
<line x1="401.8" y1="506.7" x2="432.3" y2="511.1" stroke="#d3d3d3" stroke-width="1.3"/>
<line x1="401.8" y1="517.4" x2="432.3" y2="517.2" stroke="#d3d3d3" stroke-width="1.3"/>
<line x1="401.8" y1="529.8" x2="432.3" y2="513.1" stroke="#d3d3d3" stroke-width="1.3"/>
<line x1="401.8" y1="541.2" x2="432.3" y2="540.6" stroke="#d3d3d3" stroke-width="1.3"/>
<line x1="401.8" y1="542.6" x2="432.3" y2="542.2" stroke="#d3d3d3" stroke-width="1.3"/>
<line x1="401.8" y1="544.7" x2="432.3" y2="551.9" stroke="#d3d3d3" stroke-width="1.3"/>
<circle cx="401.8" cy="506.7" r="2.1" fill="#29ade3"/>
<circle cx="432.3" cy="511.1" r="2.1" fill="#ee58a3"/>
<circle cx="401.8" cy="517.4" r="2.1" fill="#29ade3"/>
<circle cx="432.3" cy="517.2" r="2.1" fill="#ee58a3"/>
<circle cx="401.8" cy="529.8" r="2.1" fill="#29ade3"/>
<circle cx="432.3" cy="513.1" r="2.1" fill="#ee58a3"/>
<circle cx="401.8" cy="541.2" r="2.1" fill="#29ade3"/>
<circle cx="432.3" cy="540.6" r="2.1" fill="#ee58a3"/>
<circle cx="401.8" cy="542.6" r="2.1" fill="#29ade3"/>
<circle cx="432.3" cy="542.2" r="2.1" fill="#ee58a3"/>
<circle cx="401.8" cy="544.7" r="2.1" fill="#29ade3"/>
<circle cx="432.3" cy="551.9" r="2.1" fill="#ee58a3"/>
<rect x="375.1" y="488.0" width="86.29999999999995" height="69.29999999999995" fill="none" stroke="#231f20" stroke-width="1.35"/>
<text x="401.8" y="569.5" font-size="11" text-anchor="middle">18</text>
<text x="432.3" y="569.5" font-size="11" text-anchor="middle">28</text>
<text x="485.3" y="483.6" font-size="10.2" text-anchor="start" textLength="26.0" lengthAdjust="spacingAndGlyphs" font-weight="bold" font-style="italic" stroke="#231f20" stroke-width="0.3">CRY1</text>
<line x1="515.2" y1="557.3" x2="515.2" y2="555.3" stroke="#777" stroke-width="0.6"/>
<line x1="545.7" y1="557.3" x2="545.7" y2="555.3" stroke="#777" stroke-width="0.6"/>
<line x1="484.7" y1="554.4" x2="486.7" y2="554.4" stroke="#777" stroke-width="0.6"/>
<text x="482.7" y="558.3" font-size="11" text-anchor="end">0</text>
<line x1="484.7" y1="523.2" x2="486.7" y2="523.2" stroke="#777" stroke-width="0.6"/>
<text x="482.7" y="527.1" font-size="11" text-anchor="end">1</text>
<line x1="484.7" y1="492.0" x2="486.7" y2="492.0" stroke="#777" stroke-width="0.6"/>
<text x="482.7" y="495.9" font-size="11" text-anchor="end">2</text>
<line x1="515.2" y1="520.8" x2="545.7" y2="495.1" stroke="#d3d3d3" stroke-width="1.3"/>
<line x1="515.2" y1="523.2" x2="545.7" y2="534.6" stroke="#d3d3d3" stroke-width="1.3"/>
<line x1="515.2" y1="530.8" x2="545.7" y2="506.7" stroke="#d3d3d3" stroke-width="1.3"/>
<line x1="515.2" y1="537.2" x2="545.7" y2="531.8" stroke="#d3d3d3" stroke-width="1.3"/>
<line x1="515.2" y1="544.7" x2="545.7" y2="536.2" stroke="#d3d3d3" stroke-width="1.3"/>
<line x1="515.2" y1="548.3" x2="545.7" y2="548.3" stroke="#d3d3d3" stroke-width="1.3"/>
<circle cx="515.2" cy="520.8" r="2.1" fill="#29ade3"/>
<circle cx="545.7" cy="495.1" r="2.1" fill="#ee58a3"/>
<circle cx="515.2" cy="523.2" r="2.1" fill="#29ade3"/>
<circle cx="545.7" cy="534.6" r="2.1" fill="#ee58a3"/>
<circle cx="515.2" cy="530.8" r="2.1" fill="#29ade3"/>
<circle cx="545.7" cy="506.7" r="2.1" fill="#ee58a3"/>
<circle cx="515.2" cy="537.2" r="2.1" fill="#29ade3"/>
<circle cx="545.7" cy="531.8" r="2.1" fill="#ee58a3"/>
<circle cx="515.2" cy="544.7" r="2.1" fill="#29ade3"/>
<circle cx="545.7" cy="536.2" r="2.1" fill="#ee58a3"/>
<circle cx="515.2" cy="548.3" r="2.1" fill="#29ade3"/>
<circle cx="545.7" cy="548.3" r="2.1" fill="#ee58a3"/>
<rect x="484.7" y="488.0" width="91.00000000000006" height="69.29999999999995" fill="none" stroke="#231f20" stroke-width="1.35"/>
<text x="515.2" y="569.5" font-size="11" text-anchor="middle">18</text>
<text x="545.7" y="569.5" font-size="11" text-anchor="middle">28</text>
<text x="20.6" y="522.2" font-size="11" text-anchor="middle" font-weight="bold" transform="rotate(-90 20.6 522.2)" stroke="#231f20" stroke-width="0.3">Amplitude</text>
<text x="314.2" y="585.8" font-size="11.1" text-anchor="middle" font-weight="bold">Temperature (°C)</text>
</svg></body></html>
